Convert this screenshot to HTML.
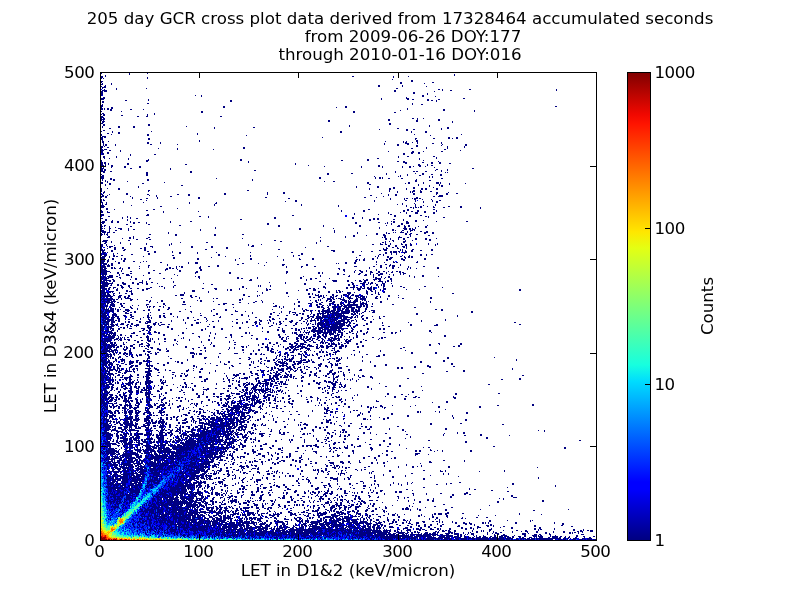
<!DOCTYPE html>
<html><head><meta charset="utf-8"><title>GCR cross plot</title>
<style>
html,body{margin:0;padding:0;background:#fff;}
body{width:800px;height:600px;overflow:hidden;}
svg{display:block;}
.tk{letter-spacing:-0.5px}
.txt{filter:grayscale(1)}
text{font-family:"DejaVu Sans","Liberation Sans",sans-serif;font-size:16.67px;fill:#000;}
</style></head><body>
<svg width="800" height="600" viewBox="0 0 800 600">
<defs>
<linearGradient id="jet" x1="0" y1="1" x2="0" y2="0">
<stop offset="0" stop-color="#000080"/>
<stop offset="0.11" stop-color="#0000ff"/>
<stop offset="0.125" stop-color="#0000ff"/>
<stop offset="0.34" stop-color="#00dcfe"/>
<stop offset="0.375" stop-color="#17ffdf"/>
<stop offset="0.5" stop-color="#7dff7a"/>
<stop offset="0.625" stop-color="#e4ff13"/>
<stop offset="0.66" stop-color="#ffe600"/>
<stop offset="0.89" stop-color="#ff1400"/>
<stop offset="0.91" stop-color="#f10800"/>
<stop offset="1" stop-color="#800000"/>
</linearGradient>
</defs>
<rect width="800" height="600" fill="#fff"/>
<g fill="none" stroke-width="1" shape-rendering="crispEdges">
<path stroke="#000080" d="M0 .5m147 72h1m-47 1h1m27 0h1m17 0h1m-19 1h1m324 0h1m-350 1h1m348 0h1m-354 1h2m2 0h1m246 0h2m39 0h1m14 0h1m-308 1h2m44 0h1m245 0h1m-293 1h1m1 0h1m43 0h1m244 1h1m18 1h2m-312 1h2m308 0h2m-312 1h1m298 0h2m30 0h2m-332 1h1m8 0h1m288 0h2m22 0h1m-324 1h2m8 0h1m-7 1h1m272 0h2m22 0h1m-302 1h1m2 0h2m272 0h2m22 0h1m23 0h1m-325 1h4m-4 1h1m13 0h1m29 0h1m249 0h2m-294 1h1m11 0h1m321 0h2m2 0h1m26 0h2m85 0h1m-455 1h5m287 0h2m46 0h1m7 0h2m104 0h1m-456 1h2m1 0h3m287 0h2m38 0h1m-334 1h2m310 0h2m-314 1h2m310 0h2m12 0h1m-327 1h2m324 0h1m-327 1h1m93 0h1m5 0h1m220 0h2m-223 1h1m220 0h2m11 0h1m-333 1h2m301 0h1m-306 1h4m276 0h1m24 0h3m54 0h2m-364 1h3m44 0h1m232 0h1m25 0h2m3 0h2m13 0h2m9 0h2m-315 1h2m21 0h1m81 0h2m195 0h2m2 0h2m3 0h1m-335 1h2m126 0h2m204 0h1m-335 1h2m43 1h2m263 0h1m-311 1h1m309 0h1m8 0h2m-322 1h2m-2 1h2m120 0h2m120 0h2m208 0h2m-456 1h1m9 0h2m110 0h2m111 0h1m8 0h2m-246 1h2m1 0h1m2 0h2m2 0h2m294 0h1m-307 1h2m1 0h1m2 0h2m1 0h2m18 0h2m11 0h1m263 0h1m35 0h2m-335 1h2m288 0h1m42 0h2m29 0h1m-374 1h1m19 0h1m79 0h2m150 0h2m119 0h1m-274 1h2m150 0h2m39 0h2m-294 1h2m50 0h1m-54 1h1m1 0h2m42 0h1m6 0h1m-52 1h2m16 0h2m24 0h1m-47 1h2m34 0h2m7 0h2m72 0h2m-121 1h3m-3 1h1m1 0h2m307 0h2m3 0h1m5 0h1m-323 1h4m283 0h2m27 0h1m20 0h2m-339 1h1m1 0h1m224 0h2m58 0h2m26 0h2m20 0h2m-338 1h3m223 0h2m86 0h2m34 0h1m-351 1h2m348 0h1m-352 1h2m286 0h2m-288 1h2m43 0h2m239 0h2m-288 1h2m43 0h2m199 0h1m79 0h1m-328 1h1m15 0h2m13 0h2m51 0h1m162 0h1m79 0h1m-328 1h1m15 0h2m13 0h2m79 0h1m38 0h2m192 0h2m-340 1h2m103 0h1m182 0h2m42 0h1m5 0h2m-70 1h1m26 0h2m5 0h2m26 0h1m-339 1h2m301 0h2m-307 1h1m10 0h1m38 0h1m188 0h2m69 0h1m13 0h2m-315 1h1m5 0h2m220 0h2m69 0h1m13 0h2m-320 1h2m9 0h2m77 0h1m-97 1h1m9 0h1m35 0h2m48 0h1m216 0h1m46 0h1m-361 1h1m45 0h2m97 0h1m183 0h1m-329 1h4m-5 1h2m1 0h2m216 0h1m125 0h2m6 0h2m-357 1h2m45 0h2m265 0h2m16 0h2m13 0h2m2 0h1m3 0h2m-357 1h2m45 0h2m265 0h1m-314 1h1m96 0h1m216 0h2m-316 1h2m4 0h1m90 0h1m185 0h1m17 0h1m2 0h1m9 0h2m-316 1h2m43 0h2m11 0h1m242 0h1m1 0h2m5 0h1m4 0h1m23 0h1m-339 1h1m43 0h2m11 0h1m223 0h1m20 0h4m8 0h1m14 0h2m7 0h1m-339 1h1m1 0h2m8 0h1m34 0h2m25 0h1m206 0h1m12 0h2m8 0h2m33 0h1m22 0h2m-364 1h1m1 0h2m8 0h1m281 0h2m17 0h2m23 0h1m23 0h2m-366 1h2m1 0h1m311 0h2m29 0h1m16 0h1m-364 1h2m4 0h2m134 0h2m181 0h1m20 0h1m16 0h1m-364 1h1m56 0h1m18 0h1m65 0h2m166 0h2m13 0h1m20 0h1m-347 1h2m1 0h3m70 0h1m35 0h1m230 0h2m-345 1h3m5 0h2m9 0h1m339 0h1m-360 1h2m17 0h1m267 0h1m23 0h2m9 0h1m17 0h2m-342 1h2m4 0h2m302 0h3m4 0h2m-318 1h2m3 0h2m294 0h2m6 0h2m5 0h2m-318 1h2m26 0h1m23 0h2m247 0h2m-275 1h1m-28 1h2m11 0h1m281 0h1m8 0h2m24 0h2m-332 1h2m11 0h1m281 0h1m37 0h1m-333 1h1m4 0h1m18 0h1m248 0h2m40 0h1m16 0h1m-309 1h1m19 0h1m91 0h2m125 0h2m50 0h1m-319 1h1m44 0h3m91 0h2m99 0h2m24 0h2m54 0h1m-323 1h1m44 0h2m100 0h1m148 0h2m4 0h2m33 0h1m-338 1h2m1 0h2m142 0h1m154 0h4m15 0h2m7 0h2m6 0h2m-340 1h2m1 0h2m2 0h1m18 0h2m166 0h1m109 0h2m24 0h2m6 0h2m8 0h2m-350 1h2m2 0h1m2 0h1m18 0h2m56 0h2m108 0h1m122 0h2m7 0h1m-327 1h3m1 0h1m5 0h2m195 0h1m69 0h2m38 0h3m6 0h1m3 0h2m-332 1h3m7 0h2m11 0h2m13 0h2m183 0h1m36 0h1m16 0h2m2 0h1m19 0h1m6 0h2m2 0h1m5 0h2m4 0h1m-325 1h1m1 0h1m7 0h1m12 0h2m13 0h2m220 0h1m20 0h1m19 0h1m6 0h2m23 0h1m-334 1h3m26 0h2m38 0h1m301 0h2m-373 1h2m1 0h2m64 0h1m265 0h2m9 0h1m-347 1h2m1 0h2m148 0h2m179 0h1m5 0h1m5 0h1m-347 1h4m5 0h2m78 0h2m203 0h1m17 0h2m1 0h2m7 0h2m14 0h1m-339 1h2m41 0h2m42 0h2m203 0h1m49 0h1m1 0h1m-302 1h2m179 0h2m22 0h2m33 0h1m28 0h1m6 0h2m-323 1h1m44 0h2m179 0h2m57 0h1m20 0h1m14 0h2m7 0h2m7 0h2m-340 1h2m42 0h2m252 0h1m6 0h1m11 0h2m19 0h2m-341 1h3m270 0h1m23 0h1m1 0h1m28 0h1m2 0h1m-332 1h3m215 0h2m54 0h1m3 0h2m1 0h1m46 0h1m2 0h1m-332 1h3m6 0h2m104 0h1m102 0h2m54 0h1m3 0h2m1 0h1m5 0h2m11 0h2m38 0h2m-341 1h1m7 0h2m1 0h2m32 0h2m103 0h1m163 0h1m-315 1h1m2 0h1m7 0h2m32 0h2m103 0h1m162 0h2m12 0h2m-326 1h1m1 0h1m19 0h1m196 0h1m8 0h2m80 0h2m-316 1h2m4 0h1m56 0h1m202 0h2m39 0h2m13 0h1m12 0h3m1 0h1m-340 1h2m6 0h2m31 0h2m223 0h2m36 0h1m2 0h2m13 0h1m12 0h3m1 0h1m8 0h1m15 0h1m-361 1h1m3 0h2m258 0h2m47 0h1m20 0h1m9 0h1m-345 1h1m75 0h2m235 0h1m10 0h1m9 0h1m1 0h2m-305 1h1m217 0h1m20 0h2m50 0h1m11 0h2m-305 1h1m217 0h1m20 0h2m14 0h2m18 0h2m18 0h1m-333 1h1m5 0h1m10 0h2m249 0h1m19 0h2m2 0h2m11 0h1m6 0h2m6 0h2m2 0h2m9 0h2m-337 1h1m16 0h2m249 0h1m19 0h2m15 0h1m14 0h2m2 0h2m9 0h2m-337 1h1m46 0h2m97 0h2m140 0h1m23 0h2m5 0h1m-320 1h1m2 0h1m43 0h1m240 0h1m7 0h1m12 0h1m1 0h3m5 0h2m8 0h2m-329 1h2m162 0h1m15 0h2m112 0h1m12 0h1m1 0h1m7 0h2m14 0h2m10 0h1m-346 1h1m22 0h2m96 0h2m41 0h1m15 0h2m96 0h1m31 0h2m21 0h2m8 0h2m8 0h2m-357 1h2m6 0h1m16 0h2m19 0h2m28 0h2m9 0h2m34 0h2m41 0h1m120 0h1m6 0h2m16 0h2m21 0h1m9 0h2m-346 1h2m3 0h1m41 0h1m6 0h1m31 0h2m180 0h2m16 0h1m6 0h2m42 0h4m-342 1h3m1 0h2m23 0h1m25 0h1m13 0h2m211 0h1m49 0h2m3 0h5m-342 1h1m3 0h2m25 0h1m24 0h1m40 0h2m65 0h2m97 0h2m10 0h1m39 0h2m-286 1h1m13 0h2m9 0h1m40 0h2m88 0h2m100 0h1m13 0h1m1 0h2m4 0h1m1 0h4m1 0h2m-320 1h1m1 0h1m36 0h2m248 0h1m13 0h1m9 0h2m6 0h1m8 0h1m-331 1h1m1 0h2m41 0h1m148 0h2m77 0h1m30 0h2m8 0h1m16 0h1m6 0h2m-340 1h1m21 0h1m161 0h1m9 0h2m77 0h1m40 0h1m7 0h1m8 0h1m3 0h2m-337 1h2m3 0h1m16 0h1m19 0h1m45 0h1m26 0h1m206 0h1m12 0h2m-336 1h1m3 0h1m82 0h1m25 0h2m185 0h1m11 0h1m-313 1h1m2 0h2m107 0h1m86 0h1m95 0h1m4 0h1m12 0h1m19 0h1m-335 1h3m27 0h1m82 0h1m86 0h1m36 0h1m67 0h1m8 0h1m7 0h1m11 0h1m-335 1h4m55 0h2m176 0h1m67 0h1m8 0h1m4 0h2m5 0h1m5 0h1m14 0h2m10 0h2m-361 1h3m306 0h2m1 0h1m1 0h2m1 0h1m1 0h2m11 0h2m8 0h2m15 0h2m18 0h1m-375 1h2m69 0h1m235 0h1m66 0h1m-375 1h2m6 0h1m38 0h2m213 0h2m37 0h2m24 0h2m-334 1h1m44 0h2m193 0h1m21 0h2m38 0h2m2 0h2m8 0h2m17 0h1m-336 1h2m4 0h1m55 0h1m34 0h1m142 0h1m21 0h2m38 0h2m6 0h2m4 0h2m5 0h2m10 0h1m-336 1h2m4 0h3m53 0h1m224 0h1m11 0h1m5 0h1m8 0h3m6 0h2m7 0h2m-81 1h1m33 0h1m17 0h1m8 0h3m15 0h2m-334 1h3m43 0h2m205 0h1m23 0h1m11 0h2m-291 1h3m42 0h3m143 0h2m100 0h2m13 0h2m9 0h2m-314 1h2m17 0h1m71 0h2m7 0h1m185 0h2m13 0h2m14 0h2m1 0h1m-307 1h1m4 0h1m2 0h1m77 0h1m65 0h2m76 0h2m8 0h1m65 0h1m14 0h2m-344 1h2m19 0h1m7 0h1m5 0h2m136 0h2m76 0h2m8 0h1m10 0h2m2 0h2m-274 1h2m20 0h1m112 0h2m127 0h2m2 0h2m2 0h2m14 0h2m8 0h1m-299 1h2m5 0h1m14 0h1m241 0h2m32 0h1m11 0h2m6 0h1m-322 1h3m6 0h2m4 0h2m11 0h1m39 0h1m19 0h2m199 0h1m1 0h2m11 0h2m7 0h2m19 0h1m29 0h2m-367 1h4m6 0h2m4 0h2m11 0h1m2 0h2m3 0h2m6 0h1m23 0h1m184 0h2m21 0h2m7 0h1m5 0h2m11 0h3m-307 1h2m29 0h2m11 0h1m120 0h2m86 0h2m28 0h1m1 0h1m3 0h1m9 0h2m3 0h3m-308 1h1m24 0h2m20 0h2m117 0h2m122 0h1m9 0h2m-302 1h1m2 0h2m73 0h2m97 0h2m43 0h1m35 0h2m25 0h1m11 0h2m4 0h1m3 0h2m17 0h1m-327 1h2m1 0h1m4 0h1m20 0h2m146 0h2m43 0h1m35 0h2m36 0h3m4 0h2m2 0h2m8 0h1m6 0h2m-326 1h1m7 0h1m5 0h1m99 0h1m163 0h1m24 0h2m9 0h1m9 0h2m-326 1h2m1 0h1m4 0h2m7 0h4m6 0h1m86 0h1m83 0h2m32 0h1m45 0h1m23 0h4m2 0h2m1 0h1m2 0h1m-315 1h1m7 0h1m10 0h2m6 0h1m4 0h2m65 0h1m98 0h2m91 0h2m10 0h3m2 0h2m1 0h3m-314 1h3m5 0h1m5 0h2m11 0h1m71 0h1m133 0h1m57 0h2m1 0h1m6 0h2m6 0h3m1 0h1m-314 1h5m3 0h1m224 0h1m66 0h1m5 0h1m2 0h1m9 0h2m4 0h2m-326 1h4m1 0h3m3 0h2m53 0h1m165 0h1m22 0h1m28 0h1m6 0h1m1 0h1m4 0h4m3 0h1m16 0h4m4 0h2m-333 1h1m2 0h1m2 0h1m60 0h1m188 0h1m18 0h2m8 0h1m1 0h2m15 0h2m3 0h2m12 0h2m6 0h2m-333 1h2m1 0h1m1 0h2m41 0h2m24 0h2m37 0h2m26 0h2m132 0h2m5 0h2m20 0h2m2 0h2m5 0h2m-317 1h1m5 0h1m67 0h2m37 0h2m137 0h2m11 0h1m16 0h3m24 0h1m17 0h2m-322 1h2m23 0h1m211 0h1m7 0h2m29 0h2m13 0h1m10 0h1m-304 1h3m19 0h2m2 0h1m14 0h2m170 0h1m24 0h1m36 0h1m1 0h2m12 0h4m5 0h2m-287 1h1m6 0h2m2 0h1m12 0h2m94 0h1m142 0h2m3 0h1m7 0h1m4 0h2m10 0h2m8 0h2m9 0h1m-301 1h2m11 0h2m234 0h2m3 0h1m7 0h1m4 0h2m10 0h2m8 0h2m2 0h2m-328 1h5m20 0h2m144 0h2m44 0h1m71 0h2m11 0h1m6 0h1m16 0h2m-329 1h5m4 0h1m168 0h2m38 0h1m64 0h1m3 0h1m3 0h1m9 0h3m-301 1h2m4 0h1m8 0h1m59 0h1m25 0h2m108 0h1m65 0h2m1 0h1m17 0h2m-301 1h2m14 0h1m9 0h1m15 0h1m24 0h1m144 0h1m63 0h1m4 0h1m4 0h1m10 0h1m8 0h1m17 0h1m8 0h1m-337 1h2m3 0h1m23 0h1m15 0h1m22 0h1m1 0h1m76 0h1m12 0h1m110 0h2m6 0h3m2 0h2m3 0h1m10 0h2m2 0h2m3 0h2m16 0h1m6 0h1m1 0h1m-337 1h2m3 0h1m7 0h1m54 0h1m78 0h1m3 0h2m134 0h2m5 0h2m8 0h2m3 0h2m23 0h1m-335 1h2m4 0h1m1 0h4m37 0h3m38 0h2m18 0h2m38 0h3m73 0h2m59 0h2m5 0h2m5 0h3m1 0h1m-306 1h1m7 0h2m3 0h2m6 0h2m20 0h2m6 0h1m38 0h2m18 0h2m13 0h2m77 0h1m80 0h1m5 0h2m3 0h1m5 0h2m1 0h1m-306 1h1m5 0h1m6 0h2m6 0h2m16 0h2m2 0h2m80 0h2m155 0h1m2 0h2m9 0h2m7 0h1m-306 1h2m1 0h1m9 0h2m8 0h2m18 0h2m59 0h2m71 0h2m103 0h4m13 0h1m1 0h1m9 0h2m17 0h2m-332 1h4m6 0h2m10 0h2m19 0h2m185 0h4m44 0h2m3 0h3m13 0h1m1 0h1m2 0h1m5 0h2m7 0h2m9 0h2m-331 1h2m7 0h2m34 0h2m5 0h2m16 0h1m160 0h2m17 0h2m7 0h1m9 0h2m17 0h2m1 0h4m1 0h2m2 0h1m2 0h2m4 0h2m-311 1h4m1 0h1m46 0h2m16 0h1m6 0h2m16 0h1m18 0h1m33 0h1m40 0h2m59 0h2m31 0h2m3 0h2m1 0h4m2 0h1m3 0h4m-306 1h1m1 0h2m8 0h1m3 0h1m30 0h2m29 0h2m16 0h1m103 0h2m82 0h2m4 0h1m4 0h1m7 0h1m-304 1h1m1 0h4m6 0h1m17 0h2m15 0h2m68 0h2m81 0h2m76 0h2m2 0h1m7 0h1m4 0h1m23 0h2m4 0h1m4 0h2m-332 1h1m2 0h3m6 0h2m6 0h2m49 0h2m44 0h2m30 0h1m42 0h1m4 0h2m59 0h2m17 0h1m4 0h1m18 0h1m6 0h1m10 0h2m4 0h1m-325 1h4m3 0h1m3 0h2m1 0h2m25 0h1m81 0h1m24 0h1m26 0h1m15 0h1m81 0h1m2 0h1m8 0h2m11 0h2m2 0h1m3 0h2m1 0h2m-312 1h4m4 0h1m63 0h2m36 0h1m144 0h1m20 0h1m9 0h2m1 0h3m11 0h2m2 0h2m1 0h2m-312 1h4m7 0h2m7 0h1m2 0h2m47 0h2m22 0h2m40 0h1m10 0h2m47 0h1m12 0h2m50 0h1m7 0h2m3 0h1m11 0h3m9 0h2m2 0h1m18 0h2m-325 1h5m2 0h1m3 0h2m7 0h1m2 0h2m71 0h2m36 0h1m14 0h2m31 0h1m15 0h2m11 0h2m42 0h2m1 0h1m3 0h2m7 0h2m12 0h2m1 0h2m10 0h4m19 0h2m-325 1h4m2 0h2m14 0h2m110 0h1m47 0h1m71 0h2m2 0h1m3 0h2m21 0h2m15 0h2m-304 1h4m2 0h2m6 0h1m7 0h2m8 0h2m8 0h1m2 0h1m208 0h2m19 0h1m16 0h1m23 0h1m-317 1h3m3 0h1m10 0h2m20 0h1m19 0h2m26 0h1m6 0h3m68 0h1m78 0h2m7 0h2m20 0h1m7 0h1m8 0h2m1 0h2m18 0h2m-317 1h6m4 0h2m5 0h2m68 0h1m6 0h3m44 0h2m14 0h1m77 0h1m1 0h1m6 0h2m7 0h2m-253 1h4m1 0h1m2 0h2m54 0h1m69 0h2m43 0h3m21 0h2m68 0h1m8 0h2m3 0h1m9 0h1m-299 1h3m2 0h3m1 0h2m35 0h2m17 0h1m49 0h2m45 0h1m17 0h2m22 0h2m72 0h2m7 0h2m1 0h3m5 0h1m-300 1h5m1 0h3m29 0h1m8 0h1m27 0h1m2 0h1m1 0h2m17 0h1m7 0h2m7 0h2m67 0h1m14 0h2m11 0h2m38 0h3m16 0h2m5 0h2m7 0h1m2 0h3m13 0h1m14 0h2m-324 1h5m5 0h2m1 0h1m5 0h1m7 0h2m18 0h1m20 0h2m5 0h1m4 0h2m16 0h2m85 0h1m14 0h1m67 0h1m10 0h2m4 0h1m5 0h2m4 0h1m9 0h1m1 0h1m26 0h2m-338 1h2m1 0h3m4 0h2m1 0h2m3 0h2m1 0h1m5 0h2m9 0h1m26 0h2m1 0h2m1 0h2m2 0h1m22 0h2m137 0h2m29 0h1m16 0h1m5 0h2m13 0h1m2 0h1m5 0h1m20 0h2m-338 1h5m16 0h1m42 0h3m9 0h1m22 0h2m137 0h1m3 0h2m31 0h1m30 0h1m-307 1h6m14 0h1m31 0h2m10 0h1m13 0h2m19 0h2m141 0h2m10 0h1m3 0h2m5 0h1m9 0h1m-276 1h9m11 0h1m8 0h2m47 0h2m15 0h2m88 0h2m56 0h1m9 0h1m5 0h3m3 0h1m3 0h2m6 0h2m3 0h2m3 0h1m3 0h1m3 0h2m1 0h2m-300 1h6m3 0h1m6 0h2m29 0h2m45 0h3m31 0h2m55 0h2m30 0h2m2 0h1m31 0h1m6 0h2m7 0h3m5 0h2m6 0h1m4 0h2m6 0h2m1 0h2m-302 1h5m10 0h2m3 0h2m6 0h2m16 0h2m9 0h2m34 0h1m33 0h2m55 0h1m31 0h2m2 0h1m14 0h2m20 0h2m9 0h1m5 0h2m2 0h3m3 0h1m13 0h1m2 0h3m-304 1h5m12 0h1m6 0h3m45 0h1m162 0h2m4 0h2m13 0h2m5 0h2m3 0h1m2 0h1m4 0h5m6 0h1m3 0h1m6 0h1m2 0h1m-302 1h2m1 0h1m3 0h4m6 0h1m6 0h4m13 0h1m33 0h1m142 0h1m28 0h1m14 0h3m6 0h1m4 0h2m13 0h1m15 0h1m12 0h2m-323 1h1m1 0h2m2 0h6m3 0h2m13 0h1m63 0h1m2 0h2m103 0h1m16 0h1m27 0h2m23 0h1m7 0h1m6 0h2m19 0h1m4 0h1m7 0h2m14 0h1m-338 1h6m1 0h5m6 0h2m10 0h1m66 0h2m37 0h2m18 0h1m42 0h2m71 0h1m1 0h2m4 0h1m3 0h1m2 0h2m24 0h1m-314 1h3m1 0h4m11 0h1m14 0h2m12 0h2m12 0h2m6 0h1m27 0h1m37 0h2m2 0h2m14 0h1m42 0h2m8 0h2m3 0h2m12 0h1m45 0h6m3 0h1m5 0h2m-291 1h2m1 0h3m5 0h2m16 0h1m4 0h2m12 0h1m100 0h2m54 0h1m3 0h2m51 0h1m2 0h2m5 0h4m1 0h3m9 0h2m-291 1h1m1 0h8m2 0h2m27 0h1m106 0h3m54 0h1m25 0h5m10 0h2m6 0h1m3 0h2m3 0h4m6 0h1m4 0h2m6 0h2m2 0h1m-291 1h4m1 0h1m2 0h2m2 0h2m27 0h1m3 0h1m26 0h1m145 0h2m12 0h4m10 0h2m10 0h3m2 0h2m12 0h5m2 0h1m1 0h2m2 0h1m-290 1h6m4 0h1m9 0h2m8 0h2m5 0h4m3 0h1m4 0h2m20 0h1m95 0h1m15 0h1m65 0h2m10 0h3m2 0h1m2 0h2m9 0h1m2 0h1m-284 1h11m9 0h4m6 0h2m3 0h2m3 0h1m3 0h2m9 0h1m45 0h1m81 0h1m18 0h2m19 0h1m26 0h2m6 0h5m3 0h1m1 0h3m2 0h1m6 0h3m6 0h1m-290 1h7m2 0h1m5 0h2m4 0h3m11 0h2m7 0h2m63 0h2m91 0h2m19 0h1m22 0h2m2 0h2m8 0h3m1 0h2m2 0h1m5 0h2m3 0h1m1 0h2m-284 1h7m2 0h2m5 0h2m1 0h2m6 0h2m44 0h2m82 0h1m1 0h1m9 0h1m77 0h2m3 0h2m9 0h1m11 0h2m3 0h1m1 0h2m7 0h1m-292 1h7m13 0h2m5 0h2m29 0h1m1 0h2m10 0h1m68 0h2m14 0h1m1 0h1m9 0h1m52 0h2m28 0h2m5 0h2m1 0h2m6 0h1m6 0h1m4 0h2m7 0h1m7 0h2m22 0h2m-325 1h4m4 0h2m2 0h3m5 0h3m5 0h1m20 0h2m12 0h1m8 0h1m68 0h2m79 0h3m20 0h2m2 0h5m1 0h2m2 0h2m2 0h1m2 0h2m1 0h2m1 0h2m3 0h1m4 0h1m19 0h2m37 0h1m-341 1h5m1 0h2m3 0h1m3 0h1m4 0h1m7 0h2m5 0h2m7 0h4m14 0h1m37 0h2m10 0h3m22 0h1m6 0h1m19 0h1m42 0h2m2 0h2m3 0h1m6 0h1m20 0h2m5 0h1m3 0h4m1 0h3m2 0h5m1 0h2m8 0h3m-284 1h5m1 0h2m6 0h2m24 0h2m2 0h2m67 0h2m10 0h1m2 0h2m7 0h1m26 0h2m1 0h2m35 0h2m5 0h3m37 0h1m3 0h4m7 0h4m1 0h2m5 0h1m2 0h3m20 0h1m12 0h1m99 0h2m-420 1h4m3 0h1m7 0h2m8 0h2m3 0h1m10 0h2m48 0h3m32 0h1m2 0h2m34 0h2m30 0h1m7 0h2m5 0h3m20 0h1m1 0h2m18 0h2m6 0h1m3 0h2m3 0h1m4 0h1m138 0h2m-420 1h4m4 0h5m12 0h2m1 0h3m60 0h3m13 0h1m48 0h1m60 0h2m8 0h2m6 0h1m2 0h2m1 0h1m23 0h2m3 0h2m2 0h1m8 0h1m-284 1h7m1 0h2m1 0h1m6 0h1m11 0h1m52 0h1m23 0h1m53 0h1m23 0h2m30 0h2m8 0h2m6 0h2m1 0h2m6 0h4m3 0h1m11 0h2m7 0h1m2 0h1m4 0h2m-284 1h5m1 0h2m4 0h2m4 0h1m5 0h2m4 0h2m51 0h1m77 0h1m23 0h2m20 0h2m2 0h1m34 0h4m15 0h2m7 0h1m2 0h1m73 0h2m-353 1h1m1 0h3m1 0h3m3 0h1m17 0h2m47 0h4m59 0h2m63 0h2m2 0h1m2 0h1m2 0h1m13 0h2m9 0h4m1 0h2m2 0h2m13 0h1m3 0h2m5 0h2m-279 1h10m2 0h2m4 0h3m6 0h2m45 0h2m3 0h4m6 0h2m51 0h2m12 0h1m1 0h1m55 0h4m1 0h2m1 0h1m2 0h1m5 0h2m2 0h2m3 0h1m1 0h2m2 0h2m2 0h3m1 0h4m2 0h2m25 0h2m8 0h1m-298 1h12m5 0h3m3 0h2m2 0h2m60 0h2m3 0h2m51 0h2m7 0h1m30 0h1m20 0h2m7 0h4m1 0h1m6 0h2m1 0h1m1 0h2m4 0h1m5 0h2m1 0h1m4 0h4m1 0h5m1 0h1m9 0h2m2 0h1m7 0h2m-289 1h1m1 0h2m1 0h2m2 0h2m6 0h3m3 0h2m1 0h2m22 0h1m39 0h2m6 0h1m109 0h2m2 0h2m3 0h2m3 0h2m5 0h4m7 0h1m1 0h1m3 0h4m5 0h1m1 0h3m1 0h3m1 0h1m8 0h2m3 0h1m17 0h1m31 0h2m-330 1h2m3 0h6m5 0h1m2 0h1m3 0h6m50 0h2m16 0h1m13 0h1m2 0h2m24 0h1m79 0h1m4 0h4m1 0h2m2 0h1m1 0h3m2 0h1m4 0h5m3 0h2m2 0h6m9 0h3m9 0h1m14 0h2m26 0h2m-331 1h14m1 0h2m3 0h1m8 0h3m4 0h1m101 0h2m1 0h1m54 0h1m20 0h1m1 0h1m6 0h5m1 0h2m5 0h5m4 0h1m5 0h3m2 0h6m21 0h1m-287 1h1m1 0h2m2 0h5m1 0h2m15 0h2m14 0h2m2 0h1m10 0h2m34 0h1m2 0h2m37 0h2m20 0h1m48 0h1m4 0h2m1 0h1m1 0h1m5 0h2m2 0h2m10 0h5m1 0h1m1 0h1m3 0h4m4 0h1m1 0h2m-264 1h8m1 0h5m33 0h2m10 0h2m20 0h2m15 0h2m11 0h1m41 0h2m5 0h1m35 0h2m15 0h2m9 0h1m2 0h3m1 0h2m6 0h1m2 0h3m1 0h3m2 0h5m2 0h1m5 0h1m1 0h1m11 0h2m48 0h1m-327 1h1m1 0h7m1 0h1m2 0h2m30 0h1m7 0h1m25 0h2m54 0h2m12 0h2m7 0h1m35 0h2m12 0h1m3 0h2m3 0h2m9 0h3m5 0h2m3 0h2m1 0h8m4 0h1m1 0h2m2 0h1m13 0h2m48 0h1m-330 1h5m1 0h2m2 0h3m6 0h2m1 0h2m38 0h2m58 0h4m21 0h1m24 0h1m20 0h1m13 0h4m7 0h2m8 0h5m6 0h3m5 0h2m3 0h2m5 0h7m5 0h1m-272 1h3m1 0h1m1 0h1m2 0h5m5 0h2m24 0h3m14 0h2m17 0h4m32 0h2m3 0h2m7 0h2m60 0h1m15 0h2m4 0h2m1 0h3m7 0h2m3 0h2m1 0h2m1 0h2m1 0h2m2 0h11m2 0h4m1 0h3m4 0h1m19 0h2m-293 1h2m2 0h3m2 0h5m6 0h2m9 0h1m5 0h1m7 0h1m18 0h1m109 0h2m21 0h2m11 0h1m4 0h2m4 0h2m3 0h1m1 0h2m3 0h2m1 0h2m2 0h2m1 0h14m2 0h2m1 0h2m1 0h2m-267 1h3m1 0h3m2 0h1m1 0h3m6 0h2m7 0h1m16 0h1m1 0h2m2 0h2m4 0h2m2 0h1m26 0h1m82 0h4m2 0h1m3 0h1m14 0h2m11 0h1m5 0h3m1 0h2m5 0h1m3 0h5m1 0h4m1 0h4m1 0h4m4 0h6m1 0h2m1 0h2m3 0h2m-272 1h4m1 0h1m3 0h2m7 0h1m3 0h2m5 0h2m15 0h1m1 0h1m3 0h1m9 0h1m4 0h2m63 0h1m45 0h1m3 0h1m33 0h3m1 0h3m3 0h2m3 0h4m2 0h3m3 0h11m1 0h5m5 0h2m46 0h2m-314 1h3m1 0h1m1 0h1m1 0h4m1 0h1m15 0h2m4 0h1m30 0h2m111 0h1m12 0h1m7 0h1m20 0h2m3 0h2m3 0h3m1 0h4m1 0h3m1 0h3m2 0h4m3 0h2m5 0h2m-264 1h6m1 0h4m1 0h1m1 0h2m1 0h1m4 0h4m8 0h1m10 0h2m8 0h2m7 0h2m16 0h1m27 0h2m10 0h2m45 0h1m21 0h1m7 0h1m2 0h2m15 0h2m3 0h3m3 0h3m1 0h4m1 0h2m1 0h4m2 0h3m1 0h2m1 0h2m5 0h2m68 0h2m4 0h2m-342 1h1m1 0h1m1 0h9m3 0h2m6 0h5m13 0h2m3 0h2m8 0h2m51 0h1m13 0h2m8 0h1m67 0h2m1 0h3m1 0h2m3 0h1m2 0h2m2 0h8m1 0h5m1 0h2m1 0h3m2 0h5m1 0h3m1 0h5m5 0h1m5 0h4m66 0h2m-342 1h3m1 0h9m3 0h2m4 0h2m2 0h2m5 0h2m43 0h2m9 0h2m19 0h1m23 0h3m7 0h1m35 0h1m7 0h2m12 0h2m5 0h2m6 0h2m1 0h14m1 0h4m1 0h9m1 0h9m4 0h2m3 0h1m3 0h2m96 0h2m-372 1h2m1 0h3m2 0h1m3 0h1m11 0h2m3 0h2m2 0h2m14 0h1m40 0h1m60 0h1m20 0h2m6 0h1m7 0h1m2 0h4m15 0h1m7 0h1m2 0h2m1 0h6m1 0h6m3 0h9m3 0h2m1 0h2m4 0h2m8 0h3m96 0h2m-372 1h6m6 0h3m9 0h4m19 0h1m14 0h2m5 0h2m28 0h1m15 0h2m34 0h1m17 0h2m7 0h1m9 0h1m5 0h1m3 0h2m1 0h2m7 0h1m5 0h9m1 0h2m1 0h19m2 0h2m1 0h2m1 0h1m1 0h1m1 0h1m54 0h2m-316 1h4m1 0h1m4 0h5m13 0h2m16 0h1m21 0h2m44 0h2m13 0h2m8 0h2m27 0h2m21 0h2m1 0h2m4 0h2m6 0h1m2 0h2m2 0h2m1 0h1m1 0h2m3 0h3m2 0h2m1 0h7m1 0h1m7 0h5m3 0h1m56 0h2m-317 1h6m5 0h5m6 0h3m4 0h2m15 0h2m1 0h1m8 0h2m2 0h2m35 0h2m11 0h2m26 0h2m5 0h1m28 0h2m7 0h2m8 0h2m9 0h2m4 0h2m2 0h2m3 0h6m1 0h1m1 0h3m1 0h10m8 0h1m2 0h2m4 0h2m93 0h1m-357 1h6m1 0h2m2 0h2m1 0h4m5 0h2m5 0h3m13 0h2m10 0h2m2 0h2m8 0h1m3 0h1m42 0h1m27 0h1m20 0h2m36 0h2m1 0h4m2 0h5m1 0h6m1 0h1m1 0h4m1 0h12m3 0h2m2 0h1m1 0h1m3 0h2m9 0h1m6 0h1m3 0h2m72 0h1m-356 1h4m1 0h1m1 0h1m1 0h4m2 0h2m11 0h2m11 0h1m3 0h3m1 0h1m7 0h2m3 0h2m11 0h1m9 0h2m4 0h1m10 0h2m13 0h2m34 0h2m12 0h2m30 0h2m5 0h2m2 0h2m2 0h23m1 0h2m1 0h10m1 0h2m1 0h1m3 0h1m4 0h2m11 0h1m-277 1h6m2 0h3m3 0h3m5 0h1m6 0h2m6 0h1m7 0h1m2 0h1m35 0h2m17 0h1m65 0h2m5 0h1m5 0h2m14 0h2m4 0h2m2 0h1m3 0h8m5 0h3m1 0h1m1 0h4m2 0h2m1 0h4m3 0h2m10 0h2m2 0h2m11 0h2m-279 1h2m1 0h9m4 0h2m5 0h1m2 0h2m10 0h1m7 0h2m33 0h1m13 0h2m7 0h1m29 0h2m11 0h1m9 0h1m9 0h1m2 0h3m10 0h2m14 0h1m3 0h2m4 0h1m2 0h1m2 0h2m1 0h2m1 0h6m1 0h6m1 0h1m3 0h9m5 0h1m6 0h2m9 0h1m71 0h1m-344 1h4m1 0h7m1 0h2m1 0h2m16 0h2m11 0h2m20 0h1m11 0h1m10 0h2m11 0h1m10 0h1m40 0h3m5 0h1m1 0h2m20 0h2m6 0h2m6 0h1m2 0h6m1 0h2m1 0h3m1 0h4m2 0h1m1 0h5m1 0h7m2 0h2m2 0h3m2 0h1m7 0h2m55 0h1m23 0h1m-343 1h7m1 0h4m3 0h2m5 0h1m2 0h2m9 0h2m5 0h5m20 0h1m34 0h1m5 0h2m4 0h1m13 0h1m13 0h2m7 0h2m3 0h2m8 0h1m8 0h2m2 0h1m5 0h4m10 0h2m2 0h1m2 0h2m3 0h1m4 0h2m2 0h5m1 0h3m1 0h1m1 0h9m2 0h3m1 0h1m4 0h1m13 0h2m49 0h1m-320 1h7m2 0h4m10 0h1m2 0h2m9 0h2m4 0h1m1 0h4m4 0h2m3 0h2m23 0h1m10 0h3m1 0h1m35 0h2m4 0h1m3 0h2m6 0h3m2 0h1m8 0h1m4 0h1m5 0h2m9 0h2m4 0h2m8 0h1m8 0h1m2 0h6m1 0h4m2 0h1m2 0h7m2 0h5m1 0h2m19 0h2m10 0h1m25 0h1m105 0h2m-413 1h2m1 0h3m2 0h2m8 0h3m7 0h2m12 0h3m5 0h3m2 0h1m26 0h1m10 0h3m37 0h2m4 0h1m12 0h2m2 0h1m8 0h1m4 0h1m2 0h1m3 0h2m13 0h2m4 0h1m4 0h1m1 0h1m1 0h1m4 0h1m1 0h8m1 0h3m2 0h1m1 0h1m1 0h10m1 0h1m2 0h2m2 0h2m11 0h2m14 0h1m-282 1h1m1 0h6m1 0h4m1 0h3m2 0h4m3 0h2m2 0h2m3 0h3m14 0h3m2 0h1m2 0h4m3 0h2m21 0h2m16 0h1m45 0h1m3 0h2m15 0h1m2 0h2m14 0h2m10 0h2m3 0h2m1 0h1m1 0h8m1 0h19m3 0h2m6 0h2m8 0h2m42 0h2m24 0h2m81 0h2m-420 1h2m2 0h2m1 0h1m2 0h4m1 0h2m8 0h2m2 0h1m3 0h5m8 0h3m4 0h1m4 0h2m30 0h2m59 0h2m17 0h2m12 0h2m6 0h2m12 0h1m9 0h2m1 0h3m1 0h6m2 0h6m1 0h6m1 0h5m5 0h2m5 0h2m17 0h2m26 0h2m22 0h4m-337 1h4m2 0h7m13 0h1m2 0h2m4 0h1m10 0h2m1 0h2m15 0h2m38 0h2m4 0h2m17 0h1m36 0h2m41 0h3m2 0h2m2 0h2m1 0h2m2 0h15m4 0h2m1 0h1m2 0h2m33 0h2m-289 1h4m1 0h6m8 0h2m1 0h2m2 0h1m19 0h5m15 0h2m44 0h2m24 0h2m7 0h1m13 0h1m15 0h2m26 0h1m1 0h3m2 0h1m1 0h2m1 0h11m1 0h12m9 0h1m1 0h2m-254 1h3m3 0h2m1 0h4m4 0h2m3 0h2m4 0h3m9 0h4m3 0h3m20 0h2m13 0h1m18 0h1m15 0h2m16 0h2m21 0h1m19 0h1m8 0h2m2 0h2m4 0h1m1 0h2m1 0h1m1 0h3m2 0h4m1 0h5m1 0h5m1 0h14m2 0h2m3 0h2m14 0h2m10 0h2m2 0h2m-284 1h3m3 0h2m1 0h1m1 0h2m4 0h2m23 0h2m4 0h2m20 0h2m28 0h2m2 0h1m15 0h2m54 0h2m3 0h1m12 0h2m1 0h2m1 0h1m10 0h4m2 0h3m1 0h4m1 0h10m1 0h2m1 0h3m8 0h2m13 0h2m10 0h2m2 0h2m-284 1h3m1 0h4m2 0h3m3 0h1m24 0h2m2 0h2m1 0h2m50 0h2m74 0h2m3 0h3m10 0h2m1 0h2m4 0h1m2 0h1m3 0h12m1 0h2m1 0h5m1 0h8m1 0h1m8 0h2m7 0h2m38 0h1m28 0h2m-329 1h1m1 0h8m5 0h1m21 0h2m8 0h1m4 0h2m106 0h1m4 0h2m13 0h3m15 0h1m3 0h1m4 0h1m1 0h12m1 0h2m1 0h5m1 0h3m2 0h3m3 0h1m4 0h1m1 0h2m4 0h1m2 0h2m5 0h1m32 0h1m28 0h2m-330 1h1m2 0h1m2 0h1m2 0h3m1 0h2m17 0h2m14 0h2m3 0h3m1 0h2m22 0h2m26 0h1m34 0h2m2 0h1m17 0h2m14 0h2m7 0h1m1 0h3m3 0h1m2 0h1m1 0h5m3 0h2m2 0h15m1 0h3m2 0h5m6 0h2m6 0h1m8 0h2m15 0h2m6 0h2m2 0h2m34 0h1m-331 1h4m2 0h1m1 0h7m15 0h4m8 0h2m2 0h3m8 0h2m22 0h2m8 0h2m16 0h1m4 0h1m29 0h2m2 0h1m42 0h1m1 0h3m9 0h1m1 0h1m6 0h1m1 0h4m2 0h5m1 0h5m1 0h1m1 0h1m3 0h2m3 0h2m4 0h2m2 0h1m6 0h2m1 0h1m24 0h2m2 0h1m-295 1h4m1 0h4m1 0h1m1 0h3m4 0h2m21 0h2m6 0h1m11 0h2m50 0h1m14 0h2m46 0h2m5 0h1m10 0h2m1 0h4m1 0h1m3 0h1m4 0h3m1 0h2m3 0h2m1 0h2m2 0h5m3 0h3m1 0h2m13 0h1m6 0h2m-264 1h1m1 0h4m1 0h3m1 0h4m1 0h1m2 0h2m3 0h1m4 0h2m4 0h2m9 0h1m15 0h2m13 0h1m30 0h1m20 0h2m19 0h2m25 0h2m18 0h5m10 0h3m2 0h2m2 0h2m1 0h2m3 0h1m3 0h5m2 0h2m13 0h2m86 0h2m-345 1h1m2 0h3m1 0h7m3 0h1m11 0h2m14 0h3m49 0h2m9 0h1m21 0h1m9 0h2m36 0h2m6 0h2m9 0h4m1 0h2m1 0h2m3 0h1m2 0h2m1 0h4m2 0h4m7 0h3m1 0h1m1 0h2m2 0h1m4 0h1m6 0h2m86 0h2m-345 1h1m6 0h7m3 0h1m1 0h1m1 0h1m1 0h1m2 0h2m2 0h1m8 0h2m4 0h3m34 0h1m15 0h1m14 0h1m10 0h2m4 0h1m47 0h2m1 0h2m2 0h1m9 0h2m2 0h2m1 0h2m1 0h2m2 0h2m5 0h4m3 0h2m4 0h3m1 0h2m2 0h1m1 0h2m7 0h1m3 0h1m2 0h2m14 0h2m7 0h2m1 0h2m-284 1h12m2 0h3m1 0h2m2 0h1m22 0h2m1 0h1m1 0h1m5 0h1m5 0h2m15 0h1m1 0h1m30 0h1m36 0h1m4 0h2m23 0h2m3 0h1m1 0h1m7 0h3m1 0h2m1 0h1m1 0h2m2 0h2m1 0h3m2 0h2m2 0h2m2 0h1m2 0h2m1 0h9m13 0h1m25 0h1m1 0h2m-281 1h1m1 0h8m2 0h4m1 0h3m2 0h2m1 0h3m17 0h2m1 0h1m1 0h1m5 0h1m5 0h2m8 0h2m13 0h1m18 0h2m46 0h2m10 0h1m12 0h2m3 0h1m9 0h2m3 0h3m3 0h4m1 0h1m3 0h2m4 0h2m4 0h4m1 0h4m1 0h2m4 0h1m1 0h2m2 0h2m11 0h1m14 0h1m-278 1h2m1 0h7m3 0h1m3 0h1m1 0h2m6 0h2m4 0h2m5 0h2m4 0h4m23 0h2m13 0h1m18 0h2m23 0h1m49 0h3m11 0h2m4 0h2m1 0h3m2 0h2m5 0h2m2 0h1m1 0h1m4 0h6m2 0h3m5 0h2m1 0h3m14 0h2m-266 1h10m26 0h2m9 0h3m3 0h1m9 0h2m11 0h1m23 0h1m27 0h1m53 0h4m9 0h3m5 0h2m3 0h2m2 0h1m7 0h2m1 0h1m5 0h3m12 0h6m9 0h2m-260 1h4m1 0h1m2 0h3m1 0h2m7 0h1m2 0h1m10 0h2m7 0h1m7 0h1m46 0h1m9 0h1m17 0h1m4 0h2m33 0h2m5 0h2m16 0h2m8 0h3m6 0h3m4 0h4m1 0h3m3 0h1m1 0h1m4 0h1m2 0h1m4 0h3m11 0h2m-259 1h4m3 0h3m1 0h2m7 0h1m17 0h2m4 0h2m10 0h1m16 0h1m34 0h1m50 0h2m5 0h2m5 0h2m11 0h2m3 0h4m2 0h4m16 0h1m1 0h2m1 0h1m2 0h2m1 0h4m3 0h2m4 0h2m1 0h2m7 0h2m80 0h2m20 0h2m-360 1h5m1 0h2m1 0h4m1 0h1m6 0h2m8 0h2m4 0h4m5 0h2m9 0h1m13 0h1m3 0h1m32 0h1m23 0h2m22 0h1m3 0h2m3 0h1m5 0h2m5 0h1m8 0h4m3 0h2m2 0h6m2 0h2m6 0h2m10 0h2m1 0h6m1 0h2m1 0h2m13 0h2m71 0h2m8 0h1m20 0h2m-359 1h4m1 0h9m3 0h2m8 0h3m6 0h1m6 0h4m23 0h1m29 0h1m9 0h2m33 0h1m9 0h1m8 0h1m10 0h1m12 0h2m2 0h2m1 0h3m1 0h1m4 0h5m5 0h1m2 0h3m3 0h2m2 0h2m3 0h2m4 0h3m1 0h2m15 0h2m65 0h2m27 0h2m-359 1h2m1 0h2m1 0h8m2 0h2m1 0h2m2 0h1m1 0h1m3 0h3m6 0h1m1 0h2m1 0h1m2 0h2m36 0h2m26 0h2m26 0h3m2 0h1m18 0h3m4 0h1m5 0h1m4 0h1m5 0h7m1 0h8m2 0h1m1 0h5m2 0h2m2 0h4m2 0h7m2 0h2m2 0h5m1 0h2m10 0h2m3 0h2m89 0h2m3 0h2m-359 1h2m1 0h2m1 0h5m1 0h2m1 0h3m5 0h1m1 0h2m5 0h2m13 0h1m1 0h3m32 0h2m11 0h2m4 0h2m23 0h1m4 0h1m7 0h2m2 0h1m14 0h2m2 0h4m14 0h1m3 0h2m1 0h4m1 0h4m2 0h6m9 0h2m1 0h1m1 0h3m2 0h3m5 0h1m4 0h3m3 0h1m11 0h2m44 0h2m-304 1h1m2 0h7m5 0h1m6 0h1m2 0h2m2 0h1m2 0h2m10 0h2m4 0h2m4 0h2m7 0h1m25 0h2m10 0h2m23 0h1m4 0h1m32 0h2m2 0h2m12 0h4m2 0h2m1 0h2m4 0h3m2 0h5m6 0h3m7 0h2m4 0h3m4 0h3m58 0h2m-299 1h5m1 0h3m2 0h3m6 0h4m3 0h1m16 0h2m8 0h4m5 0h1m26 0h1m34 0h1m13 0h2m14 0h2m7 0h2m2 0h3m11 0h2m2 0h2m2 0h6m1 0h1m6 0h3m11 0h1m12 0h1m-233 1h8m1 0h7m6 0h2m3 0h2m12 0h2m14 0h2m6 0h2m31 0h2m3 0h1m36 0h2m9 0h1m4 0h2m7 0h2m1 0h2m5 0h1m11 0h2m2 0h2m1 0h1m9 0h1m1 0h1m1 0h1m10 0h1m9 0h2m1 0h1m2 0h2m14 0h2m25 0h1m24 0h1m-305 1h13m1 0h1m13 0h2m12 0h2m2 0h4m15 0h3m36 0h1m47 0h1m16 0h4m18 0h2m6 0h2m2 0h2m8 0h1m4 0h2m1 0h2m2 0h1m8 0h5m19 0h1m20 0h1m-280 1h1m1 0h4m2 0h1m2 0h2m1 0h2m2 0h2m3 0h2m3 0h3m16 0h2m5 0h1m1 0h2m31 0h4m49 0h1m27 0h3m1 0h1m2 0h1m6 0h2m3 0h4m10 0h3m12 0h2m1 0h2m2 0h2m5 0h4m22 0h1m51 0h2m22 0h2m-336 1h4m1 0h2m2 0h1m2 0h2m1 0h1m2 0h2m2 0h5m1 0h3m13 0h1m4 0h2m3 0h2m33 0h5m1 0h1m2 0h3m17 0h2m13 0h4m12 0h2m3 0h2m4 0h1m13 0h1m4 0h1m3 0h3m11 0h2m2 0h1m2 0h2m9 0h2m11 0h2m4 0h1m75 0h2m22 0h2m-335 1h1m1 0h1m1 0h6m1 0h2m3 0h1m4 0h2m1 0h2m1 0h1m2 0h1m3 0h1m2 0h3m3 0h1m1 0h2m6 0h2m37 0h1m1 0h1m2 0h3m48 0h2m3 0h2m3 0h2m1 0h2m14 0h2m3 0h2m1 0h2m9 0h4m1 0h1m5 0h1m2 0h1m3 0h2m8 0h2m1 0h2m1 0h2m1 0h1m15 0h1m2 0h1m11 0h2m15 0h2m-283 1h1m2 0h4m1 0h2m2 0h1m10 0h1m3 0h1m1 0h2m3 0h2m1 0h3m5 0h2m43 0h2m83 0h1m1 0h2m6 0h2m2 0h3m1 0h1m5 0h1m1 0h2m3 0h2m2 0h2m3 0h1m6 0h1m1 0h2m26 0h1m23 0h2m3 0h2m-284 1h1m3 0h7m7 0h2m5 0h2m3 0h2m4 0h1m10 0h2m18 0h1m23 0h2m24 0h1m57 0h1m2 0h1m2 0h1m1 0h2m1 0h1m5 0h1m7 0h1m2 0h3m13 0h2m2 0h1m37 0h1m13 0h4m-278 1h5m1 0h1m1 0h1m1 0h2m4 0h3m11 0h2m14 0h2m42 0h2m10 0h3m11 0h1m29 0h2m16 0h1m9 0h1m8 0h1m1 0h1m4 0h2m7 0h1m3 0h2m11 0h2m16 0h2m3 0h1m5 0h1m14 0h1m84 0h2m45 0h1m-393 1h2m2 0h2m2 0h1m1 0h2m1 0h1m2 0h1m3 0h1m24 0h3m20 0h2m32 0h2m33 0h2m8 0h2m9 0h2m4 0h1m8 0h2m7 0h2m3 0h1m1 0h3m6 0h2m16 0h2m9 0h2m1 0h3m1 0h2m1 0h1m1 0h1m5 0h1m99 0h2m-348 1h2m1 0h3m1 0h1m6 0h2m3 0h5m22 0h1m39 0h1m60 0h2m10 0h2m11 0h2m3 0h2m1 0h2m1 0h9m8 0h1m1 0h3m2 0h1m2 0h1m11 0h1m3 0h2m5 0h1m3 0h3m175 0h1m-416 1h6m1 0h2m5 0h2m4 0h4m11 0h3m4 0h2m1 0h4m37 0h1m70 0h1m5 0h2m1 0h3m3 0h2m2 0h1m4 0h1m3 0h2m1 0h3m8 0h6m2 0h2m1 0h1m11 0h1m12 0h4m22 0h1m80 0h2m71 0h1m-416 1h5m1 0h3m3 0h2m1 0h1m4 0h2m1 0h1m4 0h5m2 0h2m5 0h5m1 0h3m23 0h1m1 0h2m41 0h1m7 0h2m21 0h1m1 0h1m4 0h1m2 0h1m5 0h3m6 0h1m1 0h3m1 0h1m1 0h2m3 0h3m1 0h2m1 0h6m4 0h4m2 0h2m15 0h1m6 0h3m23 0h1m7 0h1m49 0h2m21 0h2m-343 1h10m1 0h1m10 0h1m4 0h5m2 0h2m1 0h3m7 0h1m17 0h2m8 0h2m2 0h2m37 0h1m7 0h2m21 0h1m1 0h1m6 0h1m13 0h2m2 0h7m1 0h1m6 0h2m3 0h4m1 0h5m4 0h3m13 0h2m40 0h1m49 0h2m-319 1h5m1 0h4m8 0h3m5 0h4m6 0h3m4 0h2m1 0h1m7 0h2m8 0h2m12 0h2m22 0h1m4 0h1m13 0h1m14 0h2m12 0h1m6 0h2m2 0h1m10 0h2m3 0h8m6 0h2m1 0h4m19 0h2m8 0h2m3 0h1m1 0h1m1 0h2m110 0h2m-351 1h5m1 0h5m3 0h3m6 0h2m2 0h2m8 0h2m5 0h2m1 0h1m13 0h2m59 0h3m22 0h2m13 0h1m10 0h4m3 0h2m2 0h2m4 0h4m1 0h2m4 0h1m14 0h4m9 0h2m2 0h3m47 0h2m64 0h2m-351 1h2m1 0h2m1 0h2m1 0h2m4 0h1m1 0h2m10 0h3m1 0h3m8 0h7m10 0h2m28 0h2m21 0h2m13 0h2m16 0h2m25 0h2m1 0h8m5 0h2m24 0h3m4 0h2m4 0h2m2 0h3m36 0h2m9 0h2m40 0h2m-327 1h2m1 0h1m3 0h1m3 0h2m2 0h1m1 0h2m9 0h3m2 0h3m9 0h3m1 0h2m40 0h2m1 0h1m35 0h2m23 0h2m7 0h1m7 0h1m4 0h2m1 0h2m2 0h2m1 0h2m2 0h2m5 0h1m3 0h1m1 0h2m11 0h2m4 0h3m3 0h1m14 0h2m26 0h2m38 0h2m11 0h4m22 0h2m-352 1h2m1 0h5m2 0h2m2 0h2m10 0h3m17 0h1m4 0h1m41 0h1m32 0h1m24 0h2m11 0h2m2 0h2m1 0h2m11 0h4m2 0h2m3 0h3m3 0h1m3 0h2m4 0h2m2 0h1m8 0h1m3 0h1m6 0h4m55 0h2m2 0h2m11 0h2m13 0h2m-328 1h3m1 0h4m2 0h2m2 0h3m1 0h2m3 0h1m2 0h1m3 0h2m1 0h2m7 0h6m3 0h3m36 0h1m7 0h2m26 0h1m19 0h1m21 0h2m1 0h2m1 0h2m2 0h3m2 0h6m2 0h2m1 0h1m6 0h1m11 0h1m1 0h1m19 0h4m55 0h2m2 0h2m109 0h1m-412 1h1m1 0h3m1 0h1m1 0h7m1 0h1m1 0h1m1 0h2m3 0h1m2 0h1m2 0h3m2 0h1m10 0h2m5 0h4m6 0h1m22 0h1m11 0h3m57 0h1m10 0h2m5 0h6m2 0h2m2 0h3m4 0h1m2 0h2m4 0h2m8 0h1m15 0h1m15 0h2m10 0h2m150 0h1m-412 1h3m1 0h3m1 0h4m2 0h3m1 0h3m3 0h3m1 0h1m3 0h1m3 0h1m10 0h4m5 0h2m6 0h1m3 0h2m15 0h3m4 0h1m21 0h1m41 0h2m1 0h1m2 0h2m3 0h1m1 0h2m1 0h1m4 0h6m6 0h1m2 0h1m1 0h2m3 0h2m17 0h2m9 0h3m15 0h2m9 0h3m101 0h2m-363 1h2m1 0h5m6 0h1m1 0h2m5 0h7m1 0h2m10 0h7m34 0h2m11 0h2m14 0h1m34 0h2m9 0h3m3 0h2m7 0h2m4 0h2m4 0h2m4 0h2m5 0h2m7 0h2m7 0h2m8 0h3m6 0h1m1 0h2m104 0h2m15 0h2m-364 1h1m3 0h1m2 0h2m8 0h3m3 0h3m7 0h1m10 0h5m8 0h2m12 0h3m24 0h2m8 0h1m40 0h2m9 0h3m6 0h1m2 0h2m1 0h2m2 0h2m3 0h1m3 0h1m11 0h2m2 0h1m4 0h2m4 0h1m12 0h3m2 0h2m2 0h1m4 0h1m5 0h1m-249 1h2m1 0h9m2 0h2m5 0h1m1 0h2m21 0h4m30 0h2m1 0h1m24 0h1m14 0h1m14 0h2m2 0h2m6 0h2m2 0h3m5 0h1m6 0h2m3 0h2m1 0h2m5 0h2m16 0h3m8 0h3m10 0h3m2 0h4m7 0h1m78 0h2m-323 1h2m1 0h2m1 0h7m4 0h2m10 0h1m6 0h2m7 0h5m21 0h2m10 0h1m2 0h1m45 0h2m1 0h3m4 0h2m10 0h3m6 0h1m2 0h2m6 0h6m5 0h3m1 0h2m17 0h2m3 0h2m11 0h2m3 0h3m8 0h2m9 0h1m-254 1h6m2 0h2m2 0h1m3 0h3m2 0h2m6 0h2m5 0h2m7 0h5m6 0h2m16 0h1m4 0h2m3 0h3m38 0h1m6 0h6m12 0h2m4 0h2m5 0h1m4 0h2m2 0h6m3 0h1m1 0h2m1 0h2m1 0h2m9 0h1m7 0h2m3 0h3m6 0h1m1 0h2m6 0h1m4 0h1m4 0h2m9 0h1m3 0h1m3 0h2m158 0h2m-423 1h4m1 0h1m1 0h1m1 0h1m4 0h1m6 0h1m6 0h4m10 0h1m1 0h4m2 0h1m11 0h1m11 0h1m4 0h2m3 0h2m12 0h3m24 0h1m8 0h2m12 0h1m12 0h1m6 0h2m2 0h5m2 0h2m2 0h4m1 0h3m1 0h2m7 0h2m5 0h1m6 0h1m8 0h2m6 0h1m2 0h3m5 0h1m13 0h1m3 0h3m5 0h2m-271 1h7m1 0h2m1 0h1m2 0h1m4 0h3m1 0h7m6 0h2m4 0h1m2 0h4m13 0h1m8 0h1m21 0h1m4 0h3m25 0h1m6 0h1m4 0h1m4 0h4m1 0h1m7 0h2m3 0h1m6 0h2m1 0h2m1 0h3m2 0h2m1 0h5m2 0h2m1 0h1m7 0h3m14 0h2m8 0h2m3 0h1m1 0h3m21 0h2m9 0h3m-272 1h3m1 0h2m2 0h2m1 0h1m11 0h4m1 0h2m15 0h4m22 0h1m33 0h2m15 0h1m3 0h1m4 0h2m5 0h1m1 0h7m7 0h4m10 0h5m2 0h3m14 0h1m1 0h2m4 0h1m31 0h2m9 0h1m7 0h1m19 0h1m34 0h2m110 0h2m-420 1h3m1 0h6m1 0h2m1 0h1m3 0h2m1 0h2m1 0h2m2 0h3m5 0h1m8 0h3m11 0h2m21 0h2m19 0h4m15 0h1m4 0h2m16 0h1m8 0h2m7 0h2m2 0h4m1 0h2m1 0h3m7 0h1m1 0h1m44 0h2m2 0h1m6 0h1m2 0h1m2 0h1m1 0h1m5 0h1m142 0h2m16 0h2m-420 1h3m2 0h5m1 0h2m1 0h1m10 0h1m2 0h2m3 0h1m2 0h1m8 0h5m9 0h2m1 0h1m1 0h1m38 0h2m22 0h2m2 0h2m2 0h1m2 0h1m16 0h1m1 0h2m4 0h3m1 0h2m1 0h2m1 0h1m11 0h1m1 0h1m12 0h2m10 0h2m9 0h2m7 0h1m3 0h1m12 0h1m5 0h1m-255 1h1m1 0h1m3 0h3m1 0h2m3 0h1m11 0h2m1 0h2m4 0h1m6 0h8m7 0h1m1 0h1m2 0h1m35 0h2m1 0h2m17 0h2m4 0h1m6 0h1m1 0h2m16 0h1m1 0h2m2 0h5m4 0h4m2 0h2m1 0h3m2 0h1m15 0h2m10 0h2m9 0h3m1 0h3m2 0h1m1 0h2m19 0h1m-255 1h2m2 0h5m1 0h1m2 0h1m1 0h2m3 0h1m5 0h6m2 0h3m1 0h1m4 0h8m8 0h5m18 0h2m43 0h1m8 0h2m6 0h2m1 0h1m8 0h3m4 0h4m1 0h1m4 0h2m3 0h3m2 0h1m30 0h2m1 0h2m5 0h1m1 0h5m2 0h3m2 0h1m-240 1h6m2 0h3m3 0h1m1 0h2m3 0h1m2 0h8m2 0h2m3 0h1m4 0h6m10 0h3m20 0h2m5 0h2m23 0h1m15 0h1m10 0h3m2 0h2m1 0h2m4 0h12m1 0h3m2 0h2m1 0h2m1 0h1m1 0h3m22 0h2m6 0h4m11 0h5m4 0h1m38 0h1m-279 1h4m1 0h8m7 0h1m4 0h5m1 0h1m2 0h2m3 0h1m4 0h2m1 0h2m13 0h1m9 0h1m11 0h2m29 0h1m15 0h1m5 0h2m3 0h2m1 0h4m1 0h3m2 0h2m2 0h1m2 0h1m1 0h4m1 0h3m6 0h1m1 0h1m1 0h5m20 0h2m8 0h2m12 0h4m3 0h3m3 0h1m142 0h2m-389 1h1m1 0h2m1 0h3m3 0h2m7 0h1m1 0h3m2 0h3m4 0h1m10 0h2m1 0h1m4 0h1m3 0h1m7 0h2m12 0h1m5 0h1m7 0h2m32 0h3m7 0h2m3 0h1m1 0h3m5 0h1m1 0h3m1 0h1m2 0h2m1 0h3m2 0h2m2 0h4m19 0h1m4 0h1m24 0h1m5 0h3m5 0h1m2 0h2m53 0h2m-300 1h1m1 0h2m1 0h2m1 0h1m1 0h2m8 0h5m4 0h2m2 0h3m1 0h2m6 0h2m1 0h1m4 0h1m6 0h2m19 0h2m1 0h2m7 0h2m32 0h3m8 0h2m3 0h2m7 0h4m2 0h1m2 0h2m3 0h1m2 0h2m8 0h2m15 0h1m4 0h1m24 0h3m3 0h2m4 0h1m1 0h2m1 0h2m21 0h2m16 0h2m12 0h2m20 0h1m-317 1h5m1 0h3m3 0h1m3 0h2m2 0h2m3 0h2m2 0h3m1 0h2m3 0h2m1 0h5m2 0h1m7 0h2m14 0h1m4 0h2m1 0h2m1 0h1m1 0h1m12 0h1m31 0h2m7 0h4m4 0h5m4 0h1m5 0h1m8 0h2m7 0h2m31 0h3m3 0h2m3 0h1m2 0h4m3 0h2m2 0h2m22 0h2m-266 1h6m2 0h2m3 0h2m5 0h5m2 0h2m4 0h3m4 0h2m1 0h3m1 0h2m1 0h1m6 0h3m29 0h1m14 0h2m6 0h2m6 0h2m3 0h1m1 0h1m4 0h2m9 0h2m3 0h5m5 0h1m1 0h1m1 0h4m1 0h1m5 0h2m40 0h2m2 0h1m1 0h1m3 0h2m2 0h2m16 0h1m20 0h1m-271 1h1m1 0h3m5 0h2m3 0h2m2 0h1m3 0h2m4 0h2m6 0h1m2 0h2m1 0h3m1 0h4m8 0h2m8 0h2m9 0h1m10 0h2m9 0h6m28 0h1m4 0h2m1 0h3m3 0h1m1 0h11m1 0h6m1 0h1m7 0h1m41 0h1m9 0h3m36 0h1m-271 1h2m1 0h3m3 0h2m2 0h1m5 0h1m7 0h4m4 0h3m2 0h9m7 0h2m11 0h2m9 0h2m9 0h2m12 0h1m20 0h2m13 0h2m1 0h3m2 0h1m1 0h1m1 0h3m1 0h10m2 0h1m1 0h2m3 0h4m1 0h1m5 0h1m11 0h2m23 0h1m1 0h1m4 0h1m5 0h1m2 0h1m3 0h2m75 0h1m-322 1h1m2 0h4m1 0h1m8 0h2m8 0h5m3 0h3m1 0h2m4 0h1m1 0h1m1 0h1m6 0h3m19 0h2m22 0h1m23 0h2m10 0h2m2 0h2m1 0h1m2 0h1m2 0h1m1 0h2m3 0h1m1 0h5m2 0h3m1 0h1m1 0h1m1 0h1m1 0h2m1 0h2m17 0h2m23 0h1m6 0h1m5 0h1m73 0h2m-312 1h1m1 0h6m8 0h2m3 0h1m1 0h2m2 0h4m3 0h3m1 0h3m2 0h4m1 0h1m14 0h2m16 0h2m18 0h1m27 0h1m9 0h2m2 0h3m1 0h4m2 0h2m2 0h1m2 0h2m1 0h3m2 0h3m1 0h1m1 0h1m4 0h1m3 0h1m36 0h2m3 0h2m7 0h2m74 0h2m-312 1h3m2 0h2m8 0h1m5 0h2m5 0h2m13 0h6m10 0h1m3 0h2m29 0h2m5 0h1m9 0h2m5 0h4m7 0h4m1 0h4m4 0h3m2 0h3m2 0h1m2 0h1m2 0h1m3 0h2m17 0h1m1 0h1m11 0h2m28 0h2m3 0h2m53 0h2m66 0h2m41 0h2m-399 1h1m1 0h5m1 0h4m6 0h2m2 0h2m4 0h3m4 0h2m7 0h5m1 0h2m6 0h1m1 0h1m22 0h1m11 0h2m4 0h2m9 0h2m5 0h2m7 0h1m6 0h4m4 0h2m3 0h2m3 0h1m3 0h1m5 0h1m2 0h4m5 0h2m53 0h1m25 0h1m29 0h2m12 0h2m5 0h1m46 0h2m-356 1h1m1 0h5m2 0h3m2 0h2m2 0h2m2 0h4m2 0h2m14 0h2m1 0h2m9 0h1m3 0h1m34 0h2m26 0h4m2 0h1m8 0h5m4 0h1m1 0h4m2 0h1m4 0h2m2 0h4m1 0h2m14 0h2m11 0h1m29 0h1m22 0h1m2 0h1m-256 1h5m2 0h3m4 0h2m2 0h3m1 0h3m2 0h2m15 0h4m3 0h3m3 0h2m37 0h2m6 0h2m5 0h2m1 0h3m1 0h2m4 0h5m8 0h4m2 0h6m1 0h5m1 0h1m4 0h5m4 0h2m1 0h1m12 0h2m11 0h1m8 0h2m23 0h2m1 0h2m45 0h1m8 0h2m9 0h2m8 0h2m36 0h1m-352 1h5m1 0h6m1 0h3m3 0h2m1 0h2m2 0h4m5 0h1m8 0h4m9 0h1m4 0h2m10 0h1m1 0h2m1 0h2m14 0h3m6 0h2m9 0h2m9 0h2m4 0h2m3 0h2m1 0h1m1 0h1m1 0h4m2 0h5m1 0h1m5 0h3m1 0h2m5 0h1m1 0h1m4 0h2m22 0h1m3 0h3m4 0h1m7 0h2m5 0h2m2 0h4m12 0h1m41 0h2m17 0h3m2 0h2m33 0h3m-355 1h1m1 0h4m1 0h2m1 0h3m2 0h1m1 0h2m2 0h1m1 0h3m1 0h4m3 0h2m5 0h1m5 0h3m8 0h1m3 0h3m6 0h1m5 0h2m5 0h1m34 0h2m2 0h2m1 0h4m2 0h1m6 0h1m1 0h2m2 0h2m1 0h6m1 0h2m7 0h1m2 0h2m4 0h2m6 0h2m5 0h2m26 0h2m22 0h1m10 0h1m51 0h2m48 0h2m-355 1h3m1 0h4m1 0h3m1 0h3m1 0h2m4 0h3m1 0h1m6 0h3m2 0h1m1 0h1m3 0h2m1 0h1m1 0h1m9 0h3m21 0h1m5 0h2m15 0h2m10 0h2m3 0h4m11 0h1m2 0h2m1 0h4m1 0h5m1 0h1m1 0h2m5 0h1m1 0h2m4 0h2m12 0h2m16 0h2m9 0h1m2 0h1m8 0h1m9 0h3m3 0h1m58 0h2m-305 1h3m1 0h1m3 0h4m2 0h2m6 0h6m1 0h3m3 0h2m2 0h1m5 0h2m1 0h1m1 0h1m6 0h1m2 0h2m6 0h1m6 0h2m2 0h2m6 0h1m19 0h2m10 0h2m4 0h1m5 0h2m5 0h3m1 0h2m1 0h2m3 0h4m1 0h4m3 0h2m1 0h1m1 0h2m3 0h3m4 0h1m11 0h2m17 0h1m5 0h1m2 0h1m5 0h1m12 0h2m4 0h1m7 0h1m22 0h1m-276 1h4m1 0h6m2 0h2m7 0h7m1 0h2m3 0h2m2 0h2m4 0h4m11 0h1m7 0h1m10 0h2m6 0h1m12 0h2m9 0h1m1 0h2m11 0h2m2 0h2m4 0h5m6 0h2m2 0h1m1 0h1m1 0h6m1 0h2m10 0h1m1 0h2m1 0h1m3 0h1m3 0h2m2 0h2m13 0h2m2 0h1m29 0h2m33 0h3m67 0h2m-347 1h4m1 0h3m7 0h1m8 0h2m1 0h2m6 0h3m1 0h2m4 0h4m11 0h2m2 0h2m34 0h1m10 0h1m4 0h2m2 0h1m3 0h1m1 0h2m2 0h4m4 0h3m7 0h1m2 0h1m1 0h8m4 0h1m2 0h2m13 0h1m3 0h2m17 0h2m10 0h1m4 0h2m9 0h2m4 0h1m90 0h1m13 0h2m-347 1h6m1 0h5m1 0h3m8 0h1m3 0h2m5 0h4m7 0h2m5 0h1m1 0h2m5 0h1m1 0h2m2 0h1m2 0h1m18 0h2m1 0h1m1 0h2m3 0h1m15 0h2m2 0h1m3 0h3m3 0h4m2 0h4m4 0h3m3 0h2m1 0h3m2 0h2m1 0h2m5 0h2m3 0h2m13 0h4m26 0h1m4 0h2m5 0h1m3 0h2m7 0h2m-245 1h1m1 0h4m5 0h2m5 0h3m3 0h3m1 0h2m4 0h1m2 0h2m8 0h3m3 0h2m4 0h5m4 0h1m2 0h1m17 0h1m3 0h1m1 0h2m20 0h2m3 0h2m1 0h2m3 0h1m5 0h2m1 0h1m2 0h10m1 0h2m6 0h2m27 0h2m28 0h1m9 0h1m12 0h2m186 0h2m-431 1h3m1 0h1m1 0h1m2 0h2m2 0h2m2 0h2m2 0h8m3 0h4m9 0h4m2 0h2m3 0h6m3 0h2m9 0h2m14 0h2m9 0h2m14 0h5m1 0h1m2 0h1m1 0h7m1 0h1m1 0h6m1 0h1m2 0h2m5 0h1m1 0h1m6 0h1m6 0h2m37 0h1m2 0h1m2 0h1m5 0h1m10 0h2m21 0h1m18 0h2m10 0h1m22 0h1m81 0h2m33 0h2m-433 1h2m1 0h4m1 0h3m1 0h4m1 0h2m4 0h2m1 0h1m1 0h3m5 0h2m9 0h5m4 0h3m2 0h2m13 0h4m15 0h1m6 0h1m19 0h4m1 0h2m3 0h14m3 0h1m1 0h3m4 0h2m1 0h1m6 0h1m6 0h2m6 0h2m6 0h1m50 0h1m4 0h2m11 0h1m5 0h2m4 0h1m6 0h3m27 0h1m27 0h2m39 0h2m-380 1h1m1 0h1m1 0h3m2 0h2m1 0h2m3 0h2m2 0h4m3 0h4m1 0h5m6 0h2m2 0h4m4 0h3m1 0h1m2 0h2m4 0h1m6 0h2m4 0h1m4 0h1m4 0h1m27 0h2m5 0h14m1 0h8m7 0h3m5 0h1m5 0h3m1 0h1m15 0h1m31 0h1m2 0h2m19 0h2m17 0h2m1 0h2m1 0h1m1 0h2m5 0h1m1 0h2m52 0h2m39 0h2m-379 1h3m1 0h2m5 0h1m4 0h2m2 0h5m2 0h2m2 0h4m8 0h2m1 0h2m6 0h2m3 0h1m2 0h2m4 0h1m12 0h1m2 0h1m12 0h2m25 0h2m3 0h9m2 0h2m1 0h3m1 0h2m9 0h2m14 0h2m2 0h2m42 0h2m1 0h2m41 0h2m12 0h1m-283 1h1m1 0h4m16 0h2m2 0h1m5 0h2m9 0h1m1 0h2m12 0h1m17 0h1m2 0h2m15 0h4m11 0h1m7 0h2m2 0h3m1 0h4m1 0h5m2 0h4m2 0h4m8 0h1m1 0h1m61 0h4m4 0h1m37 0h1m74 0h1m-344 1h1m1 0h1m3 0h3m4 0h4m3 0h1m1 0h2m3 0h4m2 0h4m6 0h4m10 0h4m16 0h1m9 0h2m3 0h1m8 0h1m3 0h1m8 0h3m8 0h6m1 0h5m1 0h1m3 0h3m3 0h5m57 0h1m13 0h4m23 0h2m1 0h2m12 0h1m-269 1h2m4 0h4m2 0h2m1 0h2m5 0h3m1 0h5m2 0h2m1 0h3m5 0h4m9 0h3m1 0h2m14 0h1m13 0h2m1 0h2m1 0h2m2 0h1m5 0h1m7 0h2m2 0h2m1 0h2m1 0h3m1 0h2m2 0h7m6 0h3m1 0h2m1 0h3m13 0h1m10 0h2m5 0h1m6 0h2m14 0h1m13 0h2m2 0h3m2 0h3m12 0h1m17 0h2m47 0h2m1 0h1m14 0h1m3 0h1m-339 1h1m1 0h1m2 0h1m1 0h5m1 0h2m2 0h2m2 0h1m1 0h3m1 0h5m2 0h5m4 0h3m1 0h3m2 0h1m4 0h7m23 0h2m6 0h1m2 0h2m2 0h3m5 0h2m1 0h1m2 0h2m1 0h1m6 0h2m3 0h5m2 0h11m4 0h4m2 0h1m5 0h1m57 0h1m1 0h1m3 0h3m2 0h1m6 0h1m7 0h1m9 0h1m7 0h2m47 0h2m1 0h1m18 0h1m26 0h2m-367 1h2m1 0h3m3 0h3m1 0h2m2 0h2m4 0h3m2 0h3m3 0h4m4 0h2m2 0h4m2 0h1m6 0h2m26 0h2m9 0h2m12 0h2m2 0h8m3 0h2m2 0h1m1 0h1m1 0h1m2 0h1m1 0h4m1 0h3m5 0h2m9 0h2m57 0h4m7 0h1m24 0h1m1 0h1m28 0h2m73 0h2m-367 1h1m2 0h1m1 0h3m3 0h2m11 0h1m3 0h3m4 0h2m5 0h2m4 0h3m9 0h1m2 0h1m1 0h2m15 0h4m7 0h1m3 0h2m13 0h2m4 0h1m1 0h2m1 0h9m1 0h3m1 0h2m1 0h4m24 0h1m20 0h2m6 0h2m44 0h1m13 0h2m2 0h1m28 0h2m-292 1h1m2 0h1m1 0h2m1 0h7m8 0h3m3 0h1m4 0h3m9 0h1m2 0h2m1 0h2m1 0h2m3 0h3m2 0h2m13 0h1m3 0h3m13 0h3m7 0h2m1 0h2m6 0h4m2 0h5m1 0h1m2 0h3m1 0h4m2 0h2m14 0h1m8 0h1m35 0h1m35 0h1m12 0h3m10 0h1m36 0h2m43 0h1m-350 1h5m1 0h4m1 0h2m9 0h1m3 0h4m2 0h3m8 0h4m23 0h2m2 0h2m2 0h1m9 0h2m4 0h2m2 0h5m2 0h2m6 0h2m2 0h1m1 0h10m1 0h1m6 0h7m2 0h2m1 0h1m10 0h2m7 0h1m35 0h1m15 0h2m7 0h1m23 0h1m12 0h1m36 0h2m43 0h1m-350 1h2m1 0h1m2 0h4m6 0h1m5 0h8m2 0h2m1 0h1m7 0h5m9 0h2m4 0h2m2 0h2m1 0h2m1 0h2m12 0h3m10 0h1m1 0h1m2 0h2m1 0h4m1 0h5m2 0h1m1 0h3m2 0h2m1 0h5m2 0h2m2 0h2m3 0h2m1 0h1m10 0h2m12 0h1m55 0h1m2 0h2m41 0h1m7 0h2m64 0h1m-352 1h1m1 0h3m2 0h1m2 0h2m5 0h1m4 0h9m2 0h4m5 0h7m7 0h1m1 0h2m4 0h2m3 0h1m4 0h1m8 0h2m5 0h2m3 0h3m2 0h3m1 0h2m2 0h5m1 0h10m2 0h4m1 0h5m2 0h6m2 0h2m10 0h1m12 0h1m14 0h1m54 0h2m18 0h3m17 0h2m2 0h2m64 0h1m-353 1h1m1 0h6m3 0h3m2 0h1m2 0h3m2 0h7m1 0h7m4 0h5m2 0h2m7 0h4m2 0h2m2 0h2m4 0h2m6 0h3m5 0h2m5 0h3m1 0h2m2 0h2m1 0h7m1 0h5m1 0h2m2 0h7m1 0h3m1 0h4m3 0h2m8 0h2m1 0h1m12 0h1m14 0h1m5 0h1m28 0h1m2 0h1m2 0h2m12 0h1m19 0h3m1 0h1m2 0h1m12 0h2m80 0h2m-366 1h1m1 0h2m1 0h3m1 0h1m5 0h1m3 0h1m4 0h3m2 0h2m1 0h6m5 0h6m1 0h2m3 0h1m2 0h2m1 0h2m12 0h2m4 0h4m5 0h1m1 0h2m4 0h3m3 0h1m2 0h2m2 0h4m2 0h6m2 0h1m1 0h7m1 0h5m2 0h4m3 0h1m4 0h1m1 0h2m9 0h1m4 0h1m20 0h1m31 0h5m134 0h2m-364 1h1m2 0h6m1 0h2m1 0h1m1 0h2m4 0h5m1 0h3m3 0h2m6 0h3m1 0h2m1 0h2m2 0h2m1 0h7m21 0h2m3 0h1m1 0h1m1 0h2m2 0h1m5 0h1m2 0h6m3 0h3m1 0h2m2 0h2m2 0h5m3 0h8m2 0h2m26 0h2m6 0h2m41 0h3m7 0h1m-236 1h1m1 0h1m2 0h2m2 0h1m2 0h2m1 0h4m3 0h6m1 0h3m2 0h1m10 0h5m1 0h5m1 0h7m1 0h1m11 0h2m2 0h6m5 0h1m1 0h1m3 0h5m2 0h1m1 0h7m5 0h5m1 0h3m1 0h6m1 0h1m1 0h6m2 0h2m26 0h2m23 0h2m19 0h2m3 0h3m1 0h2m12 0h1m-244 1h7m1 0h2m5 0h2m1 0h2m2 0h10m2 0h3m7 0h4m1 0h1m1 0h4m2 0h2m1 0h3m1 0h2m11 0h2m2 0h4m9 0h1m3 0h11m1 0h8m1 0h5m1 0h9m1 0h2m2 0h2m11 0h1m8 0h1m41 0h2m15 0h2m7 0h2m2 0h1m9 0h1m5 0h2m9 0h1m68 0h2m28 0h2m-361 1h1m1 0h6m5 0h2m4 0h3m1 0h10m1 0h3m5 0h2m2 0h3m10 0h1m1 0h2m1 0h2m2 0h2m20 0h1m10 0h1m1 0h20m2 0h5m1 0h3m1 0h2m1 0h3m2 0h3m5 0h4m5 0h2m2 0h1m21 0h1m10 0h1m1 0h1m2 0h5m26 0h1m26 0h1m68 0h2m70 0h2m-401 1h9m8 0h3m3 0h11m6 0h7m3 0h3m1 0h1m2 0h4m5 0h2m5 0h2m2 0h1m10 0h1m6 0h5m1 0h1m3 0h8m3 0h11m2 0h3m1 0h2m3 0h3m2 0h1m5 0h1m1 0h2m1 0h1m3 0h1m1 0h3m32 0h1m1 0h1m5 0h2m31 0h2m7 0h2m-247 1h8m1 0h4m7 0h5m1 0h3m2 0h3m1 0h1m2 0h5m2 0h1m4 0h3m3 0h5m1 0h1m3 0h2m9 0h1m1 0h2m2 0h4m5 0h3m2 0h3m1 0h2m4 0h23m1 0h3m2 0h8m7 0h2m28 0h2m29 0h2m9 0h2m13 0h1m6 0h2m11 0h2m2 0h2m3 0h2m25 0h2m-298 1h3m1 0h6m1 0h1m2 0h1m2 0h4m2 0h4m1 0h3m3 0h2m1 0h3m4 0h4m2 0h1m7 0h5m5 0h2m4 0h2m2 0h2m1 0h2m4 0h2m3 0h1m1 0h3m2 0h3m1 0h2m1 0h5m2 0h1m1 0h4m1 0h3m2 0h1m1 0h4m1 0h3m2 0h5m1 0h3m4 0h2m31 0h2m18 0h2m9 0h2m2 0h2m2 0h1m2 0h2m37 0h2m3 0h2m-271 1h1m3 0h5m4 0h2m2 0h4m2 0h3m2 0h1m1 0h1m3 0h6m5 0h3m1 0h2m2 0h2m5 0h2m1 0h1m12 0h1m1 0h2m7 0h2m2 0h2m4 0h8m1 0h2m2 0h6m3 0h5m1 0h9m3 0h2m1 0h2m2 0h1m5 0h2m2 0h1m12 0h1m32 0h2m1 0h2m13 0h2m38 0h2m8 0h1m19 0h1m55 0h2m-342 1h6m1 0h4m5 0h5m1 0h1m1 0h6m10 0h4m1 0h1m10 0h4m3 0h2m2 0h1m4 0h4m10 0h3m3 0h4m2 0h5m4 0h2m1 0h2m3 0h1m1 0h3m3 0h3m5 0h4m1 0h5m9 0h2m14 0h1m8 0h1m20 0h2m9 0h2m10 0h2m16 0h3m22 0h3m19 0h1m12 0h2m41 0h2m-343 1h5m2 0h7m4 0h2m1 0h2m1 0h11m6 0h4m1 0h3m3 0h2m2 0h4m1 0h2m3 0h3m3 0h2m1 0h2m1 0h1m2 0h1m5 0h4m2 0h3m2 0h3m1 0h5m1 0h5m1 0h3m1 0h1m1 0h1m1 0h2m1 0h2m1 0h2m2 0h1m1 0h4m1 0h2m8 0h1m17 0h1m7 0h1m32 0h2m10 0h2m8 0h2m6 0h3m57 0h2m134 0h1m5 0h1m-441 1h3m4 0h1m4 0h7m2 0h2m3 0h1m6 0h2m10 0h1m1 0h1m6 0h1m1 0h3m7 0h2m3 0h4m1 0h1m1 0h1m2 0h8m4 0h1m1 0h1m2 0h9m1 0h3m1 0h5m1 0h12m2 0h1m7 0h1m3 0h3m9 0h1m9 0h2m7 0h1m20 0h1m12 0h1m26 0h1m2 0h1m1 0h2m58 0h1m138 0h1m-443 1h7m8 0h2m2 0h2m7 0h1m5 0h2m8 0h4m1 0h1m7 0h6m2 0h5m7 0h2m4 0h1m1 0h2m2 0h4m5 0h7m1 0h3m1 0h2m1 0h6m2 0h6m2 0h2m1 0h2m1 0h2m5 0h1m2 0h1m1 0h2m1 0h2m25 0h2m2 0h2m2 0h2m38 0h2m3 0h2m6 0h1m1 0h2m1 0h2m16 0h2m5 0h1m86 0h1m5 0h2m-363 1h9m3 0h1m1 0h2m5 0h6m1 0h2m2 0h2m1 0h6m3 0h6m7 0h4m2 0h2m1 0h2m1 0h2m6 0h2m1 0h2m1 0h2m5 0h3m2 0h2m1 0h9m3 0h2m1 0h7m1 0h3m1 0h5m1 0h1m1 0h3m2 0h2m5 0h1m2 0h4m1 0h1m3 0h6m14 0h2m2 0h2m18 0h2m2 0h1m1 0h2m16 0h3m5 0h1m27 0h2m5 0h1m14 0h2m57 0h1m12 0h1m5 0h2m-362 1h2m1 0h7m3 0h2m2 0h2m1 0h4m1 0h1m1 0h2m2 0h2m1 0h6m1 0h8m1 0h1m2 0h2m1 0h4m2 0h2m3 0h3m8 0h6m2 0h18m1 0h2m1 0h1m4 0h6m1 0h10m2 0h8m2 0h2m4 0h1m7 0h4m6 0h2m10 0h4m17 0h3m2 0h1m21 0h1m5 0h1m4 0h1m7 0h2m26 0h1m29 0h2m35 0h1m36 0h2m-380 1h2m2 0h7m3 0h3m1 0h3m1 0h3m3 0h2m2 0h5m5 0h4m1 0h2m1 0h2m2 0h9m5 0h2m2 0h1m2 0h1m2 0h2m1 0h6m1 0h16m2 0h2m1 0h1m1 0h4m1 0h1m1 0h1m2 0h1m1 0h5m1 0h1m1 0h1m2 0h2m4 0h1m1 0h3m14 0h3m29 0h1m19 0h1m12 0h1m4 0h2m7 0h1m3 0h2m2 0h2m93 0h1m20 0h2m14 0h2m27 0h1m-406 1h7m5 0h3m3 0h2m1 0h2m2 0h1m2 0h2m2 0h4m9 0h1m6 0h3m1 0h4m6 0h1m6 0h2m1 0h2m1 0h1m3 0h3m1 0h15m1 0h5m1 0h3m1 0h7m1 0h4m4 0h2m7 0h4m2 0h1m12 0h2m6 0h1m23 0h1m19 0h1m17 0h2m6 0h2m3 0h2m1 0h1m10 0h1m51 0h1m-305 1h5m6 0h2m1 0h4m1 0h1m4 0h4m1 0h4m10 0h1m1 0h1m4 0h8m9 0h1m3 0h2m2 0h1m1 0h1m1 0h3m1 0h3m1 0h1m1 0h1m2 0h4m1 0h3m2 0h1m1 0h6m1 0h3m2 0h1m2 0h4m2 0h2m1 0h1m2 0h2m3 0h6m7 0h1m44 0h2m23 0h1m1 0h2m2 0h1m57 0h2m19 0h1m75 0h2m-382 1h5m6 0h2m1 0h8m1 0h3m1 0h6m7 0h7m4 0h7m3 0h1m5 0h1m2 0h4m1 0h2m2 0h3m1 0h3m1 0h1m3 0h4m2 0h3m1 0h1m1 0h7m2 0h2m2 0h1m3 0h8m9 0h1m2 0h2m2 0h2m3 0h1m60 0h1m10 0h2m15 0h2m11 0h2m30 0h2m14 0h1m80 0h2m-382 1h5m2 0h1m3 0h1m5 0h5m1 0h3m1 0h4m1 0h1m2 0h2m1 0h9m1 0h1m3 0h6m6 0h2m3 0h1m2 0h3m1 0h1m2 0h2m1 0h6m3 0h2m1 0h1m1 0h4m1 0h1m1 0h3m1 0h10m2 0h6m1 0h5m2 0h2m4 0h2m3 0h2m1 0h3m25 0h1m7 0h1m1 0h2m11 0h1m11 0h1m7 0h3m17 0h2m11 0h2m11 0h2m-269 1h2m2 0h1m2 0h1m2 0h1m2 0h2m2 0h8m3 0h2m1 0h6m1 0h2m1 0h2m3 0h2m3 0h1m3 0h3m1 0h2m1 0h2m3 0h1m2 0h1m1 0h8m1 0h1m1 0h10m1 0h10m1 0h7m1 0h1m1 0h6m1 0h2m2 0h1m2 0h4m1 0h2m2 0h1m2 0h3m8 0h1m2 0h2m15 0h2m12 0h1m1 0h2m11 0h1m12 0h2m7 0h1m4 0h1m51 0h2m43 0h2m149 0h2m-480 1h1m1 0h3m1 0h3m2 0h2m2 0h2m1 0h8m2 0h4m3 0h1m1 0h2m2 0h6m1 0h3m1 0h2m1 0h5m1 0h2m2 0h5m1 0h3m1 0h4m5 0h16m2 0h6m2 0h12m1 0h3m4 0h4m1 0h1m7 0h2m7 0h1m4 0h2m15 0h2m13 0h1m13 0h1m12 0h2m6 0h1m2 0h2m13 0h1m39 0h2m80 0h2m-362 1h5m6 0h3m2 0h1m1 0h4m1 0h5m1 0h1m1 0h4m3 0h5m2 0h5m1 0h2m1 0h2m1 0h2m2 0h2m1 0h1m2 0h3m2 0h2m1 0h4m1 0h11m1 0h6m1 0h2m2 0h6m3 0h4m2 0h11m6 0h1m3 0h2m5 0h1m1 0h1m36 0h1m13 0h1m16 0h2m11 0h2m2 0h2m3 0h2m20 0h1m99 0h2m-364 1h13m2 0h2m2 0h1m1 0h8m6 0h5m3 0h2m2 0h2m8 0h3m2 0h3m12 0h16m1 0h2m1 0h2m3 0h3m1 0h2m1 0h3m2 0h1m6 0h2m1 0h7m6 0h2m23 0h2m58 0h2m6 0h3m53 0h2m-288 1h1m1 0h6m1 0h5m5 0h1m1 0h10m2 0h4m1 0h2m3 0h3m5 0h2m2 0h1m1 0h6m2 0h1m2 0h2m1 0h1m2 0h3m2 0h14m1 0h2m1 0h5m1 0h11m1 0h2m1 0h5m1 0h5m4 0h1m3 0h3m20 0h4m48 0h2m12 0h1m3 0h2m16 0h2m16 0h2m8 0h2m8 0h2m8 0h1m-298 1h1m4 0h4m6 0h3m3 0h3m3 0h4m4 0h3m3 0h8m3 0h12m2 0h8m1 0h5m1 0h16m2 0h3m1 0h3m2 0h4m4 0h1m2 0h2m3 0h4m1 0h1m1 0h1m4 0h2m2 0h4m9 0h1m4 0h2m10 0h2m28 0h2m2 0h6m1 0h4m12 0h1m17 0h1m3 0h2m6 0h2m18 0h2m18 0h1m-296 1h7m7 0h1m4 0h2m1 0h2m1 0h4m4 0h1m4 0h1m2 0h5m1 0h4m1 0h3m1 0h2m1 0h2m5 0h2m1 0h12m1 0h3m1 0h5m1 0h3m3 0h2m1 0h3m2 0h5m2 0h2m4 0h1m2 0h2m3 0h1m1 0h2m4 0h1m2 0h4m6 0h1m2 0h1m4 0h2m10 0h2m28 0h2m2 0h2m2 0h2m3 0h4m4 0h1m5 0h1m14 0h1m2 0h1m6 0h1m2 0h4m26 0h2m104 0h2m-391 1h1m1 0h2m1 0h2m10 0h1m2 0h1m1 0h2m2 0h5m1 0h2m2 0h1m1 0h1m3 0h5m1 0h5m1 0h4m1 0h2m1 0h3m3 0h22m1 0h2m5 0h13m2 0h12m2 0h4m4 0h1m2 0h2m25 0h2m11 0h1m14 0h2m18 0h2m11 0h1m2 0h3m3 0h1m4 0h4m6 0h1m15 0h2m51 0h1m4 0h2m134 0h2m-463 1h2m3 0h6m1 0h2m4 0h1m3 0h3m1 0h2m3 0h1m2 0h1m2 0h1m5 0h6m1 0h4m1 0h12m2 0h5m2 0h15m2 0h1m2 0h2m1 0h8m1 0h1m1 0h1m1 0h14m3 0h2m2 0h2m22 0h3m7 0h2m6 0h3m1 0h1m14 0h2m13 0h1m16 0h2m2 0h2m1 0h2m1 0h2m4 0h3m22 0h3m33 0h1m157 0h2m-463 1h2m1 0h1m1 0h7m4 0h1m6 0h1m2 0h2m3 0h7m1 0h2m1 0h9m4 0h4m1 0h9m1 0h18m1 0h2m1 0h1m3 0h3m1 0h3m1 0h1m3 0h3m1 0h1m1 0h1m1 0h1m3 0h3m1 0h1m6 0h4m3 0h2m9 0h2m6 0h3m15 0h3m31 0h1m18 0h1m39 0h2m57 0h1m-329 1h1m3 0h11m1 0h1m6 0h5m1 0h2m2 0h7m1 0h6m1 0h5m2 0h2m1 0h11m5 0h12m1 0h2m4 0h1m1 0h1m2 0h2m1 0h3m1 0h9m1 0h4m2 0h1m1 0h2m9 0h2m14 0h2m3 0h1m23 0h2m22 0h1m24 0h1m4 0h2m15 0h2m17 0h1m14 0h2m27 0h2m2 0h2m9 0h2m5 0h1m4 0h1m27 0h2m-371 1h1m1 0h1m1 0h14m5 0h4m1 0h4m4 0h4m2 0h3m1 0h1m2 0h6m1 0h16m1 0h1m1 0h8m1 0h2m4 0h1m3 0h3m2 0h12m3 0h4m1 0h7m2 0h2m2 0h2m17 0h4m39 0h3m15 0h4m12 0h2m2 0h1m18 0h2m32 0h2m3 0h2m22 0h2m2 0h2m13 0h1m7 0h1m27 0h2m-371 1h2m1 0h1m1 0h9m1 0h3m4 0h1m1 0h2m3 0h6m1 0h1m1 0h2m3 0h8m2 0h2m2 0h4m1 0h19m1 0h9m5 0h1m3 0h5m1 0h11m1 0h6m8 0h2m9 0h2m7 0h3m11 0h2m6 0h1m5 0h2m32 0h2m16 0h1m8 0h1m10 0h1m-252 1h3m1 0h10m2 0h2m3 0h15m3 0h2m1 0h6m1 0h1m2 0h3m2 0h2m3 0h2m1 0h3m1 0h11m1 0h1m1 0h3m1 0h2m1 0h1m4 0h2m2 0h5m3 0h6m1 0h2m1 0h4m1 0h1m5 0h1m1 0h1m11 0h2m1 0h2m4 0h1m4 0h3m7 0h1m6 0h1m1 0h2m10 0h2m12 0h1m12 0h1m36 0h1m28 0h1m32 0h5m-317 1h1m1 0h1m1 0h2m1 0h5m1 0h4m2 0h17m9 0h5m1 0h4m1 0h1m2 0h5m2 0h1m1 0h3m1 0h3m1 0h2m4 0h3m1 0h2m2 0h2m1 0h3m2 0h2m2 0h1m1 0h11m2 0h2m1 0h2m2 0h1m1 0h2m1 0h1m14 0h2m9 0h3m7 0h1m2 0h1m5 0h2m10 0h2m46 0h1m48 0h2m27 0h3m10 0h1m-325 1h1m2 0h1m4 0h1m2 0h1m4 0h12m3 0h4m1 0h2m3 0h2m1 0h1m2 0h3m1 0h13m1 0h19m1 0h2m1 0h2m2 0h1m1 0h1m1 0h3m1 0h9m1 0h2m3 0h4m4 0h1m1 0h4m23 0h2m4 0h3m6 0h2m16 0h2m10 0h1m35 0h3m8 0h2m28 0h2m6 0h2m27 0h1m-313 1h1m3 0h3m1 0h6m2 0h2m1 0h2m1 0h7m4 0h6m3 0h4m2 0h17m2 0h9m1 0h7m2 0h1m1 0h1m1 0h4m1 0h1m6 0h8m1 0h11m6 0h2m4 0h1m2 0h5m17 0h3m7 0h1m9 0h1m3 0h2m1 0h2m10 0h1m18 0h2m4 0h1m5 0h2m3 0h2m9 0h2m18 0h2m8 0h2m-276 1h1m1 0h4m2 0h1m1 0h5m1 0h4m1 0h4m1 0h5m1 0h6m3 0h3m2 0h17m1 0h6m1 0h1m1 0h7m2 0h1m2 0h1m1 0h6m3 0h3m2 0h8m1 0h7m5 0h2m4 0h2m3 0h2m1 0h1m2 0h2m19 0h1m12 0h2m3 0h1m3 0h2m1 0h1m9 0h3m24 0h1m36 0h2m9 0h2m18 0h2m-294 1h2m1 0h5m1 0h11m4 0h10m2 0h2m6 0h14m2 0h20m1 0h1m1 0h1m1 0h2m1 0h10m1 0h3m1 0h3m1 0h2m1 0h3m2 0h2m1 0h1m5 0h2m4 0h2m6 0h1m13 0h1m16 0h1m5 0h2m20 0h2m7 0h1m54 0h2m9 0h2m15 0h1m2 0h2m-292 1h11m4 0h3m1 0h2m1 0h1m1 0h5m2 0h3m1 0h2m2 0h2m3 0h5m1 0h5m2 0h3m6 0h5m2 0h4m1 0h2m1 0h1m3 0h3m1 0h2m1 0h13m1 0h4m2 0h2m2 0h3m8 0h2m1 0h1m24 0h2m7 0h2m1 0h1m4 0h2m14 0h2m7 0h2m5 0h1m67 0h1m-273 1h1m1 0h1m1 0h1m2 0h2m1 0h1m2 0h8m1 0h7m1 0h4m1 0h7m3 0h2m3 0h5m1 0h2m1 0h5m3 0h3m3 0h2m1 0h1m1 0h4m1 0h1m3 0h4m1 0h1m3 0h2m2 0h1m1 0h1m1 0h1m2 0h3m5 0h4m1 0h2m8 0h1m11 0h1m7 0h2m12 0h2m11 0h4m7 0h2m1 0h2m2 0h2m27 0h2m29 0h1m16 0h1m66 0h2m19 0h1m-360 1h1m2 0h5m1 0h1m2 0h3m2 0h3m2 0h8m1 0h1m1 0h2m1 0h3m2 0h1m3 0h3m1 0h2m1 0h4m1 0h1m1 0h4m2 0h4m1 0h2m1 0h1m1 0h2m8 0h2m3 0h2m2 0h4m1 0h10m14 0h1m2 0h1m17 0h2m1 0h1m1 0h4m3 0h2m2 0h1m13 0h2m2 0h2m10 0h2m2 0h2m9 0h2m28 0h3m5 0h2m9 0h1m27 0h1m41 0h2m33 0h1m-362 1h2m1 0h5m1 0h8m2 0h2m3 0h7m2 0h1m1 0h2m1 0h2m3 0h2m1 0h7m1 0h4m1 0h2m2 0h3m1 0h4m1 0h4m2 0h1m4 0h2m1 0h7m1 0h2m4 0h10m5 0h2m13 0h2m5 0h2m3 0h1m3 0h2m1 0h1m8 0h2m9 0h2m3 0h2m20 0h2m14 0h2m12 0h5m6 0h4m4 0h2m9 0h2m10 0h2m4 0h1m5 0h2m44 0h3m-329 1h1m1 0h6m2 0h3m2 0h2m2 0h8m3 0h10m2 0h14m1 0h12m1 0h1m2 0h3m2 0h1m1 0h4m3 0h6m1 0h2m1 0h10m4 0h1m10 0h2m5 0h2m11 0h1m16 0h1m9 0h1m1 0h2m1 0h2m31 0h2m3 0h2m13 0h4m8 0h2m6 0h1m20 0h2m4 0h1m5 0h2m35 0h1m-315 1h2m2 0h8m3 0h12m1 0h1m2 0h4m2 0h1m1 0h1m1 0h10m1 0h1m1 0h8m5 0h2m2 0h1m6 0h1m4 0h7m2 0h1m1 0h10m4 0h5m5 0h1m5 0h1m1 0h2m3 0h1m13 0h1m10 0h1m11 0h2m14 0h2m13 0h2m18 0h1m7 0h1m72 0h1m-302 1h3m2 0h8m1 0h1m1 0h1m1 0h10m2 0h4m1 0h2m2 0h1m3 0h2m1 0h17m1 0h11m4 0h9m1 0h1m1 0h1m1 0h6m1 0h2m1 0h3m1 0h4m2 0h1m5 0h1m15 0h2m4 0h2m3 0h2m1 0h3m33 0h2m3 0h1m9 0h2m19 0h2m2 0h2m2 0h1m1 0h3m45 0h1m21 0h1m14 0h1m-315 1h2m1 0h1m3 0h3m2 0h5m2 0h1m1 0h6m1 0h2m1 0h7m5 0h8m1 0h5m1 0h1m2 0h5m1 0h2m2 0h3m2 0h2m1 0h1m1 0h11m1 0h8m4 0h5m22 0h6m1 0h3m6 0h2m38 0h1m4 0h1m11 0h1m13 0h2m6 0h1m1 0h2m1 0h1m2 0h1m25 0h2m14 0h1m13 0h1m13 0h2m3 0h1m3 0h1m26 0h2m-348 1h1m4 0h2m4 0h5m2 0h9m1 0h4m3 0h2m1 0h6m3 0h2m2 0h3m2 0h5m2 0h1m1 0h6m1 0h1m1 0h1m3 0h1m2 0h4m1 0h1m2 0h8m1 0h8m4 0h2m2 0h1m1 0h1m7 0h2m2 0h2m9 0h3m3 0h2m9 0h1m11 0h2m28 0h1m31 0h4m3 0h1m2 0h1m2 0h2m1 0h2m14 0h2m32 0h1m13 0h2m34 0h2m87 0h1m-434 1h1m2 0h2m2 0h3m1 0h6m1 0h7m1 0h1m1 0h1m3 0h7m1 0h3m3 0h6m1 0h6m1 0h1m2 0h3m2 0h1m3 0h1m3 0h1m2 0h2m1 0h3m2 0h1m2 0h10m1 0h1m2 0h2m10 0h2m4 0h2m13 0h1m1 0h2m7 0h4m1 0h2m11 0h2m49 0h1m3 0h2m7 0h2m2 0h1m6 0h2m-245 1h1m1 0h1m2 0h2m3 0h3m2 0h4m2 0h3m1 0h4m1 0h2m2 0h8m2 0h1m1 0h1m1 0h20m2 0h1m1 0h1m7 0h2m1 0h1m1 0h6m1 0h1m1 0h9m2 0h3m10 0h2m11 0h2m3 0h1m3 0h1m8 0h1m5 0h2m54 0h1m1 0h1m1 0h2m6 0h2m28 0h2m4 0h1m2 0h2m-254 1h2m4 0h2m2 0h4m1 0h2m1 0h4m1 0h4m1 0h7m1 0h1m1 0h8m1 0h1m2 0h1m1 0h3m2 0h1m6 0h1m3 0h1m5 0h19m1 0h2m4 0h2m3 0h5m4 0h3m7 0h3m3 0h1m25 0h1m8 0h1m23 0h2m10 0h3m1 0h2m2 0h2m2 0h2m14 0h2m2 0h1m11 0h1m3 0h1m27 0h2m32 0h2m15 0h1m4 0h1m58 0h1m-398 1h2m1 0h12m2 0h5m2 0h2m2 0h1m3 0h8m3 0h3m1 0h3m2 0h3m2 0h1m2 0h1m5 0h1m6 0h2m1 0h1m1 0h3m1 0h3m2 0h6m1 0h7m6 0h1m1 0h1m2 0h2m5 0h3m3 0h1m7 0h1m8 0h2m6 0h2m7 0h3m3 0h1m1 0h1m1 0h2m23 0h2m15 0h1m2 0h3m4 0h2m6 0h1m4 0h1m30 0h2m15 0h2m49 0h3m2 0h1m33 0h1m24 0h1m-398 1h4m3 0h5m1 0h2m2 0h3m4 0h3m1 0h2m1 0h6m7 0h9m1 0h1m2 0h1m2 0h2m1 0h1m2 0h1m1 0h2m2 0h4m1 0h2m3 0h11m4 0h3m7 0h1m1 0h1m1 0h1m9 0h1m3 0h1m7 0h1m2 0h3m11 0h3m14 0h1m1 0h1m2 0h1m2 0h1m35 0h1m4 0h1m3 0h1m13 0h1m4 0h1m22 0h1m1 0h1m-265 1h1m1 0h2m3 0h3m3 0h1m2 0h15m2 0h4m5 0h11m3 0h4m6 0h1m2 0h1m1 0h8m2 0h11m3 0h4m2 0h1m1 0h2m1 0h4m1 0h1m8 0h2m14 0h2m1 0h2m11 0h1m7 0h3m1 0h2m3 0h1m5 0h1m4 0h2m11 0h1m16 0h1m10 0h1m9 0h1m1 0h5m24 0h1m1 0h1m39 0h2m30 0h1m4 0h1m-339 1h2m1 0h5m3 0h9m1 0h3m2 0h10m7 0h8m2 0h4m2 0h1m8 0h1m3 0h2m1 0h2m3 0h6m4 0h5m1 0h1m6 0h3m7 0h2m2 0h3m4 0h1m18 0h1m13 0h3m30 0h1m16 0h1m9 0h2m9 0h1m1 0h1m3 0h1m38 0h1m59 0h1m4 0h1m-343 1h3m3 0h4m1 0h4m2 0h5m1 0h1m1 0h4m1 0h5m1 0h3m1 0h1m3 0h1m2 0h6m2 0h1m5 0h2m3 0h1m2 0h2m1 0h1m2 0h3m2 0h3m2 0h7m1 0h5m1 0h7m16 0h2m2 0h2m1 0h1m17 0h1m9 0h1m9 0h2m10 0h1m3 0h2m1 0h2m46 0h1m9 0h2m22 0h1m8 0h1m21 0h1m24 0h1m-325 1h3m1 0h1m1 0h4m1 0h11m1 0h3m1 0h12m4 0h5m2 0h6m4 0h1m5 0h1m2 0h1m1 0h7m2 0h4m1 0h9m1 0h3m1 0h2m1 0h4m15 0h2m6 0h1m37 0h2m4 0h1m5 0h1m3 0h2m1 0h2m8 0h2m46 0h1m23 0h1m17 0h2m11 0h1m52 0h1m-352 1h4m1 0h2m1 0h3m2 0h8m1 0h10m2 0h3m4 0h1m1 0h1m1 0h6m3 0h1m10 0h1m2 0h1m1 0h1m1 0h6m1 0h2m2 0h5m1 0h3m1 0h4m2 0h2m1 0h2m5 0h1m1 0h2m15 0h1m3 0h1m5 0h1m6 0h1m9 0h1m3 0h2m11 0h1m27 0h1m7 0h2m8 0h2m3 0h3m4 0h1m9 0h2m1 0h1m19 0h2m2 0h1m17 0h2m144 0h1m-435 1h1m2 0h7m1 0h3m1 0h2m1 0h6m1 0h1m1 0h5m1 0h7m6 0h1m1 0h1m1 0h4m1 0h1m1 0h2m2 0h1m4 0h1m2 0h1m1 0h1m1 0h1m1 0h2m2 0h4m2 0h10m2 0h4m1 0h1m1 0h3m3 0h3m1 0h2m4 0h2m6 0h1m1 0h2m3 0h1m3 0h2m7 0h1m9 0h1m3 0h2m30 0h1m7 0h1m8 0h2m13 0h8m6 0h1m3 0h2m24 0h1m48 0h2m113 0h1m-433 1h5m1 0h9m1 0h7m1 0h1m1 0h12m6 0h3m1 0h4m1 0h1m1 0h2m7 0h2m1 0h2m1 0h1m1 0h3m1 0h3m1 0h1m1 0h7m2 0h2m5 0h1m1 0h2m1 0h4m9 0h2m8 0h1m9 0h2m6 0h2m4 0h5m6 0h1m5 0h2m23 0h1m3 0h2m2 0h3m24 0h5m6 0h1m3 0h2m73 0h2m-318 1h4m1 0h4m1 0h4m1 0h6m3 0h11m5 0h1m1 0h11m9 0h1m3 0h1m1 0h2m1 0h2m2 0h3m1 0h1m1 0h4m3 0h2m3 0h1m22 0h2m16 0h2m13 0h5m35 0h2m10 0h2m20 0h1m6 0h1m36 0h2m-269 1h3m2 0h6m3 0h7m2 0h8m1 0h5m3 0h8m2 0h3m8 0h1m4 0h1m4 0h3m4 0h6m5 0h3m1 0h2m1 0h3m12 0h5m19 0h1m4 0h1m6 0h1m1 0h2m38 0h2m10 0h2m27 0h1m22 0h3m11 0h2m-269 1h2m1 0h5m2 0h1m4 0h6m2 0h2m2 0h7m6 0h3m1 0h1m1 0h6m7 0h1m1 0h2m3 0h3m2 0h4m3 0h6m2 0h13m7 0h1m1 0h1m2 0h5m15 0h1m3 0h2m10 0h1m2 0h1m16 0h1m23 0h1m9 0h1m1 0h1m10 0h2m40 0h1m29 0h1m13 0h1m4 0h1m46 0h2m-357 1h1m2 0h7m1 0h1m1 0h9m4 0h7m1 0h4m5 0h2m2 0h1m2 0h5m7 0h1m2 0h1m1 0h3m3 0h6m1 0h4m3 0h1m1 0h4m1 0h4m2 0h2m6 0h2m5 0h2m1 0h1m12 0h1m2 0h1m30 0h2m27 0h2m10 0h1m17 0h2m7 0h1m11 0h2m5 0h2m5 0h1m10 0h1m18 0h1m4 0h1m8 0h1m3 0h1m34 0h1m3 0h2m60 0h2m-407 1h14m1 0h4m4 0h4m1 0h7m5 0h1m1 0h4m4 0h1m7 0h1m2 0h2m2 0h2m3 0h7m1 0h10m3 0h3m6 0h2m6 0h2m5 0h1m1 0h2m9 0h1m20 0h2m3 0h2m11 0h1m8 0h2m43 0h2m7 0h1m11 0h2m20 0h1m2 0h1m2 0h2m11 0h1m7 0h1m2 0h1m5 0h1m28 0h2m8 0h1m65 0h2m-406 1h1m1 0h2m1 0h6m1 0h6m2 0h14m4 0h7m2 0h1m8 0h2m2 0h2m1 0h1m3 0h20m1 0h6m3 0h1m1 0h2m15 0h4m4 0h2m7 0h2m3 0h2m2 0h1m9 0h1m12 0h2m1 0h2m5 0h2m7 0h2m4 0h2m11 0h2m10 0h4m2 0h2m21 0h1m10 0h3m5 0h1m6 0h1m11 0h1m10 0h1m153 0h1m-450 1h5m2 0h2m1 0h2m2 0h3m1 0h2m2 0h2m1 0h2m1 0h4m1 0h2m4 0h1m1 0h2m2 0h3m10 0h1m2 0h5m1 0h1m1 0h16m1 0h1m1 0h1m1 0h2m1 0h3m3 0h1m1 0h3m4 0h1m5 0h2m2 0h2m15 0h4m15 0h1m9 0h2m4 0h4m5 0h2m24 0h2m11 0h1m4 0h2m8 0h1m23 0h3m12 0h1m176 0h1m-450 1h15m1 0h6m1 0h1m1 0h7m1 0h2m5 0h3m1 0h3m10 0h1m5 0h10m2 0h5m1 0h8m1 0h1m1 0h3m3 0h1m2 0h2m2 0h2m1 0h1m12 0h1m15 0h2m12 0h2m4 0h4m3 0h2m6 0h2m5 0h2m30 0h2m5 0h2m5 0h1m18 0h1m18 0h1m5 0h1m47 0h2m82 0h1m-400 1h17m4 0h4m2 0h4m1 0h2m3 0h1m5 0h1m9 0h2m5 0h1m1 0h16m1 0h6m1 0h1m3 0h1m3 0h1m1 0h1m2 0h1m3 0h2m1 0h1m12 0h1m11 0h2m1 0h3m12 0h2m1 0h1m2 0h3m21 0h2m26 0h4m9 0h1m9 0h1m1 0h2m11 0h2m8 0h2m10 0h1m93 0h1m-362 1h4m1 0h3m1 0h2m2 0h3m1 0h1m2 0h6m1 0h5m6 0h1m12 0h2m1 0h2m1 0h1m2 0h1m1 0h10m1 0h6m1 0h1m1 0h3m1 0h1m2 0h2m3 0h1m8 0h3m7 0h2m16 0h2m1 0h2m1 0h2m10 0h2m12 0h1m15 0h4m24 0h3m10 0h1m8 0h1m2 0h2m28 0h1m35 0h2m61 0h1m4 0h2m-368 1h4m1 0h1m1 0h5m3 0h4m2 0h11m6 0h2m11 0h2m1 0h5m1 0h8m1 0h3m1 0h6m4 0h1m5 0h2m5 0h2m4 0h1m1 0h1m8 0h2m2 0h1m1 0h1m3 0h1m5 0h1m19 0h2m10 0h3m12 0h2m9 0h2m11 0h1m18 0h2m15 0h2m24 0h1m2 0h1m6 0h3m29 0h1m78 0h2m-385 1h4m1 0h2m2 0h4m1 0h2m1 0h1m1 0h1m2 0h10m6 0h2m12 0h1m1 0h25m2 0h4m4 0h4m3 0h2m1 0h1m4 0h1m12 0h1m1 0h1m9 0h1m4 0h2m7 0h2m3 0h3m2 0h2m31 0h3m7 0h1m3 0h1m3 0h2m4 0h2m1 0h1m2 0h1m2 0h2m2 0h2m11 0h2m3 0h1m11 0h2m10 0h1m6 0h2m13 0h2m2 0h3m105 0h2m-401 1h1m1 0h1m1 0h1m1 0h1m2 0h7m3 0h2m1 0h10m17 0h1m1 0h4m1 0h5m2 0h15m1 0h1m1 0h3m1 0h9m5 0h2m2 0h2m2 0h3m3 0h1m4 0h1m10 0h3m2 0h2m7 0h2m3 0h1m4 0h2m5 0h2m2 0h1m10 0h1m2 0h2m6 0h2m8 0h2m4 0h1m1 0h4m2 0h2m5 0h3m3 0h2m11 0h2m6 0h1m1 0h1m2 0h1m3 0h2m5 0h1m2 0h2m3 0h2m17 0h2m2 0h3m64 0h2m-362 1h1m1 0h5m1 0h1m1 0h3m1 0h4m1 0h1m3 0h4m2 0h4m13 0h1m3 0h2m2 0h6m3 0h1m2 0h4m1 0h11m2 0h4m1 0h8m5 0h2m1 0h2m2 0h5m3 0h2m1 0h1m3 0h2m5 0h2m13 0h1m15 0h1m14 0h1m2 0h2m16 0h2m4 0h1m3 0h2m2 0h1m5 0h4m1 0h4m11 0h4m6 0h1m2 0h1m10 0h1m7 0h2m6 0h1m27 0h2m12 0h1m13 0h2m22 0h4m-359 1h1m1 0h7m2 0h1m1 0h2m1 0h6m1 0h3m1 0h3m7 0h1m5 0h1m3 0h1m1 0h10m1 0h2m1 0h4m1 0h2m1 0h3m1 0h3m1 0h2m1 0h6m1 0h3m1 0h1m8 0h2m2 0h5m1 0h2m2 0h1m17 0h1m7 0h4m7 0h2m5 0h2m15 0h1m10 0h2m12 0h2m4 0h1m5 0h3m4 0h2m5 0h1m46 0h1m28 0h1m12 0h1m25 0h2m10 0h2m3 0h2m-363 1h2m3 0h3m4 0h5m1 0h7m3 0h1m15 0h1m1 0h1m2 0h2m1 0h1m1 0h8m2 0h6m1 0h4m5 0h2m1 0h5m3 0h4m4 0h3m6 0h2m1 0h1m1 0h2m2 0h1m2 0h1m2 0h2m8 0h2m8 0h4m5 0h3m6 0h2m12 0h2m12 0h2m17 0h2m5 0h1m1 0h2m9 0h2m3 0h1m3 0h2m5 0h2m1 0h2m11 0h2m43 0h1m38 0h2m57 0h2m-407 1h1m1 0h1m1 0h13m3 0h4m2 0h5m16 0h7m2 0h4m1 0h4m1 0h2m2 0h2m2 0h5m2 0h6m1 0h3m4 0h3m1 0h1m1 0h3m13 0h1m5 0h4m1 0h3m4 0h1m18 0h2m21 0h2m5 0h2m10 0h3m3 0h1m6 0h1m2 0h1m1 0h3m2 0h2m12 0h1m1 0h2m12 0h2m1 0h2m9 0h2m7 0h1m18 0h2m51 0h2m59 0h2m-406 1h2m1 0h2m1 0h3m1 0h3m1 0h2m3 0h5m1 0h1m2 0h1m17 0h1m2 0h7m1 0h10m1 0h4m1 0h7m2 0h5m2 0h1m4 0h3m1 0h1m7 0h2m5 0h3m4 0h4m4 0h2m4 0h1m8 0h1m8 0h3m16 0h2m2 0h3m5 0h2m16 0h1m2 0h1m8 0h2m12 0h2m3 0h1m2 0h1m12 0h1m2 0h2m9 0h1m7 0h2m19 0h1m5 0h1m2 0h2m41 0h2m61 0h4m-410 1h2m5 0h2m1 0h4m3 0h1m1 0h7m1 0h2m3 0h1m12 0h3m2 0h2m1 0h2m1 0h1m1 0h3m1 0h9m2 0h14m2 0h7m1 0h2m6 0h2m6 0h1m3 0h1m4 0h1m2 0h1m17 0h1m1 0h1m6 0h3m18 0h1m1 0h3m6 0h1m1 0h1m6 0h2m9 0h1m7 0h5m4 0h2m3 0h1m3 0h1m16 0h2m2 0h3m37 0h1m5 0h1m28 0h1m65 0h1m3 0h1m-396 1h1m2 0h2m1 0h8m2 0h6m1 0h1m9 0h1m10 0h3m2 0h5m1 0h2m1 0h13m2 0h4m1 0h7m3 0h2m1 0h3m1 0h3m6 0h2m10 0h1m3 0h1m3 0h1m1 0h3m23 0h2m13 0h1m15 0h2m26 0h2m1 0h2m4 0h2m7 0h1m2 0h3m1 0h2m8 0h2m3 0h2m53 0h1m12 0h2m4 0h1m69 0h1m-396 1h3m2 0h3m1 0h1m1 0h2m3 0h1m1 0h1m2 0h2m1 0h1m1 0h1m12 0h1m4 0h4m1 0h5m2 0h1m1 0h7m1 0h5m1 0h1m1 0h4m2 0h6m1 0h7m1 0h2m5 0h3m10 0h2m5 0h7m8 0h1m1 0h2m1 0h1m4 0h1m1 0h1m1 0h2m2 0h2m5 0h3m2 0h1m15 0h2m4 0h2m2 0h2m6 0h1m4 0h1m5 0h1m9 0h1m3 0h1m2 0h1m2 0h3m3 0h1m1 0h1m2 0h2m8 0h2m6 0h4m3 0h2m19 0h1m10 0h1m5 0h1m12 0h2m3 0h2m108 0h2m-438 1h9m1 0h5m1 0h1m1 0h2m3 0h4m16 0h1m2 0h2m1 0h1m1 0h2m1 0h2m2 0h2m1 0h21m1 0h8m4 0h5m4 0h4m1 0h2m5 0h1m5 0h1m1 0h7m1 0h1m8 0h3m2 0h2m9 0h1m7 0h2m1 0h1m12 0h3m4 0h2m7 0h2m4 0h1m3 0h1m3 0h2m1 0h1m6 0h2m2 0h1m10 0h1m4 0h2m3 0h1m5 0h2m1 0h4m43 0h1m10 0h2m11 0h2m63 0h2m43 0h2m-436 1h1m1 0h2m1 0h2m1 0h2m1 0h3m1 0h2m1 0h2m1 0h2m16 0h1m1 0h2m1 0h1m3 0h9m2 0h25m2 0h7m1 0h2m1 0h3m4 0h2m1 0h2m2 0h2m1 0h1m5 0h1m2 0h2m2 0h2m1 0h1m4 0h4m1 0h2m24 0h1m12 0h3m4 0h2m7 0h2m5 0h1m2 0h1m11 0h4m1 0h2m3 0h2m3 0h2m5 0h2m11 0h1m2 0h3m16 0h1m36 0h2m76 0h2m-391 1h1m1 0h2m1 0h1m2 0h4m6 0h2m1 0h1m15 0h2m2 0h2m1 0h3m1 0h3m1 0h4m1 0h7m1 0h19m1 0h3m2 0h3m3 0h4m4 0h2m7 0h1m2 0h2m5 0h1m7 0h2m2 0h4m6 0h2m7 0h1m2 0h1m1 0h1m4 0h2m51 0h4m7 0h2m2 0h2m7 0h1m7 0h1m2 0h2m2 0h2m4 0h1m2 0h2m38 0h1m-304 1h1m3 0h2m1 0h2m3 0h2m2 0h1m17 0h1m1 0h1m1 0h1m2 0h5m1 0h3m1 0h22m1 0h1m1 0h12m1 0h3m3 0h2m1 0h3m1 0h2m7 0h5m13 0h2m6 0h2m5 0h4m4 0h1m2 0h1m6 0h2m4 0h2m14 0h1m1 0h2m1 0h1m2 0h2m17 0h2m1 0h1m4 0h1m5 0h3m2 0h2m9 0h3m2 0h2m2 0h2m8 0h1m2 0h2m68 0h2m-338 1h1m4 0h1m2 0h1m2 0h1m2 0h1m1 0h2m3 0h2m12 0h1m1 0h1m1 0h1m1 0h4m1 0h3m2 0h10m1 0h10m1 0h3m3 0h12m1 0h5m1 0h2m4 0h1m7 0h2m13 0h2m11 0h2m5 0h4m4 0h2m7 0h2m5 0h2m4 0h2m2 0h2m4 0h1m1 0h2m1 0h1m2 0h2m9 0h2m2 0h2m4 0h1m5 0h1m2 0h3m1 0h6m1 0h2m3 0h2m1 0h3m5 0h1m8 0h1m3 0h2m18 0h1m16 0h1m79 0h1m-379 1h8m4 0h1m1 0h1m3 0h1m10 0h1m1 0h1m6 0h8m1 0h2m1 0h2m1 0h4m3 0h5m1 0h5m3 0h11m1 0h3m1 0h4m1 0h1m6 0h1m1 0h2m2 0h2m5 0h1m1 0h2m1 0h1m7 0h1m11 0h2m3 0h1m5 0h2m15 0h2m3 0h2m21 0h1m2 0h1m2 0h2m8 0h2m6 0h4m1 0h1m1 0h2m4 0h3m3 0h2m3 0h6m7 0h1m3 0h2m11 0h1m23 0h1m2 0h1m21 0h2m-325 1h1m1 0h6m3 0h1m2 0h2m15 0h3m3 0h2m2 0h8m1 0h2m2 0h5m2 0h11m1 0h1m2 0h4m1 0h3m1 0h3m4 0h2m1 0h8m2 0h2m1 0h4m1 0h3m2 0h2m1 0h1m6 0h1m3 0h7m1 0h2m3 0h3m3 0h2m4 0h4m6 0h1m5 0h2m7 0h1m10 0h1m5 0h1m2 0h1m4 0h2m4 0h1m5 0h5m4 0h3m2 0h3m1 0h3m4 0h4m8 0h1m11 0h1m5 0h2m19 0h2m17 0h1m25 0h2m-339 1h2m3 0h1m3 0h1m1 0h2m13 0h1m3 0h2m1 0h2m2 0h2m1 0h5m2 0h3m2 0h5m1 0h6m1 0h10m1 0h1m1 0h1m1 0h2m1 0h1m4 0h1m3 0h4m1 0h3m2 0h3m1 0h2m2 0h4m4 0h2m2 0h2m2 0h2m1 0h6m7 0h3m5 0h2m1 0h2m1 0h2m10 0h1m4 0h1m2 0h2m12 0h1m8 0h1m4 0h2m10 0h3m2 0h2m2 0h2m3 0h2m2 0h1m6 0h2m11 0h2m5 0h2m8 0h2m15 0h2m1 0h4m8 0h1m-311 1h1m1 0h1m1 0h2m1 0h1m5 0h1m1 0h1m17 0h3m2 0h11m1 0h7m2 0h2m1 0h14m2 0h5m4 0h4m1 0h2m1 0h2m2 0h3m2 0h2m3 0h2m1 0h3m3 0h2m9 0h2m2 0h2m3 0h1m13 0h1m7 0h2m39 0h1m8 0h2m6 0h2m3 0h2m2 0h2m3 0h1m4 0h2m2 0h1m6 0h2m9 0h2m7 0h2m5 0h1m19 0h2m1 0h4m1 0h1m6 0h1m1 0h2m24 0h2m33 0h1m87 0h1m-460 1h1m2 0h1m9 0h1m1 0h1m16 0h2m1 0h10m1 0h1m1 0h6m2 0h3m1 0h2m1 0h16m1 0h5m1 0h3m1 0h2m6 0h6m1 0h1m1 0h1m2 0h2m2 0h6m2 0h1m3 0h4m2 0h3m1 0h4m8 0h2m10 0h1m20 0h2m14 0h3m3 0h2m1 0h4m8 0h2m1 0h2m1 0h2m7 0h2m1 0h1m6 0h2m3 0h2m6 0h3m4 0h2m9 0h2m25 0h1m8 0h2m24 0h2m86 0h2m-424 1h1m4 0h1m2 0h2m1 0h1m16 0h9m1 0h5m1 0h1m1 0h6m2 0h1m1 0h3m1 0h6m1 0h7m1 0h2m1 0h3m1 0h5m2 0h6m3 0h7m2 0h3m1 0h1m1 0h2m1 0h2m1 0h1m1 0h2m1 0h2m8 0h4m8 0h2m10 0h2m3 0h1m13 0h2m13 0h2m7 0h6m7 0h1m3 0h1m1 0h1m1 0h2m1 0h3m1 0h2m5 0h4m1 0h3m2 0h2m6 0h2m4 0h3m9 0h2m1 0h1m-277 1h1m4 0h1m3 0h1m3 0h1m14 0h1m4 0h1m1 0h3m1 0h5m1 0h8m2 0h2m1 0h16m2 0h25m2 0h7m1 0h2m1 0h2m2 0h2m2 0h2m1 0h1m2 0h1m2 0h1m5 0h7m3 0h1m9 0h1m7 0h1m4 0h2m6 0h4m6 0h1m2 0h4m1 0h2m9 0h1m1 0h2m2 0h4m2 0h1m6 0h8m4 0h2m4 0h1m1 0h2m26 0h1m62 0h2m-327 1h1m15 0h1m3 0h2m1 0h1m3 0h1m1 0h5m1 0h1m1 0h2m1 0h2m1 0h5m2 0h2m1 0h3m1 0h5m1 0h2m1 0h10m1 0h1m4 0h2m3 0h1m6 0h7m2 0h1m7 0h6m3 0h1m1 0h1m2 0h7m1 0h1m1 0h1m3 0h4m1 0h2m5 0h1m1 0h1m1 0h2m1 0h2m8 0h3m1 0h2m12 0h3m6 0h10m7 0h2m1 0h3m1 0h5m1 0h1m8 0h5m4 0h2m21 0h1m6 0h1m38 0h2m2 0h4m3 0h4m13 0h2m55 0h1m-408 1h1m8 0h1m14 0h1m4 0h4m3 0h2m1 0h1m2 0h2m1 0h1m1 0h11m1 0h3m1 0h9m1 0h8m1 0h5m1 0h3m3 0h1m1 0h1m7 0h3m2 0h1m3 0h1m4 0h6m1 0h2m1 0h1m1 0h4m1 0h4m1 0h3m3 0h2m1 0h1m7 0h2m2 0h7m10 0h6m3 0h2m2 0h1m4 0h1m4 0h1m3 0h2m1 0h6m5 0h5m3 0h4m1 0h2m2 0h3m5 0h1m1 0h3m5 0h2m4 0h2m2 0h2m10 0h1m3 0h3m2 0h1m6 0h1m16 0h1m10 0h1m1 0h2m2 0h4m3 0h2m72 0h1m21 0h1m-432 1h2m8 0h1m11 0h1m3 0h2m2 0h2m2 0h1m3 0h4m2 0h4m1 0h1m1 0h6m1 0h1m3 0h5m2 0h2m1 0h14m1 0h8m3 0h2m3 0h4m1 0h3m2 0h3m1 0h2m1 0h1m1 0h2m6 0h1m1 0h4m1 0h3m3 0h2m3 0h2m1 0h2m6 0h6m2 0h2m11 0h2m3 0h2m7 0h2m1 0h2m4 0h2m2 0h6m8 0h9m8 0h1m3 0h1m2 0h1m4 0h1m1 0h1m2 0h3m1 0h2m12 0h2m7 0h3m2 0h1m20 0h2m1 0h1m10 0h1m13 0h2m30 0h1m16 0h1m-378 1h1m22 0h10m1 0h1m1 0h13m1 0h1m2 0h7m1 0h8m1 0h3m1 0h4m1 0h4m1 0h3m4 0h3m1 0h2m4 0h3m1 0h3m1 0h4m1 0h1m3 0h2m7 0h2m13 0h1m4 0h2m5 0h2m3 0h2m6 0h1m20 0h3m9 0h2m5 0h6m1 0h6m2 0h3m1 0h5m3 0h5m1 0h2m2 0h1m4 0h1m1 0h2m7 0h3m17 0h2m18 0h2m4 0h1m7 0h2m12 0h2m-306 1h1m1 0h1m2 0h2m1 0h1m1 0h1m1 0h3m2 0h6m2 0h2m1 0h2m1 0h18m1 0h9m3 0h2m3 0h4m2 0h3m2 0h2m1 0h8m3 0h1m1 0h2m4 0h1m2 0h2m2 0h3m1 0h4m3 0h2m3 0h3m2 0h2m2 0h2m18 0h1m2 0h4m8 0h2m1 0h2m4 0h2m3 0h11m1 0h2m2 0h1m2 0h1m1 0h9m8 0h2m3 0h1m1 0h2m10 0h1m6 0h1m10 0h2m32 0h2m2 0h2m9 0h1m14 0h1m13 0h2m8 0h2m-378 1h1m6 0h1m19 0h1m1 0h4m4 0h2m1 0h1m2 0h7m1 0h6m1 0h1m1 0h1m2 0h12m1 0h5m1 0h3m3 0h3m3 0h5m3 0h3m1 0h6m1 0h10m7 0h3m1 0h1m1 0h2m1 0h7m1 0h6m11 0h3m7 0h2m8 0h3m2 0h1m1 0h1m5 0h1m1 0h2m1 0h1m7 0h2m1 0h2m5 0h4m2 0h5m1 0h8m7 0h1m2 0h1m2 0h2m1 0h1m2 0h1m3 0h1m13 0h1m41 0h1m6 0h2m23 0h2m2 0h1m-358 1h1m1 0h1m21 0h2m5 0h3m2 0h1m2 0h5m3 0h2m1 0h1m1 0h1m1 0h5m1 0h2m3 0h4m1 0h22m1 0h4m2 0h2m3 0h3m1 0h6m1 0h3m2 0h1m1 0h2m3 0h1m1 0h1m1 0h3m2 0h1m1 0h2m1 0h1m1 0h2m1 0h2m1 0h4m15 0h1m7 0h5m2 0h1m3 0h2m2 0h2m1 0h1m4 0h1m9 0h1m2 0h2m1 0h1m1 0h2m2 0h3m1 0h2m2 0h7m2 0h4m2 0h7m1 0h1m2 0h2m2 0h1m2 0h2m4 0h3m8 0h2m4 0h2m3 0h1m4 0h2m5 0h1m18 0h1m5 0h1m3 0h1m-307 1h1m5 0h1m2 0h2m1 0h2m2 0h3m4 0h1m1 0h13m2 0h1m1 0h2m1 0h9m1 0h8m3 0h11m1 0h1m1 0h13m4 0h2m2 0h2m2 0h5m3 0h1m3 0h2m5 0h4m5 0h2m6 0h2m1 0h2m12 0h1m4 0h4m1 0h2m2 0h4m9 0h4m1 0h1m1 0h2m2 0h12m1 0h3m1 0h4m1 0h6m3 0h1m2 0h1m3 0h1m2 0h2m4 0h3m8 0h2m4 0h2m3 0h1m4 0h3m1 0h1m2 0h1m28 0h1m49 0h2m16 0h1m22 0h1m1 0h1m-399 1h1m3 0h3m1 0h5m2 0h2m3 0h4m1 0h4m1 0h2m1 0h7m1 0h2m1 0h3m1 0h8m1 0h5m2 0h6m1 0h13m1 0h6m2 0h2m1 0h2m7 0h4m1 0h6m1 0h3m6 0h2m4 0h2m6 0h9m2 0h3m9 0h6m2 0h4m2 0h11m2 0h3m4 0h8m3 0h8m2 0h5m3 0h7m3 0h1m2 0h2m4 0h1m3 0h2m3 0h1m3 0h2m1 0h2m9 0h1m2 0h1m12 0h3m7 0h2m2 0h2m1 0h1m2 0h1m9 0h1m36 0h2m39 0h1m-401 1h1m4 0h1m1 0h2m1 0h4m2 0h1m2 0h3m2 0h1m1 0h2m1 0h7m1 0h7m1 0h1m1 0h4m3 0h2m1 0h17m1 0h1m1 0h4m1 0h6m1 0h1m1 0h6m2 0h6m1 0h14m1 0h6m1 0h1m3 0h1m1 0h2m4 0h2m5 0h7m3 0h1m11 0h2m1 0h1m2 0h1m1 0h2m1 0h10m3 0h6m2 0h6m1 0h3m1 0h2m3 0h11m1 0h9m2 0h1m4 0h2m1 0h4m2 0h1m7 0h2m1 0h2m5 0h2m2 0h1m2 0h1m6 0h3m4 0h2m14 0h1m2 0h1m9 0h1m2 0h2m6 0h2m4 0h1m12 0h2m1 0h1m2 0h1m26 0h2m37 0h1m-423 1h2m3 0h1m4 0h2m1 0h2m2 0h3m1 0h1m2 0h1m3 0h2m1 0h1m1 0h3m2 0h4m1 0h1m1 0h5m2 0h2m1 0h2m1 0h2m3 0h16m1 0h6m1 0h3m3 0h3m1 0h6m1 0h1m1 0h3m1 0h13m1 0h1m3 0h6m4 0h2m3 0h3m4 0h3m2 0h1m7 0h1m7 0h4m4 0h7m1 0h5m1 0h8m1 0h3m2 0h5m5 0h3m1 0h11m1 0h7m4 0h5m8 0h4m9 0h2m4 0h3m5 0h3m18 0h1m17 0h2m6 0h4m2 0h3m10 0h2m1 0h1m2 0h1m26 0h2m37 0h1m7 0h2m-432 1h2m4 0h2m5 0h3m1 0h2m3 0h1m5 0h2m1 0h1m2 0h3m1 0h19m1 0h3m1 0h2m1 0h4m3 0h1m1 0h3m1 0h1m1 0h4m1 0h11m1 0h8m1 0h6m2 0h3m4 0h2m1 0h1m2 0h6m1 0h2m1 0h2m5 0h2m4 0h3m1 0h2m7 0h2m4 0h5m3 0h4m2 0h3m1 0h11m1 0h11m7 0h3m3 0h4m7 0h5m2 0h5m2 0h3m6 0h1m6 0h2m13 0h2m3 0h1m7 0h2m4 0h2m5 0h1m4 0h2m21 0h2m3 0h2m2 0h1m15 0h2m70 0h2m-438 1h1m6 0h1m5 0h1m4 0h1m2 0h1m1 0h2m1 0h1m3 0h2m1 0h2m6 0h5m3 0h2m1 0h3m1 0h3m1 0h3m1 0h10m2 0h1m1 0h5m1 0h6m2 0h2m1 0h1m1 0h4m1 0h17m1 0h4m4 0h1m5 0h2m3 0h5m10 0h2m1 0h3m7 0h1m1 0h3m3 0h2m1 0h3m1 0h1m1 0h1m1 0h5m3 0h5m1 0h3m1 0h2m1 0h11m1 0h2m1 0h4m2 0h1m1 0h2m1 0h2m3 0h2m1 0h2m1 0h1m2 0h3m1 0h3m1 0h2m1 0h2m13 0h2m6 0h2m7 0h1m1 0h2m4 0h2m4 0h2m8 0h2m16 0h2m14 0h1m11 0h3m1 0h2m1 0h1m40 0h2m25 0h2m-433 1h1m2 0h2m2 0h1m1 0h1m2 0h2m6 0h1m1 0h1m1 0h1m1 0h1m1 0h2m1 0h1m6 0h2m1 0h1m3 0h5m1 0h4m1 0h3m3 0h4m2 0h13m2 0h2m2 0h3m2 0h16m2 0h2m1 0h2m1 0h3m1 0h2m3 0h8m2 0h5m4 0h2m1 0h1m1 0h3m1 0h2m1 0h2m5 0h2m4 0h1m1 0h3m1 0h2m2 0h11m1 0h2m1 0h2m1 0h3m1 0h10m1 0h2m2 0h10m3 0h1m1 0h5m1 0h4m1 0h3m2 0h2m2 0h1m2 0h2m3 0h4m17 0h2m6 0h2m4 0h2m2 0h2m10 0h2m15 0h3m17 0h2m8 0h2m4 0h1m9 0h2m29 0h2m35 0h2m-439 1h1m2 0h2m2 0h2m4 0h1m2 0h2m2 0h2m3 0h2m1 0h1m4 0h3m1 0h3m1 0h2m1 0h12m2 0h5m1 0h10m1 0h1m1 0h1m1 0h2m2 0h1m1 0h2m1 0h9m1 0h6m2 0h3m1 0h1m1 0h15m1 0h6m3 0h1m2 0h1m2 0h1m1 0h6m1 0h4m2 0h2m1 0h2m2 0h5m5 0h1m2 0h9m2 0h3m2 0h4m1 0h1m1 0h3m3 0h3m1 0h2m1 0h2m2 0h7m3 0h4m2 0h3m1 0h3m1 0h5m2 0h1m5 0h5m11 0h3m2 0h2m8 0h2m6 0h2m4 0h2m25 0h2m7 0h2m5 0h4m19 0h1m10 0h2m26 0h2m-412 1h1m13 0h1m3 0h1m2 0h2m2 0h2m1 0h1m1 0h4m4 0h2m1 0h3m2 0h2m1 0h2m3 0h5m2 0h15m1 0h2m1 0h1m2 0h1m2 0h3m1 0h8m1 0h3m2 0h4m2 0h4m1 0h9m2 0h2m1 0h10m1 0h3m1 0h2m1 0h7m2 0h2m3 0h4m2 0h2m1 0h5m4 0h23m5 0h10m1 0h1m1 0h3m2 0h5m2 0h3m1 0h6m2 0h2m1 0h5m2 0h1m19 0h5m8 0h3m1 0h2m8 0h2m5 0h2m1 0h1m8 0h2m10 0h2m2 0h2m3 0h2m1 0h1m3 0h1m13 0h1m19 0h2m21 0h2m3 0h2m13 0h1m-421 1h1m4 0h1m3 0h2m3 0h5m2 0h2m1 0h2m1 0h2m3 0h2m1 0h8m1 0h2m3 0h3m1 0h1m1 0h19m2 0h1m1 0h1m3 0h1m1 0h7m1 0h15m1 0h6m1 0h4m4 0h7m1 0h3m3 0h4m1 0h4m2 0h4m2 0h25m1 0h4m1 0h3m3 0h13m2 0h4m1 0h7m1 0h2m2 0h1m1 0h13m1 0h2m1 0h2m1 0h1m4 0h1m1 0h1m3 0h1m6 0h3m3 0h1m3 0h4m5 0h5m1 0h3m5 0h4m3 0h2m1 0h1m8 0h2m14 0h2m6 0h1m15 0h3m42 0h2m2 0h1m1 0h2m12 0h1m18 0h2m8 0h1m-447 1h1m5 0h2m2 0h1m1 0h2m2 0h1m2 0h1m1 0h1m3 0h1m1 0h2m1 0h1m2 0h6m3 0h1m1 0h2m1 0h3m1 0h1m1 0h8m1 0h8m3 0h5m1 0h3m1 0h1m2 0h7m1 0h3m1 0h1m1 0h7m2 0h7m2 0h7m1 0h4m5 0h2m1 0h10m1 0h1m2 0h26m1 0h1m1 0h5m2 0h2m1 0h18m1 0h5m1 0h6m1 0h21m2 0h8m3 0h2m1 0h1m3 0h1m4 0h5m8 0h2m4 0h2m12 0h1m2 0h2m1 0h2m1 0h2m4 0h2m16 0h1m8 0h1m1 0h1m5 0h2m12 0h1m12 0h2m7 0h2m11 0h1m34 0h2m5 0h2m1 0h1m3 0h2m1 0h3m-456 1h1m9 0h1m2 0h1m3 0h2m2 0h2m4 0h1m2 0h1m2 0h6m1 0h1m1 0h1m1 0h2m3 0h1m1 0h1m4 0h3m1 0h1m4 0h2m1 0h3m2 0h4m1 0h2m1 0h1m1 0h1m1 0h3m1 0h4m1 0h2m2 0h9m3 0h10m2 0h15m1 0h6m1 0h13m1 0h7m1 0h11m2 0h5m3 0h8m2 0h4m2 0h2m1 0h3m1 0h4m1 0h1m1 0h8m1 0h1m1 0h5m1 0h10m1 0h5m1 0h2m3 0h2m1 0h2m2 0h1m5 0h1m2 0h1m3 0h2m1 0h1m17 0h2m1 0h1m3 0h3m3 0h3m3 0h2m16 0h1m3 0h2m3 0h1m1 0h1m5 0h1m3 0h1m18 0h1m8 0h1m3 0h3m8 0h2m15 0h1m9 0h2m12 0h2m1 0h3m7 0h3m-450 1h1m1 0h1m1 0h1m7 0h1m1 0h2m3 0h1m1 0h2m1 0h2m2 0h1m2 0h4m1 0h1m1 0h1m3 0h4m5 0h2m1 0h2m4 0h1m2 0h1m2 0h5m2 0h1m1 0h2m1 0h18m1 0h5m2 0h7m1 0h4m1 0h7m1 0h8m2 0h1m1 0h10m1 0h4m1 0h22m2 0h3m1 0h3m2 0h3m2 0h1m1 0h2m1 0h1m2 0h14m1 0h1m1 0h31m6 0h9m2 0h2m2 0h2m1 0h2m1 0h3m5 0h3m5 0h3m1 0h2m9 0h5m1 0h1m8 0h1m4 0h1m1 0h1m5 0h2m9 0h1m5 0h1m1 0h2m3 0h2m10 0h1m14 0h1m8 0h2m7 0h2m6 0h1m9 0h2m4 0h2m1 0h1m1 0h2m2 0h1m3 0h1m-438 1h1m7 0h1m4 0h1m5 0h1m1 0h2m3 0h1m1 0h2m1 0h2m2 0h1m7 0h1m4 0h4m4 0h1m1 0h1m2 0h6m3 0h5m2 0h3m1 0h3m1 0h1m1 0h2m1 0h1m1 0h2m1 0h6m1 0h3m1 0h2m2 0h11m2 0h9m1 0h9m1 0h2m1 0h19m1 0h7m1 0h8m2 0h2m1 0h6m2 0h1m1 0h4m1 0h4m1 0h3m2 0h1m1 0h13m1 0h3m1 0h10m1 0h3m2 0h3m2 0h6m1 0h3m3 0h2m5 0h1m2 0h1m2 0h4m1 0h2m1 0h4m1 0h1m7 0h5m1 0h2m1 0h4m5 0h1m4 0h1m2 0h3m13 0h1m4 0h1m2 0h4m23 0h4m2 0h1m16 0h2m2 0h1m19 0h2m1 0h1m5 0h1m-441 1h1m7 0h1m5 0h1m2 0h1m6 0h1m6 0h1m4 0h1m1 0h2m2 0h2m1 0h2m3 0h2m3 0h2m6 0h1m4 0h6m1 0h1m1 0h5m1 0h5m1 0h1m4 0h7m1 0h6m1 0h3m1 0h3m1 0h10m1 0h1m1 0h2m1 0h11m1 0h7m1 0h8m1 0h2m1 0h6m1 0h1m1 0h10m1 0h5m1 0h1m1 0h4m1 0h3m3 0h2m1 0h1m1 0h2m2 0h1m1 0h13m1 0h5m2 0h21m1 0h3m3 0h3m1 0h1m3 0h12m1 0h15m2 0h3m3 0h3m5 0h5m1 0h2m3 0h1m1 0h1m3 0h3m13 0h1m6 0h1m2 0h2m4 0h2m17 0h4m8 0h3m2 0h2m8 0h2m30 0h3m-434 1h1m12 0h1m1 0h1m8 0h1m2 0h1m4 0h4m1 0h2m5 0h1m2 0h1m2 0h4m3 0h1m1 0h1m2 0h1m1 0h1m1 0h4m1 0h1m1 0h3m1 0h11m1 0h2m1 0h3m1 0h2m1 0h5m1 0h1m1 0h8m4 0h1m2 0h10m4 0h1m2 0h5m1 0h4m2 0h8m4 0h3m3 0h3m1 0h1m1 0h1m1 0h1m1 0h4m1 0h1m1 0h2m1 0h1m2 0h1m4 0h3m3 0h1m1 0h11m1 0h7m1 0h10m1 0h2m1 0h9m1 0h10m1 0h3m3 0h15m1 0h4m1 0h2m2 0h12m4 0h2m1 0h2m2 0h1m8 0h1m2 0h1m6 0h1m10 0h2m5 0h6m7 0h1m9 0h2m6 0h5m1 0h1m1 0h2m8 0h1m4 0h1m20 0h2m-415 1h1m19 0h2m2 0h2m8 0h1m1 0h2m1 0h1m5 0h2m2 0h1m1 0h2m2 0h1m2 0h2m1 0h4m1 0h2m2 0h2m1 0h2m1 0h1m2 0h3m4 0h1m1 0h2m1 0h1m4 0h1m3 0h1m1 0h1m1 0h1m4 0h1m3 0h1m1 0h1m1 0h2m3 0h2m2 0h1m1 0h2m2 0h3m3 0h5m3 0h2m2 0h1m1 0h1m1 0h3m6 0h5m1 0h2m2 0h2m1 0h2m1 0h1m3 0h1m2 0h1m2 0h1m3 0h2m1 0h4m3 0h4m2 0h2m1 0h4m1 0h33m1 0h18m1 0h1m5 0h6m1 0h7m1 0h5m1 0h2m2 0h2m2 0h1m5 0h1m1 0h1m2 0h2m2 0h3m4 0h2m2 0h2m3 0h4m1 0h5m3 0h2m4 0h3m3 0h2m7 0h4m1 0h5m7 0h1m1 0h6m2 0h2m3 0h1m3 0h1m6 0h2m5 0h2m8 0h2m-415 1h1m8 0h1m4 0h1m2 0h1m2 0h1m7 0h2m2 0h1m1 0h1m14 0h3m1 0h1m1 0h1m6 0h2m1 0h1m2 0h2m3 0h1m2 0h1m2 0h2m6 0h2m1 0h2m2 0h4m2 0h1m1 0h1m1 0h3m1 0h2m1 0h2m1 0h3m7 0h2m1 0h2m1 0h3m1 0h1m1 0h2m2 0h2m2 0h2m3 0h1m1 0h1m7 0h1m5 0h2m2 0h1m2 0h4m1 0h1m1 0h1m1 0h3m1 0h1m2 0h2m1 0h4m1 0h2m2 0h21m1 0h8m1 0h7m1 0h2m2 0h2m2 0h9m2 0h12m3 0h3m1 0h4m3 0h3m1 0h3m1 0h2m2 0h5m1 0h6m1 0h2m1 0h6m1 0h5m1 0h1m1 0h4m1 0h2m5 0h2m1 0h2m5 0h3m2 0h1m1 0h1m2 0h4m5 0h2m2 0h6m1 0h2m3 0h2m2 0h2m5 0h2m7 0h1m4 0h2m5 0h1m-380 1h1m4 0h1m11 0h1m10 0h2m1 0h2m2 0h1m2 0h1m3 0h2m13 0h2m1 0h1m1 0h1m5 0h1m8 0h1m1 0h2m2 0h1m1 0h1m3 0h3m2 0h1m5 0h1m2 0h1m3 0h2m7 0h1m11 0h1m3 0h1m1 0h2m2 0h1m2 0h2m2 0h1m4 0h1m1 0h3m2 0h1m1 0h1m1 0h1m2 0h1m1 0h10m1 0h1m1 0h2m1 0h6m2 0h1m1 0h7m1 0h1m1 0h2m2 0h2m1 0h17m1 0h8m3 0h4m1 0h7m1 0h7m1 0h13m1 0h14m1 0h8m3 0h2m2 0h6m1 0h3m1 0h4m1 0h25m2 0h3m1 0h2m1 0h1m2 0h4m5 0h3m2 0h5m4 0h1m-345 1h1m17 0h1m6 0h1m5 0h1m9 0h1m6 0h1m9 0h1m2 0h1m7 0h1m17 0h1m1 0h1m10 0h1m5 0h1m6 0h2m3 0h2m1 0h1m4 0h1m2 0h1m3 0h3m1 0h4m3 0h1m1 0h2m1 0h1m4 0h2m1 0h1m1 0h2m1 0h2m1 0h1m2 0h2m1 0h1m1 0h9m1 0h1m1 0h3m1 0h1m1 0h5m1 0h3m2 0h1m1 0h3m2 0h6m1 0h1m3 0h3m1 0h13m1 0h7m1 0h7m1 0h4m1 0h2m3 0h3m1 0h2m1 0h1m1 0h10m1 0h2m1 0h14m2 0h1m2 0h4m1 0h3m1 0h1m4 0h4m3 0h4m1 0h2m1 0h5m1 0h3"/>
<path stroke="#0000f4" d="M0 .5m101 89h1m0 6h1m-2 58h1m-1 1h1m-1 39h1m315 7h1m-73 15h2m-246 1h1m243 0h2m69 27h1m-1 1h1m-314 3h2m296 5h2m-301 1h1m2 0h2m-5 1h1m-2 10h1m-1 1h1m-1 8h1m-1 1h1m0 2h1m2 0h1m-2 2h1m-2 1h1m-3 3h1m-1 1h1m254 2h2m4 0h2m-263 3h1m4 2h2m274 0h2m-278 1h3m273 0h2m-276 1h1m-7 2h1m256 0h2m-16 1h2m12 0h2m-16 1h2m-246 2h1m2 0h3m-2 2h2m-6 1h1m-1 1h3m1 0h1m236 0h2m-1 1h1m-240 1h1m227 0h2m-231 1h2m204 0h2m-207 1h1m4 0h1m199 0h2m26 0h1m-229 1h1m226 0h2m-237 2h2m-1 1h1m209 0h1m26 0h1m-233 2h2m3 0h1m225 0h1m-232 1h2m-1 1h1m221 0h2m2 0h1m-228 1h2m219 0h1m1 0h1m3 0h1m-209 1h1m201 0h1m1 0h1m-230 1h1m4 0h1m1 0h1m16 0h2m-25 1h1m221 0h2m5 0h1m1 0h1m-233 1h1m227 0h1m6 0h1m-14 1h1m4 0h2m1 0h1m-231 1h1m220 0h2m5 0h1m3 0h1m-233 1h1m227 0h2m1 0h2m-217 1h1m207 0h1m3 0h2m1 0h1m1 0h1m-10 1h1m-222 1h1m151 0h2m65 0h1m7 0h1m23 0h1m-250 1h1m11 0h1m137 0h2m65 0h1m2 0h2m27 0h1m-251 2h2m237 0h2m-241 1h2m219 0h1m5 1h1m-232 1h1m1 0h1m44 0h1m-47 1h2m1 0h2m1 0h2m38 0h1m-44 1h2m43 0h1m-2 1h2m-49 1h1m-1 1h2m3 0h1m205 0h1m-212 1h1m1 0h4m-7 1h1m163 0h2m-166 1h1m1 0h1m161 0h2m-164 1h1m7 0h1m215 0h2m-228 2h1m-1 1h2m-2 1h1m5 0h1m-1 1h1m-5 1h1m2 0h1m-4 1h1m2 0h1m-5 1h2m-2 1h1m14 2h1m161 0h2m-164 1h1m161 0h2m6 0h1m-1 1h1m-187 1h1m1 0h1m26 0h2m173 0h3m-207 1h1m1 0h2m202 0h1m22 0h1m-228 1h2m225 0h1m-230 1h1m-1 1h1m2 0h2m-3 1h1m26 1h1m-25 1h1m11 0h2m28 0h1m-31 1h2m27 0h2m-47 1h1m-2 1h1m2 1h1m1 1h2m2 0h2m-11 1h2m8 0h1m-11 1h2m20 0h1m-22 1h1m20 0h1m-20 1h1m156 0h2m-162 1h1m2 0h1m-3 1h3m-2 1h1m-1 1h1m158 0h2m-157 1h1m154 0h2m-159 1h1m1 0h1m0 1h1m-5 1h1m2 0h2m2 1h1m154 0h2m-163 1h1m5 0h1m7 0h2m146 0h1m-167 1h1m1 0h1m1 0h1m-5 1h1m2 0h2m17 1h1m-2 1h2m-22 1h1m2 0h1m42 0h1m1 0h1m-49 1h1m2 0h1m2 0h1m39 0h1m1 0h2m108 0h1m4 0h1m7 0h1m-173 1h4m46 0h1m113 0h1m7 0h1m-173 1h1m27 0h1m19 0h1m-47 2h1m-2 1h1m46 0h1m-49 1h1m47 0h1m-45 1h2m18 0h1m10 0h3m108 0h1m-146 1h1m144 0h1m-146 1h1m-2 1h1m-1 1h1m155 0h1m-156 1h1m4 0h1m38 0h2m115 0h2m-161 1h1m45 0h1m-47 1h1m1 0h2m42 0h1m91 0h1m-9 1h2m-1 1h1m7 0h2m-138 1h1m41 0h1m91 0h2m-136 1h1m38 0h2m93 0h2m-142 1h2m43 0h2m70 0h2m31 0h2m-149 2h1m42 0h1m-1 1h1m14 0h2m172 0h2m-237 1h1m25 0h1m34 0h2m172 0h2m-233 1h2m20 0h1m114 0h1m5 0h2m-149 1h1m2 0h3m135 0h1m-139 1h2m1 0h1m39 0h1m75 0h2m5 0h2m5 0h2m-136 1h1m3 0h1m122 0h2m1 0h1m3 0h2m-137 1h1m2 0h1m127 0h1m96 0h1m-229 1h1m2 0h1m32 0h1m9 0h2m99 0h1m80 0h1m-230 1h2m131 0h1m3 0h1m104 0h2m-242 2h1m11 0h2m109 0h2m-113 1h2m6 0h2m80 0h2m10 0h1m8 0h2m-123 1h1m17 0h2m91 0h2m7 0h1m-122 1h1m110 0h2m3 0h1m6 0h2m7 0h1m-135 1h1m1 0h1m110 0h3m7 0h1m10 0h1m-12 1h1m-115 1h1m112 0h2m-125 1h1m23 0h1m38 0h1m51 0h3m-118 1h1m62 0h1m-61 1h1m60 0h1m47 0h1m1 0h1m4 0h1m-118 1h2m112 0h3m-119 1h4m44 0h1m44 0h2m15 0h1m2 0h1m2 0h3m6 0h2m-127 1h1m1 0h1m45 0h1m45 0h1m4 0h2m9 0h1m5 0h1m5 0h1m-78 1h3m1 0h1m47 0h1m1 0h2m9 0h1m3 0h1m5 0h1m-99 1h2m1 0h2m55 0h2m13 0h1m8 0h1m3 0h1m10 0h1m7 0h1m-95 1h1m47 0h1m11 0h1m12 0h3m2 0h1m7 0h1m-118 1h1m30 0h1m70 0h1m2 0h1m2 0h2m7 0h1m-118 1h1m42 0h1m16 0h2m39 0h2m2 0h1m1 0h1m4 0h1m6 0h1m-122 1h1m8 0h1m11 0h1m22 0h2m26 0h2m29 0h1m9 0h1m20 0h2m-136 1h2m6 0h1m12 0h1m14 0h1m7 0h2m26 0h2m25 0h1m3 0h2m1 0h1m6 0h1m-113 1h1m6 0h1m27 0h1m52 0h1m1 0h3m4 0h2m3 0h1m1 0h1m7 0h1m-116 1h1m2 0h2m77 0h2m11 0h1m2 0h1m1 0h1m4 0h1m1 0h1m3 0h1m-112 1h1m4 0h1m22 0h2m30 0h1m45 0h1m7 0h1m1 0h1m-112 1h1m54 0h1m2 0h2m15 0h1m27 0h2m18 0h2m4 0h1m-132 1h1m44 0h1m8 0h1m2 0h1m2 0h2m9 0h2m38 0h2m-116 1h2m45 0h2m7 0h2m11 0h1m4 0h2m19 0h1m7 0h1m10 0h2m2 0h2m-120 1h2m31 0h2m34 0h1m25 0h1m8 0h1m14 0h1m-118 1h4m19 0h2m7 0h2m62 0h2m-99 1h2m21 0h1m9 0h2m13 0h1m11 0h1m9 0h1m12 0h1m3 0h1m9 0h3m14 0h1m4 0h2m7 0h1m-130 1h2m2 0h1m19 0h1m2 0h2m32 0h1m31 0h1m2 0h1m1 0h3m13 0h2m12 0h2m-130 1h2m2 0h2m24 0h2m44 0h2m15 0h2m1 0h1m12 0h1m1 0h1m1 0h1m-91 1h2m65 0h1m2 0h1m1 0h2m4 0h1m3 0h1m2 0h2m3 0h1m1 0h1m1 0h1m1 0h3m-93 1h1m18 0h1m38 0h1m2 0h4m7 0h1m3 0h1m9 0h1m4 0h1m-118 1h1m23 0h1m17 0h1m1 0h1m24 0h1m10 0h1m2 0h2m3 0h2m4 0h2m12 0h2m-111 1h1m23 0h3m32 0h1m19 0h1m9 0h3m1 0h1m1 0h1m1 0h1m5 0h1m-106 1h1m3 0h1m55 0h2m19 0h1m1 0h1m6 0h1m1 0h1m1 0h2m2 0h2m5 0h3m6 0h1m-110 1h1m60 0h2m9 0h1m2 0h4m7 0h1m2 0h1m3 0h2m3 0h1m1 0h1m-102 1h2m3 0h2m5 0h1m29 0h1m1 0h2m37 0h1m5 0h2m1 0h1m1 0h1m3 0h1m-100 1h1m1 0h1m10 0h1m6 0h1m24 0h2m17 0h2m9 0h1m7 0h2m1 0h1m1 0h1m4 0h1m2 0h5m-100 1h1m23 0h1m18 0h2m26 0h1m10 0h2m8 0h1m5 0h2m8 0h1m-113 1h1m22 0h2m18 0h2m14 0h2m20 0h1m1 0h1m4 0h1m-88 1h2m21 0h1m19 0h2m12 0h2m3 0h1m1 0h4m5 0h2m4 0h1m2 0h1m1 0h2m4 0h1m2 0h1m-95 1h3m1 0h1m1 0h1m17 0h1m20 0h3m10 0h1m2 0h1m5 0h3m4 0h2m2 0h1m1 0h1m4 0h1m8 0h1m1 0h3m2 0h2m1 0h1m1 0h1m-107 1h1m2 0h1m2 0h1m17 0h1m11 0h1m6 0h2m1 0h1m1 0h1m18 0h2m4 0h1m4 0h1m4 0h2m2 0h1m3 0h1m1 0h1m2 0h2m4 0h1m-83 1h1m2 0h2m11 0h1m6 0h2m18 0h2m3 0h1m4 0h1m8 0h2m3 0h1m12 0h2m-92 1h1m9 0h1m8 0h1m28 0h1m12 0h1m1 0h2m4 0h1m1 0h1m4 0h2m7 0h1m2 0h1m19 0h1m-112 1h2m9 0h2m36 0h1m1 0h1m8 0h1m1 0h3m2 0h2m3 0h1m4 0h4m7 0h2m1 0h1m-96 1h1m3 0h2m37 0h1m2 0h1m17 0h1m12 0h1m11 0h1m1 0h1m1 0h1m-94 1h1m1 0h1m2 0h1m1 0h2m11 0h1m22 0h3m8 0h1m5 0h1m1 0h2m5 0h1m8 0h1m4 0h1m11 0h1m8 0h2m-106 1h2m5 0h2m16 0h1m26 0h2m5 0h2m1 0h1m6 0h1m15 0h2m8 0h1m8 0h2m-105 1h1m23 0h1m1 0h1m3 0h1m13 0h1m6 0h1m6 0h1m1 0h2m3 0h2m2 0h2m9 0h1m3 0h2m1 0h2m103 0h2m-168 1h1m12 0h2m24 0h2m1 0h1m1 0h3m2 0h1m5 0h1m6 0h1m103 0h2m-193 1h1m1 0h2m16 0h1m2 0h1m4 0h1m14 0h1m8 0h1m1 0h2m1 0h1m3 0h2m1 0h2m9 0h1m1 0h1m1 0h1m-81 1h2m2 0h1m12 0h2m5 0h1m3 0h2m2 0h1m11 0h1m7 0h2m3 0h2m1 0h2m1 0h1m1 0h1m1 0h1m2 0h1m1 0h1m4 0h1m10 0h1m-92 1h1m1 0h1m6 0h1m1 0h1m9 0h1m3 0h3m14 0h2m1 0h2m11 0h1m1 0h1m2 0h2m2 0h1m1 0h2m1 0h1m2 0h1m5 0h1m2 0h2m-83 1h1m5 0h1m32 0h1m1 0h1m1 0h1m12 0h2m4 0h1m1 0h1m4 0h2m1 0h1m8 0h2m-82 1h2m22 0h1m15 0h1m2 0h4m8 0h2m4 0h2m5 0h3m2 0h3m5 0h3m-86 1h1m4 0h2m5 0h1m11 0h1m20 0h1m1 0h2m6 0h1m2 0h1m1 0h2m13 0h1m4 0h2m3 0h2m7 0h1m-97 1h1m1 0h1m4 0h1m6 0h1m37 0h2m6 0h1m2 0h1m10 0h1m7 0h2m4 0h1m-87 1h1m34 0h1m4 0h1m14 0h2m5 0h1m2 0h1m1 0h1m2 0h1m1 0h1m8 0h1m3 0h1m-88 1h1m15 0h1m2 0h1m6 0h1m1 0h1m5 0h1m7 0h1m8 0h1m6 0h1m2 0h1m3 0h1m1 0h1m1 0h1m2 0h1m1 0h1m4 0h2m-79 1h1m6 0h1m17 0h1m1 0h1m12 0h1m2 0h1m1 0h1m3 0h1m6 0h1m6 0h1m7 0h1m5 0h1m3 0h1m1 0h1m-82 1h1m4 0h1m16 0h3m11 0h3m3 0h1m11 0h1m5 0h1m3 0h2m2 0h1m5 0h2m3 0h1m1 0h1m6 0h1m-85 1h1m17 0h1m26 0h1m4 0h1m5 0h1m2 0h4m1 0h1m2 0h1m3 0h3m-79 1h1m3 0h1m6 0h1m4 0h1m6 0h1m13 0h2m15 0h1m7 0h1m2 0h3m3 0h2m4 0h3m-79 1h1m9 0h1m9 0h4m13 0h1m5 0h1m3 0h1m5 0h1m5 0h1m1 0h2m1 0h1m3 0h3m6 0h1m5 0h2m-65 1h4m18 0h1m4 0h2m11 0h1m3 0h2m2 0h3m-70 1h1m1 0h1m2 0h1m14 0h1m14 0h1m13 0h1m6 0h1m2 0h1m3 0h1m1 0h3m-71 1h1m6 0h2m2 0h1m10 0h2m5 0h1m4 0h1m2 0h1m4 0h1m2 0h2m5 0h1m4 0h1m3 0h2m5 0h1m1 0h1m16 0h1m1 0h1m-89 1h1m15 0h1m6 0h1m9 0h1m2 0h1m7 0h1m3 0h1m7 0h1m2 0h4m11 0h2m-74 1h1m17 0h4m4 0h2m4 0h1m2 0h1m3 0h1m1 0h3m1 0h1m5 0h1m6 0h3m1 0h1m23 0h1m-82 1h1m6 0h2m3 0h1m1 0h1m7 0h1m5 0h1m2 0h1m1 0h1m2 0h1m8 0h1m3 0h1m2 0h1m1 0h2m1 0h1m10 0h1m-75 1h1m5 0h1m1 0h1m5 0h3m5 0h1m13 0h1m5 0h2m1 0h1m9 0h1m5 0h1m8 0h1m3 0h1m-75 1h2m4 0h1m2 0h2m4 0h1m20 0h1m1 0h2m2 0h3m8 0h1m1 0h1m44 0h1m-98 1h1m1 0h1m1 0h1m1 0h2m26 0h2m3 0h1m7 0h1m6 0h1m5 0h2m31 0h1m2 0h2m-104 1h1m9 0h1m1 0h1m3 0h1m6 0h2m15 0h2m1 0h1m12 0h1m6 0h1m1 0h1m1 0h2m4 0h1m-74 1h1m4 0h1m1 0h1m7 0h2m1 0h1m2 0h1m10 0h1m6 0h2m7 0h1m3 0h1m1 0h1m13 0h1m4 0h1m10 0h1m2 0h1m-84 1h1m3 0h2m3 0h4m13 0h3m1 0h1m6 0h1m10 0h2m4 0h1m8 0h2m12 0h2m4 0h1m-84 1h1m15 0h1m6 0h2m5 0h1m3 0h2m17 0h2m4 0h1m4 0h1m13 0h2m6 0h1m-88 1h1m2 0h1m21 0h1m23 0h1m7 0h1m23 0h2m17 0h2m-102 1h1m2 0h3m1 0h1m2 0h1m4 0h2m10 0h1m17 0h1m3 0h2m2 0h1m4 0h1m41 0h2m-103 1h1m1 0h1m1 0h2m2 0h1m16 0h1m1 0h3m16 0h1m3 0h2m-50 1h1m4 0h1m3 0h1m1 0h1m6 0h1m1 0h2m2 0h1m1 0h1m12 0h1m2 0h3m10 0h2m22 0h1m-72 1h1m10 0h2m10 0h1m8 0h1m2 0h2m2 0h1m1 0h1m5 0h2m2 0h1m-60 1h1m1 0h1m2 0h1m2 0h1m9 0h1m2 0h1m22 0h1m1 0h3m9 0h2m25 0h1m161 0h1m-243 1h1m2 0h1m4 0h2m1 0h3m2 0h1m2 0h1m16 0h1m2 0h1m3 0h1m3 0h1m4 0h1m7 0h1m-61 1h1m3 0h1m7 0h2m1 0h2m14 0h1m5 0h2m5 0h1m3 0h1m-53 1h3m3 0h1m1 0h2m7 0h1m1 0h1m24 0h1m3 0h2m149 0h2m-201 1h3m11 0h1m3 0h2m16 0h1m1 0h1m10 0h1m5 0h1m12 0h1m-71 1h1m1 0h3m1 0h1m10 0h2m2 0h1m1 0h1m10 0h1m6 0h1m3 0h1m8 0h1m2 0h2m5 0h2m11 0h1m1 0h2m-79 1h2m2 0h2m3 0h1m4 0h1m1 0h1m2 0h3m11 0h3m5 0h2m2 0h1m5 0h2m3 0h2m5 0h1m6 0h1m21 0h2m-92 1h1m2 0h1m3 0h1m6 0h1m14 0h1m4 0h1m19 0h2m24 0h3m8 0h1m84 0h2m-178 1h2m2 0h2m4 0h2m1 0h1m2 0h2m10 0h1m1 0h1m13 0h1m8 0h2m6 0h1m22 0h1m-82 1h1m3 0h1m3 0h1m1 0h1m2 0h1m10 0h1m16 0h1m8 0h2m1 0h1m3 0h1m14 0h1m6 0h1m50 0h2m-132 1h1m7 0h2m12 0h1m1 0h1m1 0h4m1 0h1m3 0h1m5 0h1m8 0h1m3 0h1m16 0h2m25 0h2m7 0h1m22 0h2m102 0h1m-241 1h1m1 0h1m1 0h3m3 0h1m22 0h2m2 0h1m2 0h2m1 0h1m7 0h1m2 0h1m8 0h2m2 0h1m3 0h1m5 0h1m26 0h2m135 0h1m-240 1h1m1 0h1m8 0h1m1 0h1m14 0h2m1 0h1m4 0h1m1 0h1m2 0h1m7 0h1m11 0h1m3 0h1m9 0h1m180 0h1m-258 1h1m7 0h1m17 0h2m6 0h2m1 0h3m4 0h1m14 0h1m2 0h2m5 0h2m171 0h2m-244 1h3m1 0h1m3 0h1m15 0h2m2 0h1m1 0h2m11 0h1m15 0h1m1 0h2m7 0h1m8 0h1m50 0h2m22 0h2m86 0h2m-219 1h3m2 0h2m6 0h1m4 0h1m1 0h1m11 0h2m2 0h1m2 0h1m28 0h2m35 0h2m-132 1h1m23 0h1m2 0h1m7 0h2m1 0h1m2 0h1m1 0h2m7 0h1m6 0h1m1 0h1m1 0h2m12 0h1m11 0h1m3 0h2m35 0h2m28 0h1m31 0h1m49 0h2m-236 1h1m11 0h1m2 0h1m5 0h1m4 0h2m2 0h1m5 0h3m2 0h1m1 0h1m1 0h1m5 0h1m2 0h3m27 0h1m135 0h1m13 0h2m-242 1h1m20 0h1m2 0h2m1 0h1m2 0h1m3 0h1m2 0h2m3 0h3m2 0h1m13 0h2m1 0h1m2 0h1m18 0h1m39 0h2m79 0h1m-189 1h1m1 0h1m1 0h1m2 0h2m9 0h2m2 0h1m1 0h1m4 0h1m4 0h1m10 0h1m2 0h1m3 0h1m14 0h1m7 0h1m31 0h2m21 0h1m69 0h2m26 0h1m-243 1h1m13 0h1m1 0h1m1 0h1m2 0h1m7 0h1m3 0h1m4 0h1m1 0h1m2 0h1m15 0h1m1 0h1m4 0h3m2 0h1m17 0h1m1 0h1m11 0h1m56 0h2m52 0h2m-206 1h1m8 0h2m4 0h2m6 0h1m5 0h2m1 0h1m1 0h1m2 0h1m1 0h1m3 0h2m4 0h1m7 0h2m2 0h1m2 0h1m3 0h2m23 0h1m3 0h1m5 0h1m8 0h1m61 0h2m32 0h1m12 0h3m-221 1h1m5 0h1m2 0h1m10 0h1m3 0h2m1 0h5m2 0h1m1 0h2m3 0h1m19 0h1m3 0h1m2 0h1m4 0h2m13 0h1m11 0h1m8 0h1m60 0h2m42 0h3m1 0h3m3 0h2m5 0h1m3 0h1m-239 1h1m2 0h2m8 0h1m3 0h1m3 0h1m1 0h1m4 0h1m1 0h1m2 0h1m2 0h5m8 0h1m6 0h1m3 0h1m3 0h1m10 0h2m1 0h1m12 0h1m3 0h1m34 0h1m20 0h2m20 0h2m32 0h1m11 0h1m7 0h2m4 0h1m4 0h1m-238 1h1m1 0h1m11 0h1m5 0h2m1 0h1m1 0h1m1 0h1m3 0h1m2 0h1m1 0h4m1 0h1m2 0h1m3 0h1m5 0h1m4 0h1m3 0h3m4 0h2m13 0h1m3 0h2m3 0h1m18 0h1m45 0h1m37 0h1m17 0h1m15 0h2m20 0h1m-255 1h1m1 0h1m3 0h2m2 0h1m3 0h2m2 0h1m1 0h1m6 0h1m3 0h2m3 0h1m1 0h2m5 0h1m3 0h1m15 0h2m5 0h1m10 0h1m1 0h1m1 0h1m2 0h2m1 0h1m12 0h1m53 0h1m19 0h1m15 0h2m9 0h1m6 0h2m9 0h2m7 0h2m36 0h2m-262 1h1m1 0h1m1 0h2m6 0h1m2 0h2m2 0h1m1 0h1m4 0h2m9 0h1m6 0h2m5 0h2m15 0h1m2 0h1m1 0h2m1 0h2m3 0h1m12 0h1m21 0h2m29 0h1m13 0h1m6 0h1m25 0h2m2 0h1m23 0h2m36 0h2m14 0h1m-289 1h1m14 0h2m11 0h2m5 0h1m2 0h2m12 0h1m2 0h3m3 0h1m1 0h1m19 0h2m1 0h1m1 0h3m1 0h1m23 0h1m11 0h2m58 0h1m4 0h1m4 0h2m13 0h2m15 0h2m56 0h1m-291 1h1m3 0h1m1 0h1m9 0h2m1 0h1m2 0h1m5 0h2m1 0h1m5 0h2m7 0h1m6 0h3m1 0h1m6 0h1m10 0h1m8 0h3m5 0h1m3 0h1m1 0h2m7 0h1m3 0h1m10 0h1m8 0h1m15 0h2m15 0h1m27 0h1m8 0h1m2 0h1m18 0h1m-222 1h1m6 0h1m7 0h1m4 0h1m11 0h1m3 0h1m6 0h2m6 0h1m1 0h1m1 0h1m3 0h2m1 0h1m3 0h1m4 0h1m3 0h2m2 0h1m3 0h1m5 0h1m2 0h1m1 0h1m1 0h1m8 0h1m2 0h2m9 0h2m69 0h1m6 0h1m1 0h1m8 0h2m4 0h2m2 0h1m3 0h1m6 0h1m8 0h1m1 0h1m-234 1h2m3 0h1m1 0h1m9 0h2m9 0h2m4 0h1m2 0h2m1 0h1m5 0h1m1 0h1m1 0h3m4 0h3m1 0h1m2 0h1m2 0h4m1 0h2m1 0h2m5 0h2m1 0h1m2 0h1m18 0h1m6 0h1m7 0h1m4 0h1m7 0h1m8 0h2m1 0h1m10 0h1m27 0h2m3 0h1m3 0h2m3 0h2m1 0h1m4 0h2m14 0h1m-224 1h1m12 0h1m3 0h1m3 0h1m2 0h1m3 0h1m6 0h2m2 0h1m5 0h1m2 0h2m2 0h2m2 0h4m4 0h4m1 0h1m2 0h1m7 0h2m14 0h1m4 0h1m4 0h1m6 0h1m3 0h1m2 0h2m11 0h2m9 0h1m12 0h1m19 0h1m7 0h1m8 0h2m2 0h1m7 0h1m1 0h1m9 0h1m3 0h2m15 0h1m85 0h1m-314 1h1m2 0h1m8 0h1m10 0h1m4 0h1m11 0h3m2 0h2m3 0h3m1 0h2m1 0h3m9 0h1m5 0h1m5 0h1m1 0h4m7 0h1m6 0h1m3 0h1m3 0h1m27 0h1m7 0h1m8 0h1m2 0h1m8 0h1m10 0h1m5 0h1m1 0h1m4 0h1m4 0h1m3 0h1m7 0h1m13 0h1m5 0h1m35 0h1m-262 1h1m19 0h1m12 0h1m8 0h1m5 0h1m3 0h1m4 0h3m15 0h1m3 0h1m11 0h1m9 0h1m5 0h1m11 0h3m2 0h1m10 0h4m1 0h1m6 0h1m4 0h2m8 0h1m1 0h1m4 0h3m5 0h1m1 0h1m1 0h1m6 0h1m2 0h1m1 0h1m3 0h3m4 0h2m1 0h1m11 0h1m7 0h1m38 0h2m24 0h2m-283 1h2m6 0h1m4 0h1m9 0h1m23 0h1m22 0h1m3 0h1m2 0h1m2 0h1m8 0h2m4 0h1m1 0h1m6 0h1m3 0h1m1 0h1m1 0h2m1 0h2m2 0h1m1 0h1m2 0h3m3 0h1m1 0h1m2 0h2m3 0h2m6 0h2m3 0h1m2 0h1m1 0h1m6 0h1m1 0h1m8 0h2m5 0h1m2 0h1m5 0h2m2 0h2m2 0h1m4 0h3m4 0h2m2 0h1m4 0h1m86 0h2m-310 1h1m25 0h2m13 0h1m6 0h1m11 0h1m2 0h2m1 0h1m3 0h1m7 0h2m9 0h1m4 0h1m1 0h2m6 0h2m1 0h2m6 0h1m5 0h1m1 0h1m11 0h1m4 0h1m2 0h1m1 0h1m2 0h1m2 0h1m3 0h1m1 0h1m2 0h2m6 0h1m1 0h1m1 0h1m3 0h2m1 0h1m2 0h5m6 0h1m6 0h1m1 0h1m6 0h1m7 0h1m2 0h2m30 0h1m10 0h2m2 0h1m25 0h2m3 0h1m10 0h1m36 0h1m-293 1h1m1 0h1m12 0h1m4 0h1m8 0h1m15 0h1m18 0h1m3 0h2m1 0h1m14 0h2m1 0h1m1 0h2m8 0h3m14 0h1m3 0h1m2 0h1m2 0h3m4 0h2m4 0h1m6 0h1m4 0h1m2 0h1m3 0h2m5 0h2m1 0h1m10 0h1m4 0h1m7 0h1m1 0h1m12 0h2m2 0h1m26 0h2m5 0h1m7 0h1m7 0h1m13 0h1m14 0h1m72 0h2m6 0h2m-311 1h1m14 0h1m6 0h2m19 0h1m13 0h1m3 0h1m10 0h1m1 0h1m10 0h2m4 0h1m4 0h1m3 0h1m2 0h2m1 0h1m1 0h1m3 0h1m4 0h1m3 0h1m2 0h1m1 0h3m3 0h1m9 0h2m2 0h1m1 0h1m11 0h1m5 0h1m5 0h1m3 0h2m1 0h1m3 0h2m6 0h1m1 0h3m3 0h1m13 0h1m24 0h2m6 0h1m15 0h1m17 0h2m4 0h1m6 0h3m5 0h2m4 0h1m2 0h1m5 0h1"/>
<path stroke="#0023ff" d="M0 .5m395 261h2m-22 26h2m-2 1h2m-275 9h1m-1 3h1m-2 8h1m2 2h1m-1 1h1m-2 1h1m-3 2h1m237 3h1m-239 1h1m236 0h2m-236 1h1m-4 1h1m0 1h1m-1 2h1m-1 1h1m2 2h1m-1 1h1m223 0h1m-229 18h2m-2 4h1m-1 1h1m0 2h1m2 1h1m-1 1h1m0 18h1m-3 7h1m-1 1h1m-3 8h1m-1 1h1m-2 4h1m46 6h1m-1 1h1m-44 2h1m-4 2h1m3 1h1m-4 1h1m-3 2h1m3 0h1m-5 2h1m5 0h1m-1 1h1m-6 1h1m0 2h1m-1 1h1m23 0h1m-2 1h2m-27 2h1m130 0h1m-131 1h1m-1 1h1m-2 1h2m2 0h1m-1 1h1m43 1h1m-48 1h1m-1 1h1m121 2h1m-123 1h1m118 1h1m-1 1h1m-121 1h1m27 0h1m-29 1h1m112 0h1m-114 1h1m0 1h1m109 0h1m2 0h1m-112 1h1m-4 1h2m127 0h1m-130 1h2m2 0h1m124 0h1m-130 1h3m1 0h1m-4 1h2m1 1h1m95 1h1m-101 1h1m1 0h1m44 0h1m54 0h1m2 0h2m-6 1h2m4 0h1m-60 1h1m45 2h1m19 0h1m13 0h1m-127 1h1m94 0h1m-92 1h1m-7 1h1m3 0h1m1 0h1m90 0h1m-98 1h1m57 0h1m36 0h1m1 0h2m-11 1h2m3 0h1m0 1h1m3 0h1m-12 1h1m5 0h1m-93 1h1m1 0h1m41 0h2m40 0h1m2 0h1m-1 1h1m-87 1h1m-5 1h2m87 0h1m-87 1h1m81 0h1m1 1h1m-1 1h3m-89 1h1m23 0h1m21 0h1m33 0h2m2 0h2m1 0h1m-85 1h1m20 0h1m21 0h1m31 0h1m1 0h1m2 0h1m10 0h1m-93 1h1m-2 1h1m78 0h2m-82 1h2m76 0h1m2 0h1m-39 1h2m29 0h2m3 0h1m3 0h1m-83 1h1m5 0h1m36 0h1m30 0h2m8 0h1m-86 1h2m2 0h1m2 0h1m67 0h2m3 0h1m-77 1h1m42 0h1m28 0h1m5 0h1m-13 1h2m1 0h1m3 0h1m4 0h1m-82 1h1m43 0h1m5 0h1m17 0h1m6 0h2m4 0h1m3 0h1m3 0h1m-90 1h1m1 0h2m42 0h2m12 0h1m14 0h1m9 0h1m-86 1h1m2 0h1m1 0h1m36 0h1m24 0h2m-67 1h1m65 0h1m5 0h1m-73 1h1m24 0h1m29 0h1m2 0h1m2 0h1m10 0h1m2 0h1m-78 1h1m7 0h1m16 0h1m41 0h1m-68 1h1m7 0h1m16 0h1m18 0h1m1 0h1m20 0h1m7 0h1m-74 1h1m41 0h3m8 0h1m13 0h1m5 0h1m-31 1h1m9 0h1m5 0h1m12 0h1m-74 1h1m56 0h1m3 0h1m1 0h2m8 0h1m-72 1h1m22 0h1m16 0h1m9 0h1m18 0h2m-74 1h1m2 0h1m22 0h1m20 0h1m1 0h1m9 0h1m-60 1h1m1 0h1m39 0h1m4 0h1m1 0h1m7 0h1m1 0h1m-60 1h1m1 0h1m49 0h2m5 0h1m4 0h1m-65 1h1m2 0h1m12 0h1m25 0h1m8 0h1m12 0h1m-63 1h1m12 0h2m42 0h1m-18 1h1m8 0h1m13 0h1m-10 1h1m3 0h2m-60 1h1m1 0h1m19 0h1m21 0h1m43 0h1m-90 1h1m2 0h1m19 0h1m13 0h1m2 0h2m46 0h2m-70 1h1m1 0h1m1 0h2m28 0h1m-52 1h1m16 0h3m2 0h1m15 0h1m12 0h1m33 0h1m-88 1h1m18 0h1m8 0h2m10 0h1m12 0h1m-55 1h2m25 0h1m36 0h1m-64 1h1m4 0h1m14 0h1m16 0h1m10 0h1m5 0h1m-51 1h1m-5 1h1m6 0h1m3 0h1m3 0h1m3 0h2m7 0h2m7 0h1m8 0h1m-40 1h1m12 0h1m12 0h1m3 0h1m-8 1h1m29 0h1m-61 1h1m5 0h1m9 0h2m15 0h2m16 0h1m8 0h1m-45 1h1m11 0h2m4 0h1m8 0h1m10 0h1m-42 1h1m12 0h2m11 0h1m3 0h1m-42 1h1m1 0h1m4 0h1m-9 1h4m1 0h1m1 0h1m15 0h1m-24 1h1m6 0h1m8 0h1m3 0h1m16 0h1m1 0h1m1 0h1m20 0h1m-63 1h2m13 0h1m6 0h1m14 0h1m1 0h1m1 0h2m19 0h1m-62 1h1m11 0h1m1 0h1m6 0h1m10 0h1m5 0h2m3 0h1m-44 1h1m2 0h2m6 0h1m27 0h1m-32 1h1m7 0h1m1 0h3m9 0h1m5 0h1m12 0h1m11 0h1m14 0h2m-60 1h1m13 0h1m3 0h1m24 0h1m-60 1h1m2 0h1m1 0h1m9 0h1m23 0h1m-38 1h2m1 0h1m3 0h1m1 0h1m3 0h1m-11 1h1m3 0h1m1 0h1m2 0h1m11 0h1m10 0h1m9 0h1m-43 1h1m1 0h1m1 0h2m15 0h1m10 0h1m5 0h2m2 0h1m-50 1h1m4 0h2m3 0h3m1 0h1m11 0h1m4 0h2m13 0h1m4 0h1m-45 1h2m3 0h1m1 0h1m31 0h1m-47 1h1m1 0h3m3 0h1m4 0h1m15 0h1m3 0h2m3 0h1m11 0h2m-30 1h2m2 0h2m1 0h1m1 0h1m6 0h1m-37 1h1m2 0h1m16 0h1m6 0h1m8 0h1m31 0h1m-72 1h1m25 0h1m8 0h1m13 0h1m-24 1h1m2 0h1m5 0h1m10 0h1m13 0h1m-35 1h1m6 0h1m7 0h1m4 0h1m13 0h1m-40 1h2m1 0h1m7 0h2m7 0h1m4 0h1m5 0h1m-32 1h1m1 0h2m9 0h4m7 0h1m57 0h1m-80 1h1m1 0h1m1 0h1m2 0h1m2 0h2m1 0h1m1 0h1m5 0h1m14 0h1m5 0h2m35 0h1m-91 1h1m4 0h1m6 0h1m3 0h2m4 0h1m2 0h2m20 0h1m5 0h2m-52 1h2m2 0h1m1 0h1m4 0h1m2 0h1m7 0h1m8 0h1m11 0h2m-45 1h2m1 0h1m4 0h3m1 0h2m2 0h1m5 0h2m19 0h2m2 0h1m3 0h1m6 0h1m171 0h2m-224 1h2m6 0h1m3 0h1m2 0h3m17 0h1m2 0h1m153 0h1m21 0h1m-223 1h1m8 0h3m2 0h1m9 0h1m10 0h1m1 0h1m3 0h1m2 0h1m1 0h1m14 0h1m5 0h1m54 0h1m78 0h1m35 0h1m-231 1h1m6 0h1m4 0h1m7 0h1m1 0h1m4 0h1m6 0h1m2 0h1m16 0h1m5 0h2m1 0h1m5 0h2m9 0h1m113 0h1m-184 1h1m1 0h1m13 0h1m2 0h1m13 0h1m18 0h1m145 0h1m19 0h1m-222 1h3m1 0h1m10 0h1m2 0h2m3 0h1m1 0h1m2 0h1m4 0h1m4 0h1m11 0h1m16 0h1m7 0h1m7 0h2m9 0h1m106 0h1m19 0h1m-226 1h1m13 0h1m11 0h3m3 0h1m4 0h1m1 0h1m2 0h1m6 0h1m9 0h1m5 0h1m6 0h1m6 0h1m52 0h1m1 0h1m2 0h1m68 0h1m9 0h1m-191 1h1m1 0h1m13 0h1m5 0h1m8 0h1m1 0h1m5 0h1m11 0h2m1 0h1m1 0h1m4 0h1m35 0h1m8 0h1m4 0h1m17 0h1m21 0h1m1 0h1m20 0h1m9 0h1m-158 1h1m3 0h1m7 0h1m7 0h1m3 0h2m1 0h1m6 0h1m19 0h1m15 0h1m1 0h1m2 0h1m7 0h1m5 0h1m11 0h1m12 0h1m7 0h1m3 0h1m7 0h2m2 0h1m6 0h1m6 0h1m4 0h1m1 0h1m1 0h2m4 0h1m-183 1h1m16 0h1m7 0h1m1 0h1m5 0h1m6 0h1m8 0h1m6 0h1m12 0h2m2 0h1m6 0h1m6 0h1m2 0h1m7 0h1m2 0h1m10 0h1m3 0h1m2 0h1m6 0h1m1 0h2m1 0h1m24 0h1m5 0h1m2 0h1m10 0h2m1 0h1m5 0h1m7 0h1m1 0h1m-171 1h1m7 0h1m4 0h1m9 0h1m1 0h1m17 0h1m7 0h1m6 0h1m9 0h2m1 0h2m1 0h3m9 0h1m4 0h2m1 0h1m2 0h1m11 0h1m4 0h1m7 0h1m2 0h2m9 0h1m3 0h1m6 0h2m5 0h1m3 0h1m1 0h2m6 0h1m1 0h1m10 0h1m17 0h1m9 0h1m10 0h1m101 0h2m15 0h1m30 0h1m-331 1h1m17 0h1m10 0h1m1 0h2m3 0h1m24 0h1m4 0h1m11 0h1m2 0h1m4 0h1m13 0h1m3 0h1m3 0h1m4 0h1m3 0h1m14 0h2m7 0h1m16 0h2m9 0h1m7 0h1m2 0h1m17 0h1m5 0h1m56 0h1m7 0h1m4 0h1m8 0h1m4 0h1m10 0h1m30 0h1"/>
<path stroke="#004dff" d="M0 .5m326 318h2m-227 5h1m3 0h1m-2 5h1m-1 1h1m-3 27h1m-2 6h1m-1 1h1m-1 2h1m-1 1h1m4 23h1m-5 18h1m0 2h1m-1 1h1m-3 7h2m-1 9h1m109 10h1m-66 4h2m-1 1h1m53 0h1m-4 2h1m-96 1h1m94 0h1m-99 1h1m102 0h1m-104 1h1m96 2h1m2 0h1m-100 1h1m0 1h1m1 0h1m-4 1h1m2 1h1m-5 2h1m0 1h2m95 1h1m-16 1h2m12 0h2m-7 4h1m-15 2h1m9 0h1m-88 1h1m43 0h1m31 0h2m1 0h1m-37 1h2m35 0h1m-80 1h1m2 1h1m40 0h1m33 0h2m-10 1h1m7 0h1m-79 1h1m1 0h1m41 0h1m33 0h1m-81 1h1m1 0h2m69 0h1m3 0h1m-78 1h1m2 0h1m25 0h1m17 0h1m20 0h1m4 0h1m1 0h1m-47 1h1m-27 1h1m-2 1h2m42 0h1m25 0h1m-71 1h1m41 0h1m1 0h1m21 0h1m1 0h1m1 0h2m-70 1h1m39 0h2m16 0h2m2 0h1m1 0h1m1 0h1m1 0h2m-70 1h1m40 0h1m4 0h1m10 0h4m1 0h1m5 0h1m-71 1h1m47 0h1m14 0h1m1 0h1m-64 1h1m59 0h1m2 0h2m-8 1h1m-59 1h1m40 0h1m18 0h2m1 0h1m-64 1h1m58 0h1m-22 1h1m3 0h1m17 0h1m-23 1h1m15 0h1m4 0h2m-39 1h1m26 0h1m3 0h1m4 0h1m-61 1h1m60 0h1m-61 1h1m51 0h1m3 0h1m-59 1h1m4 0h1m40 0h1m12 0h1m-55 1h1m40 0h1m-47 2h1m2 0h1m46 0h2m3 0h1m-52 1h1m36 0h1m3 0h2m3 0h1m3 1h1m11 0h1m-62 1h2m33 0h1m2 0h1m8 0h2m-49 1h1m31 0h1m4 0h1m-20 1h1m25 0h1m1 0h1m-30 1h1m17 0h1m10 0h1m1 0h1m-32 1h1m16 0h2m6 0h1m1 0h1m-29 1h2m24 0h1m1 0h1m-28 1h1m11 0h1m5 0h1m6 0h1m-26 1h1m4 0h1m-23 2h1m15 0h1m9 0h1m11 0h1m2 0h1m-29 1h2m10 0h1m9 0h2m2 0h1m-35 1h1m8 0h1m-1 1h1m3 0h1m16 0h1m-36 2h1m9 0h1m3 0h2m-6 1h1m4 0h1m-15 1h1m5 0h1m2 0h2m19 0h1m18 0h1m-50 1h2m1 0h1m4 0h1m9 0h1m12 0h1m17 0h1m-50 1h3m15 0h1m-18 1h1m6 0h2m20 0h1m1 0h1m-33 1h1m7 0h1m15 0h1m7 0h1m-34 1h1m8 0h1m65 0h1m-69 1h1m6 0h1m10 0h1m2 0h2m1 0h1m2 0h1m-29 1h3m1 0h1m13 0h1m1 0h1m4 0h1m11 0h1m-41 1h1m3 0h2m16 0h1m63 0h2m-92 1h2m4 0h1m2 0h2m11 0h1m2 0h1m3 0h2m2 0h1m-9 1h1m5 0h1m1 0h1m-31 1h1m7 0h1m10 0h1m2 0h1m-23 1h1m18 0h2m5 0h1m10 0h1m-36 1h1m2 0h1m12 0h1m17 0h1m-20 1h2m8 0h1m8 0h1m-22 1h1m7 0h1m3 0h2m17 0h1m-32 1h1m3 0h1m1 0h1m18 0h1m6 0h1m-27 1h1m16 0h1m1 0h1m9 0h1m-33 1h3m4 0h1m2 0h1m9 0h1m1 0h1m-30 1h1m1 0h1m1 0h1m8 0h2m1 0h1m1 0h1m19 0h1m-39 1h1m18 0h1m213 0h1m-219 1h2m2 0h2m2 0h3m7 0h1m9 0h1m2 0h1m186 0h1m-232 1h1m19 0h1m2 0h1m1 0h1m1 0h1m2 0h3m9 0h1m-40 1h2m1 0h1m3 0h1m17 0h1m1 0h1m7 0h1m19 0h1m3 0h2m40 0h1m120 0h1m-220 1h2m2 0h1m4 0h1m6 0h1m5 0h2m5 0h1m10 0h1m3 0h1m6 0h2m161 0h1m4 0h1m-208 1h1m8 0h2m5 0h2m3 0h1m8 0h1m1 0h3m2 0h1m1 0h1m7 0h1m4 0h1m16 0h1m32 0h1m3 0h1m95 0h1m-198 1h1m10 0h2m3 0h1m4 0h1m3 0h1m2 0h2m2 0h1m1 0h1m1 0h1m14 0h1m5 0h1m14 0h1m2 0h1m3 0h1m7 0h1m9 0h1m3 0h1m4 0h1m6 0h1m2 0h1m3 0h1m57 0h1m-175 1h1m24 0h1m2 0h2m13 0h1m9 0h1m14 0h1m2 0h1m3 0h1m2 0h1m7 0h1m4 0h1m10 0h1m6 0h1m6 0h1m57 0h1m47 0h1m-145 1h1m6 0h1m3 0h1m4 0h1m7 0h1m7 0h1m32 0h2m2 0h1m13 0h1m2 0h1m6 0h1m7 0h3m1 0h1m3 0h1m3 0h1m21 0h1m-159 1h1m15 0h1m22 0h1m6 0h1m30 0h1m13 0h1m11 0h1m5 0h1m10 0h1m1 0h1m2 0h1m6 0h1m28 0h1m9 0h1m8 0h1m26 0h1m102 0h1m62 0h1"/>
<path stroke="#006eff" d="M0 .5m102 430h1m-1 1h1m-2 3h1m-1 1h1m0 6h1m-1 1h1m-2 14h1m1 1h1m-3 2h1m45 0h1m-42 2h1m70 0h1m-77 1h2m76 0h1m-75 2h1m-1 2h1m-5 1h1m73 0h1m-75 1h1m3 2h1m-4 1h1m-1 2h1m44 0h1m20 0h1m3 0h1m-3 1h1m1 0h1m-3 1h1m-24 1h2m-43 1h1m38 0h1m22 0h1m-63 1h1m57 0h1m-60 2h1m-3 1h1m40 0h1m-1 1h1m-43 1h1m41 0h1m18 0h1m-62 1h1m42 0h1m14 1h1m-19 1h1m11 0h1m5 0h1m-3 1h1m1 0h1m-17 1h1m-41 1h1m39 0h1m11 0h1m1 0h1m-54 1h1m37 0h1m12 0h1m1 0h1m-54 1h1m37 0h1m-38 1h1m42 0h2m2 0h1m-47 1h1m34 0h1m8 0h1m-27 3h1m19 0h1m-42 1h1m-2 1h1m45 0h1m-44 1h1m33 0h1m-35 1h1m29 0h1m-34 1h1m41 0h1m-24 1h1m13 0h1m9 0h1m-42 1h1m27 0h1m9 0h1m3 1h1m-45 1h1m26 0h1m4 0h1m-33 1h1m27 0h1m-1 1h1m9 0h1m-12 1h1m-25 1h1m1 0h1m9 0h1m-11 1h1m9 0h1m15 0h1m-29 1h1m27 0h1m-29 1h1m27 0h1m-30 1h2m3 0h1m8 0h1m1 0h1m11 0h2m-25 1h1m2 0h1m18 0h3m-26 1h1m4 0h1m2 1h1m-1 1h1m13 0h1m11 0h1m-38 1h2m0 2h1m6 0h1m12 0h1m-15 1h2m10 0h1m-20 1h1m18 0h1m2 1h1m6 0h1m-25 1h1m18 0h1m4 0h1m-24 1h1m6 1h1m1 0h1m9 0h1m5 0h1m-19 1h2m8 0h1m18 0h1m27 0h1m-59 1h1m20 0h1m36 0h1m-60 1h1m-1 1h1m9 0h1m5 0h1m13 0h1m-31 1h1m4 0h2m1 0h1m4 0h1m1 0h1m14 0h1m4 0h1m6 0h1m-41 1h1m3 0h1m4 0h1m1 0h1m2 0h1m19 0h1m-35 1h1m9 0h1m5 0h1m7 0h1m3 0h1m-24 1h1m9 0h1m3 0h1m13 0h1m4 0h1m5 0h1m1 0h1m-37 1h1m15 0h1m11 0h1m3 0h1m1 0h1m1 0h1m1 0h1m1 0h1m8 0h1m13 0h1m2 0h1m-64 1h1m14 0h1m13 0h1m4 0h2m1 0h1m6 0h1m11 0h1m1 0h1m1 0h2m1 0h1m7 0h1m-23 1h1m7 0h1m2 0h1m11 0h1m26 0h1m45 0h1m53 0h1m5 0h1m-146 1h1m11 0h2m13 0h1m15 0h1m7 0h1m6 0h1m4 0h1m9 0h1m6 0h1m4 0h1m7 0h1m2 0h1m48 0h1m24 0h1m11 0h1m-168 1h1m5 0h1m18 0h1m10 0h1m11 0h1m47 0h1m3 0h1m9 0h1m5 0h1m2 0h1m1 0h1m12 0h1m11 0h1m5 0h1m2 0h1m11 0h1"/>
<path stroke="#0089ff" d="M0 .5m103 431h1m0 19h1m-2 11h1m75 6h1m-1 1h1m-79 1h1m77 0h1m-33 1h1m0 4h1m-1 1h1m19 1h1m-68 2h1m44 0h1m-2 1h1m20 0h1m5 0h1m-72 1h1m43 0h2m17 0h1m7 0h1m-12 1h1m-1 1h1m2 0h1m-59 2h1m39 0h1m14 0h1m-61 1h1m3 0h1m55 0h1m-7 1h1m1 0h1m-15 1h1m18 0h1m-60 1h1m49 0h1m-4 1h1m-1 1h1m3 1h1m-15 1h2m12 0h1m-14 1h1m8 0h1m-11 2h2m3 0h1m-42 1h2m32 0h1m1 0h1m3 0h1m-6 1h2m2 0h2m5 0h1m-46 1h1m-3 1h1m32 0h1m9 0h1m-44 1h1m33 1h1m8 0h1m-44 1h1m2 0h1m32 0h1m3 0h1m-14 1h1m5 0h1m-32 1h1m15 0h1m8 0h1m5 0h1m-32 1h1m13 0h1m11 0h1m-30 1h1m1 0h1m14 0h1m18 1h1m-20 2h1m-1 1h1m13 2h1m-17 2h1m5 0h1m-1 1h1m-9 3h1m-9 2h1m8 0h1m12 0h1m-24 1h1m2 0h1m1 0h1m16 0h1m-20 1h1m1 0h1m13 0h1m-19 1h1m23 0h1m-25 1h1m5 0h1m10 0h1m-1 1h1m2 0h1m-3 1h1m-6 2h2m7 1h1m6 0h1m-17 1h1m20 0h1m13 0h1m-42 1h1m5 0h1m1 0h1m23 0h1m-17 1h1m5 0h1m-2 1h1m6 0h2m-20 1h1m225 0h1m-213 1h1m1 0h2m2 0h1m205 0h1m-176 1h1m3 0h1m23 0h1m3 0h1m38 0h1m-90 1h1m17 0h1m11 0h1m19 0h1m5 0h1m32 0h1m-65 1h1m14 0h1m25 0h1m19 0h1m18 0h1m21 0h1m-42 1h1m1 0h1m4 0h1m30 0h1m2 0h1m11 0h1m6 0h1m34 0h1m6 0h1m10 0h1"/>
<path stroke="#00a0ff" d="M0 .5m102 440h1m45 27h1m-2 1h2m-47 2h1m-2 2h1m-1 4h1m-1 1h2m0 3h1m59 0h1m-1 1h1m1 1h1m-65 1h1m59 0h1m-58 1h1m-3 1h1m1 0h1m-2 1h1m55 0h1m-56 1h1m37 0h1m13 0h2m-54 1h1m50 0h1m-53 2h1m51 1h1m1 0h1m-55 1h1m48 0h1m-51 1h1m44 0h2m1 1h1m-48 1h1m35 0h1m7 0h1m2 0h1m-49 1h2m43 1h1m1 0h1m-3 1h1m-9 1h1m9 0h1m-7 1h1m-4 1h1m-36 1h1m29 0h1m9 0h1m-13 3h1m-29 1h1m33 2h1m-35 1h1m30 0h1m1 0h1m-11 1h1m-11 1h1m-3 1h2m-14 3h1m-1 1h1m2 0h1m3 0h1m1 3h1m12 0h1m-18 1h1m1 0h2m1 0h1m10 0h3m-21 1h1m5 0h1m-2 1h1m1 0h1m-9 1h1m7 0h1m1 0h1m7 0h1m-17 1h1m2 0h1m-1 1h1m8 4h1m6 0h2m-3 1h1m3 0h1m4 0h1m-9 1h2m1 0h1m-6 1h1m1 0h2m6 0h1m2 0h1m-10 1h1m33 0h1m-44 1h1m9 0h1m6 0h1m3 0h1m12 0h1m8 0h1m-31 1h1m11 0h1m8 0h1m-16 1h1m9 0h1m1 0h1m22 0h1m10 0h1m6 0h1m-62 1h1m27 0h1m1 0h2m16 0h1m6 0h1m8 0h1m42 0h1m-39 1h1m2 0h1m34 0h1m107 0h1m-132 1h1m31 0h1m11 0h1m4 0h1m20 0h1m34 0h1m10 0h1m14 0h1m10 0h1m1 0h1"/>
<path stroke="#00bcff" d="M0 .5m101 455h1m0 1h1m-2 7h2m-2 1h1m2 0h1m-4 1h1m-1 1h1m75 4h1m-32 2h1m-46 1h1m-1 1h1m-1 1h1m43 3h1m-45 1h3m59 0h1m-63 2h1m3 0h1m56 0h1m-62 1h2m43 0h1m13 0h1m-60 2h1m57 0h2m-3 1h2m-59 1h1m42 0h1m13 0h1m-15 1h1m-40 1h1m48 0h1m-52 1h1m48 0h4m-4 1h1m4 0h1m-17 1h1m-38 1h1m50 0h1m-3 1h2m-16 1h1m7 0h1m-44 1h1m41 0h1m1 0h1m-3 1h1m4 0h1m-49 1h1m34 0h1m-37 1h1m1 0h1m-3 1h1m1 0h1m35 1h1m3 0h2m-41 1h1m30 0h1m0 1h2m1 0h1m-38 1h1m31 0h1m-2 1h2m-4 1h1m0 1h1m-30 1h1m15 0h1m-16 1h1m27 0h1m-30 1h1m-2 1h3m-2 1h2m29 0h1m0 1h1m-12 1h1m10 0h1m-29 1h1m16 0h1m4 1h2m-24 2h1m20 0h1m-27 1h1m1 0h1m5 0h2m4 1h1m-5 1h1m-4 2h1m2 0h1m-6 1h1m3 0h1m-3 1h1m11 0h2m-3 1h2m1 2h1m-1 1h1m-9 1h1m7 0h1m1 0h1m-11 1h1m4 0h1m3 0h1m-9 1h1m3 0h1m-3 2h1m8 0h1m3 0h1m1 0h1m12 0h1m-27 1h1m7 0h1m4 0h1m9 0h1m6 0h1m-29 1h1m4 0h2m5 0h2m6 0h1m7 0h1m-21 1h1m9 0h1m4 0h2m13 0h1m20 0h1m34 0h1m-55 1h1m4 0h1m5 0h1m27 0h2m13 0h1m105 0h1m-157 1h1m5 0h1m2 0h1m10 0h2m1 0h2m10 0h1m10 0h1m2 0h1m1 0h1m5 0h1m36 0h1m1 0h1m59 0h1m-136 1h1m2 0h1m21 0h1m12 0h1m24 0h1m6 0h1m1 0h2m11 0h1m8 0h1m4 0h1m2 0h1m18 0h1m1 0h1m3 0h1m14 0h1m1 0h1m10 0h1m11 0h1"/>
<path stroke="#00dcff" d="M0 .5m102 466h1m-1 8h1m-1 1h1m43 4h1m-45 1h1m-1 1h1m42 1h1m-3 2h2m-2 1h2m-2 1h1m-1 2h1m-3 1h2m8 0h1m-50 1h1m50 0h2m-53 1h2m49 0h1m-52 1h1m1 1h1m34 0h2m8 0h1m-49 1h2m37 0h1m4 0h1m2 0h2m-49 1h1m49 0h1m-13 1h1m3 0h1m5 0h1m-13 1h1m10 0h1m-5 1h1m-7 1h1m5 0h1m-43 1h1m1 0h1m-1 1h1m30 0h1m6 0h1m-39 1h1m37 0h1m-39 1h1m32 0h1m2 0h2m-38 1h1m28 0h1m6 0h1m-37 1h1m29 1h1m4 0h1m-37 1h1m-1 1h2m26 0h2m4 0h1m-10 1h1m-1 2h1m-25 1h1m-1 1h1m-1 1h1m1 0h1m-1 2h1m22 0h1m-24 1h1m9 1h1m-13 2h1m-1 1h1m20 0h1m-22 2h1m4 0h1m5 0h1m-7 1h1m-3 1h1m12 0h1m-2 2h1m-3 2h1m4 0h1m1 1h1m-6 2h1m2 0h1m3 0h1m-6 1h1m1 0h1m2 0h1m13 0h1m-19 1h1m3 0h1m5 0h1m7 0h1m1 0h1m-17 1h1m5 0h1m19 0h1m-23 1h1m14 0h1m6 0h1m1 0h1m9 0h1m-11 1h2m8 0h1m5 0h1m12 0h1m8 0h1m22 0h1m9 0h1m-51 1h1m19 0h1m3 0h1m1 0h1m6 0h1m6 0h1m9 0h1m2 0h1m24 0h1m15 0h1m-74 1h1m44 0h1m11 0h1m8 0h1m6 0h1m31 0h1m3 0h1m1 0h1m39 0h1m3 0h1"/>
<path stroke="#0df5ea" d="M0 .5m102 487h1m-1 1h1m53 0h2m-56 1h1m37 1h1m14 0h1m-16 1h1m-39 4h1m46 0h1m-5 2h1m-3 1h1m2 0h1m-5 1h2m-43 2h1m41 0h1m-42 1h1m31 0h1m7 1h1m-11 1h1m-1 2h1m0 1h1m-3 2h1m-26 1h1m29 0h1m-5 1h1m3 0h1m-5 1h1m-8 3h1m-5 2h1m-18 2h1m2 0h1m-3 1h1m-1 1h1m6 0h1m3 1h1m-11 2h1m-1 1h1m2 0h1m-4 1h1m14 0h1m-16 1h1m8 3h1m1 0h1m1 1h1m-6 1h2m1 0h2m4 0h1m-7 1h2m-2 1h1m1 0h1m3 0h1m0 1h2m5 0h1m2 0h1m-10 1h1m1 1h1m13 0h1m4 0h1m9 0h1m10 0h1m4 0h1m5 0h1m-8 1h1m20 0h1m18 0h1m17 0h1m1 0h1m3 0h1m80 0h1m9 0h1m-138 1h1m21 0h1m17 0h1m5 0h1m30 0h1m7 0h1m4 0h1m8 0h1m3 0h1m23 0h1m9 0h1"/>
<path stroke="#22ffd4" d="M0 .5m101 487h1m0 10h1m33 0h1m9 0h1m-46 1h1m34 0h1m8 0h1m-9 1h1m7 0h1m1 0h1m-11 1h1m4 0h1m1 1h1m-12 1h1m7 0h1m-8 1h1m3 0h1m-37 1h2m-2 1h1m31 0h1m1 0h1m3 0h1m-11 1h1m-26 1h1m24 0h1m1 0h1m1 1h1m-6 1h1m0 1h3m2 0h1m-9 1h1m2 0h1m-28 1h1m1 0h1m21 0h1m-1 1h1m3 0h1m-29 1h1m1 0h1m-3 1h1m18 0h1m-18 1h1m16 0h1m5 0h1m1 0h1m-26 1h1m12 0h1m-17 1h1m23 0h1m-17 3h1m13 0h1m-19 1h1m4 1h1m-7 2h1m4 0h1m-4 1h1m9 2h2m-4 3h2m5 2h1m-6 2h2m18 0h1m4 0h1m10 0h1m3 0h1m-35 1h1m5 0h1m5 0h1m1 0h1m4 0h2m9 0h1m3 0h1m-7 1h3m11 0h1m44 0h1m-50 1h2m2 0h1m2 0h1m1 0h1m27 0h1m8 0h1m2 0h1m29 0h1m-43 1h1m5 0h1m20 0h1m1 0h1m9 0h1m1 0h2m5 0h1m24 0h1m14 0h1m2 0h1m44 0h1"/>
<path stroke="#38ffbf" d="M0 .5m101 489h1m-1 3h1m-1 1h1m45 3h2m-12 2h1m-36 3h1m38 0h1m-40 2h1m34 1h2m0 1h1m-4 1h1m-2 2h1m2 0h1m-36 1h1m28 0h1m-31 1h1m26 0h1m-1 1h1m3 0h1m-8 1h1m-25 1h2m24 0h1m-24 2h1m18 0h1m-2 1h1m1 0h1m2 2h1m-25 4h1m9 2h1m1 0h1m1 3h1m-3 5h1m-2 1h2m-1 1h1m3 1h2m-1 1h1m4 0h1m1 0h1m9 0h1m-1 1h1m8 0h1m33 0h1m-19 1h1m8 0h1m8 0h1m3 0h1m44 0h1m-56 1h1m8 0h1m8 0h1m13 0h1m4 0h1m3 0h1m5 0h3m5 0h1m24 0h1m1 0h1m17 0h1m19 0h1"/>
<path stroke="#4dffaa" d="M0 .5m101 490h1m-1 10h1m37 3h1m-1 1h1m-3 1h1m3 0h1m-7 1h1m1 0h1m-37 1h1m34 0h2m-2 1h1m-7 1h1m3 0h1m-33 2h1m28 0h1m-4 1h1m-5 1h1m1 0h1m5 0h1m-31 1h1m21 0h1m2 0h1m-26 1h1m1 2h1m-1 1h1m13 1h1m-16 2h1m-1 1h1m1 0h1m-1 1h1m-2 2h1m3 0h1m-5 1h1m3 0h2m3 0h1m3 0h1m-13 1h1m1 0h1m1 0h1m-3 1h3m-2 1h1m3 5h1m1 0h1m3 0h1m8 1h1m-12 1h1m1 0h1m5 0h1m25 0h1m-14 1h1m11 0h1m-5 1h1m28 0h1m9 0h1m1 0h1m2 0h1m-19 1h1m13 0h1m6 0h1m9 0h1m7 0h1m7 0h1m12 0h1m31 0h1m14 0h1"/>
<path stroke="#64ff93" d="M0 .5m101 496h1m-1 1h1m-1 2h1m-1 6h1m-1 1h1m36 0h1m-37 1h1m31 0h2m-34 1h1m30 1h1m-1 1h1m-31 1h1m25 1h2m-30 1h1m24 1h1m3 0h1m-30 1h1m24 0h1m2 0h1m-27 1h1m20 0h1m-22 1h1m23 0h2m-4 1h1m1 0h1m-25 1h1m-2 4h1m2 1h1m-3 2h1m4 1h1m0 2h1m2 3h1m-1 1h3m1 2h1m2 0h1m2 0h1m-4 1h1m12 0h1m3 0h1m-14 1h1m11 1h1m13 0h1m3 0h1m25 0h2m2 0h1m-15 1h1m13 0h1m16 0h1m19 0h2m6 0h1m3 0h1m1 0h1m3 0h1m9 0h1"/>
<path stroke="#7bff7c" d="M0 .5m101 502h1m36 3h1m-38 3h1m-1 1h2m32 0h1m-35 1h1m0 2h1m26 1h2m-30 1h1m26 0h2m-28 2h1m-1 1h1m19 0h1m-6 3h1m5 2h2m-8 1h1m3 0h1m-18 1h1m14 0h1m-18 1h1m11 0h1m-10 1h1m11 1h1m-12 1h1m-1 1h2m7 0h1m-10 1h1m6 1h1m-1 1h1m1 2h1m-1 1h1m-1 1h1m4 0h1m1 0h1m4 0h1m12 0h1m-21 1h1m1 0h1m2 0h1m4 0h1m5 0h1m3 0h1m3 0h1m-13 1h1m3 0h1m1 0h1m12 0h1m3 0h1m21 0h2m15 0h1m-21 1h1m7 0h1m7 0h1m3 0h1m10 0h2m2 0h1"/>
<path stroke="#91ff66" d="M0 .5m101 503h1m-1 1h1m-1 7h1m-1 1h1m29 0h1m-5 3h2m-28 1h1m25 0h1m-9 1h1m3 0h1m-5 1h1m-19 1h2m16 0h1m5 0h1m-9 2h2m4 0h1m-22 1h1m0 1h1m11 1h1m0 1h1m-12 4h1m7 5h1m-3 1h1m1 0h1m3 1h1m16 0h1m-19 1h1m2 0h1m12 0h1m1 0h1m8 0h1m1 0h1m20 0h1m2 0h1m-39 1h1m26 0h1m7 0h1m2 0h1m-5 1h1m1 0h2m8 0h1m8 0h1m10 0h1m19 0h1"/>
<path stroke="#a6ff50" d="M0 .5m126 516h1m-3 1h1m1 0h1m-3 1h1m-22 2h1m17 4h1m-8 2h1m-11 1h1m-1 1h2m4 0h1m-7 1h1m2 1h1m2 2h1m-1 1h1m1 2h1m1 2h1m6 0h1m11 0h1m16 0h1m-23 1h1m1 0h1m19 0h1m1 1h1m1 0h1m8 0h1m12 0h1m2 0h1m19 0h1m1 0h1"/>
<path stroke="#bcff3b" d="M0 .5m125 517h1m-5 1h1m-20 2h1m-2 2h1m16 0h1m-16 2h1m13 0h1m-15 1h1m7 1h1m-9 1h1m12 0h1m-15 1h2m12 0h1m-14 1h1m4 1h1m2 2h1m-3 3h1m4 0h1m-3 1h3m-3 1h1m11 0h1m1 0h1m33 0h1m-18 1h1m4 0h1m11 0h1m3 0h1m-24 1h1m7 0h1m37 0h1"/>
<path stroke="#d2ff25" d="M0 .5m101 517h1m-1 1h1m16 0h1m5 1h1m-1 1h1m-23 1h1m14 1h1m1 1h1m-18 1h1m15 0h1m1 0h1m-9 1h1m4 0h3m-18 1h1m9 0h1m5 0h1m-10 4h1m1 6h1m5 1h1m10 0h2m5 0h1m10 1h1m5 0h1m1 0h1m1 0h1m7 1h1m30 0h1"/>
<path stroke="#e7ff10" d="M0 .5m123 518h1m-1 1h1m-23 1h1m-1 1h1m16 2h1m3 0h1m-22 1h1m13 1h1m-6 1h1m4 0h1m-6 1h1m-1 2h1m-7 1h2m4 0h1m3 0h1m-10 1h3m-3 1h1m1 1h1m1 0h1m-1 1h3m-2 1h1m-1 1h1m7 1h1m-1 1h1m7 0h1m10 0h1m9 0h1m9 0h1m-10 1h1m8 0h1m12 0h1m7 0h1m1 0h1"/>
<path stroke="#fbf100" d="M0 .5m118 520h1m-18 3h1m21 0h1m-23 2h1m-1 2h2m12 0h1m-13 3h1m9 0h1m-5 1h1m-6 1h1m1 0h1m4 1h1m-3 3h1m32 1h1m-23 1h1m2 0h1m1 0h1m15 0h2m-13 1h1m1 0h1m2 0h1m22 0h1m14 0h1"/>
<path stroke="#ffd700" d="M0 .5m122 518h1m0 2h1m-5 2h1m-19 4h1m14 0h1m-6 1h1m1 0h1m-1 1h1m-12 1h1m-2 1h1m1 1h2m7 0h1m-5 3h1m-1 1h1m1 2h1m2 0h1m1 0h1m23 0h1m-23 1h1m15 0h1m5 0h2m3 0h1m-9 1h1m2 0h1m3 0h1m7 0h1m14 0h1"/>
<path stroke="#ffbb00" d="M0 .5m122 520h1m-9 7h1m-1 1h2m-8 3h1m-1 1h1m-4 1h2m-2 1h2m4 3h1m10 1h1m1 0h1m2 0h1m1 0h1m4 0h1m-8 1h1m17 0h1m1 0h1m2 0h1m9 0h1m1 0h1m9 0h1m8 0h1"/>
<path stroke="#ffa200" d="M0 .5m120 520h1m-1 3h1m-20 5h1m-1 1h1m0 1h1m-1 1h1m7 0h2m-10 1h1m4 0h1m1 0h1m-6 1h1m3 0h1m-2 1h1m-1 1h1m0 1h1m-1 1h2m1 1h2m6 0h1m39 0h1m-42 1h1m40 0h1m1 0h1"/>
<path stroke="#ff8a00" d="M0 .5m120 518h1m-1 1h3m-4 1h1m-1 1h1m1 1h1m-10 5h1m-1 1h1m-2 2h1m-9 2h1m-1 1h1m-1 1h2m2 2h1m-1 2h1m7 0h1m1 1h1m5 0h1m16 0h1m12 0h1m1 0h2"/>
<path stroke="#ff7000" d="M0 .5m121 520h1m-2 1h3m-3 1h1m1 0h1m-12 6h1m2 1h1m-9 6h1m-1 1h1m6 2h1m7 0h1m11 1h1"/>
<path stroke="#ff5700" d="M0 .5m111 529h2m-12 2h1m-1 1h1m0 1h1m-2 1h1m-1 1h1m1 0h1m-1 1h1m3 1h1m4 2h1m6 0h1m2 0h1m6 0h1m4 0h1m7 0h1m1 0h1m1 0h1"/>
<path stroke="#ff3e00" d="M0 .5m113 529h1m-2 1h1m-11 4h1m1 1h1m4 3h2m-1 1h1m17 0h1m2 0h1m6 0h1"/>
<path stroke="#ff2500" d="M0 .5m101 533h1m0 2h1m3 2h1m-1 1h1m1 0h1m5 0h1m-8 1h1m16 0h1m12 0h1"/>
<path stroke="#f60c00" d="M0 .5m102 536h1m1 0h1"/>
<path stroke="#d70000" d="M0 .5m105 535h1m-1 1h1m-4 1h1m2 1h1m10 0h1m-1 1h1m9 0h1"/>
<path stroke="#b90000" d="M0 .5m101 536h1m12 3h1m10 0h1"/>
<path stroke="#940000" d="M0 .5m103 537h3m-3 1h1m16 1h1"/>
<path stroke="#800000" d="M0 .5m101 537h1m-1 1h2m1 1h2m7 0h1m1 0h1"/>
<path stroke="#800000" d="M0 .5m104 538h1m-2 1h1m2 0h1m1 0h2m11 0h1"/>
<path stroke="#800000" d="M0 .5m101 539h2m8 0h1"/>
</g>
<g id="frame" fill="none" stroke="#000" stroke-width="1" shape-rendering="crispEdges">
<rect x="100.5" y="72.5" width="496" height="468"/>
<path d="M199.5 72v6M298.5 72v6M398.5 72v6M497.5 72v6M199.5 540v-6M298.5 540v-6M398.5 540v-6M497.5 540v-6"/>
<path d="M100 446.5h6M100 353.5h6M100 259.5h6M100 166.5h6M596 446.5h-6M596 353.5h-6M596 259.5h-6M596 166.5h-6"/>
</g>
<rect x="627.5" y="72.5" width="23" height="468" fill="url(#jet)" stroke="#000" stroke-width="1" shape-rendering="crispEdges"/>
<path d="M651 384.5h-6M651 228.5h-6" stroke="#000" stroke-width="1" fill="none" shape-rendering="crispEdges"/>
<g class="txt">
<g text-anchor="middle">
<text x="400" y="24">205 day GCR cross plot data derived from 17328464 accumulated seconds</text>
<text x="413" y="42">from 2009-06-26 DOY:177</text>
<text x="400" y="60">through 2010-01-16 DOY:016</text>
<text x="348" y="576">LET in D1&amp;2 (keV/micron)</text>
<text class="tk" x="99.3" y="557">0</text>
<text class="tk" x="198.3" y="557">100</text>
<text class="tk" x="297.3" y="557">200</text>
<text class="tk" x="397.3" y="557">300</text>
<text class="tk" x="496.3" y="557">400</text>
<text class="tk" x="595.3" y="557">500</text>
<text transform="translate(56 306) rotate(-90)">LET in D3&amp;4 (keV/micron)</text>
<text transform="translate(713 306) rotate(-90)">Counts</text>
</g>
<g text-anchor="end" class="tk">
<text x="94.4" y="546">0</text>
<text x="94.4" y="452">100</text>
<text x="93.6" y="358">200</text>
<text x="94.4" y="265">300</text>
<text x="94.4" y="171">400</text>
<text x="94.4" y="78">500</text>
</g>
<g class="tk">
<text x="654.5" y="546">1</text>
<text x="654.5" y="390">10</text>
<text x="654.5" y="234">100</text>
<text x="654.5" y="78">1000</text>
</g>
</g>
</svg>
</body></html>
